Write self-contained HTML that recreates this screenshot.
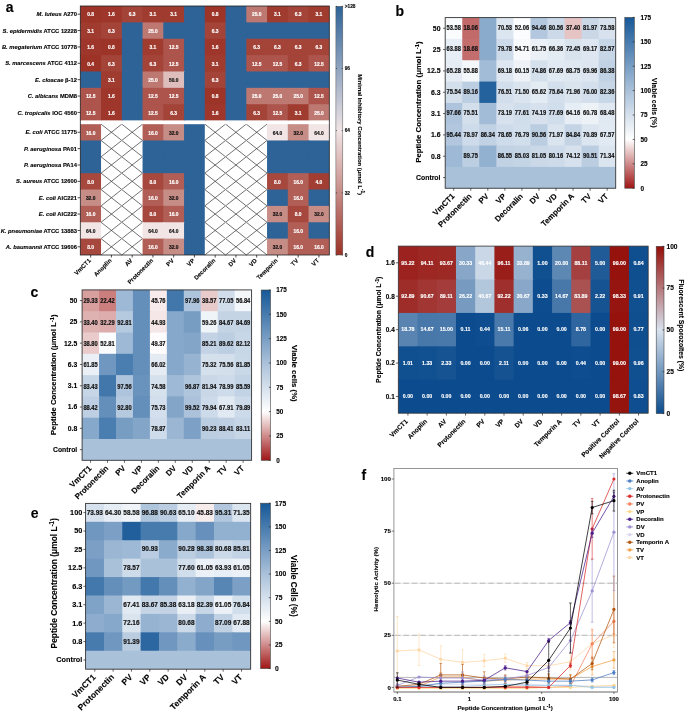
<!DOCTYPE html>
<html><head><meta charset="utf-8"><style>
html,body{margin:0;padding:0;background:#fff;}
body{width:685px;height:714px;overflow:hidden;}
svg{display:block;font-family:"Liberation Sans", sans-serif;will-change:transform;}
</style></head><body>
<svg width="685" height="714" viewBox="0 0 685 714">
<rect x="0" y="0" width="685" height="714" fill="#ffffff"/>
<rect x="80.30" y="6.00" width="21.75" height="17.37" fill="#9d3428"/>
<text x="90.67" y="16.48" font-size="4.90" text-anchor="middle" font-weight="bold" fill="#fff" stroke="#fff" stroke-width="0.15">0.8</text>
<rect x="101.05" y="6.00" width="21.75" height="17.37" fill="#9e362b"/>
<text x="111.42" y="16.48" font-size="4.90" text-anchor="middle" font-weight="bold" fill="#fff" stroke="#fff" stroke-width="0.15">1.6</text>
<rect x="121.80" y="6.00" width="21.75" height="17.37" fill="#a44439"/>
<text x="132.18" y="16.48" font-size="4.90" text-anchor="middle" font-weight="bold" fill="#fff" stroke="#fff" stroke-width="0.15">6.3</text>
<rect x="142.55" y="6.00" width="21.75" height="17.37" fill="#a03b2f"/>
<text x="152.93" y="16.48" font-size="4.90" text-anchor="middle" font-weight="bold" fill="#fff" stroke="#fff" stroke-width="0.15">3.1</text>
<rect x="163.30" y="6.00" width="21.75" height="17.37" fill="#a03b2f"/>
<text x="173.68" y="16.48" font-size="4.90" text-anchor="middle" font-weight="bold" fill="#fff" stroke="#fff" stroke-width="0.15">3.1</text>
<rect x="184.05" y="6.00" width="21.75" height="17.37" fill="#2e6398"/>
<rect x="204.80" y="6.00" width="21.75" height="17.37" fill="#9d3428"/>
<text x="215.18" y="16.48" font-size="4.90" text-anchor="middle" font-weight="bold" fill="#fff" stroke="#fff" stroke-width="0.15">0.8</text>
<rect x="225.55" y="6.00" width="21.75" height="17.37" fill="#2e6398"/>
<rect x="246.30" y="6.00" width="21.75" height="17.37" fill="#bd7871"/>
<text x="256.68" y="16.48" font-size="4.90" text-anchor="middle" font-weight="bold" fill="#fff" stroke="#fff" stroke-width="0.15">25.0</text>
<rect x="267.05" y="6.00" width="21.75" height="17.37" fill="#a03b2f"/>
<text x="277.43" y="16.48" font-size="4.90" text-anchor="middle" font-weight="bold" fill="#fff" stroke="#fff" stroke-width="0.15">3.1</text>
<rect x="287.80" y="6.00" width="21.75" height="17.37" fill="#a44439"/>
<text x="298.18" y="16.48" font-size="4.90" text-anchor="middle" font-weight="bold" fill="#fff" stroke="#fff" stroke-width="0.15">6.3</text>
<rect x="308.55" y="6.00" width="20.75" height="17.37" fill="#a03b2f"/>
<text x="318.93" y="16.48" font-size="4.90" text-anchor="middle" font-weight="bold" fill="#fff" stroke="#fff" stroke-width="0.15">3.1</text>
<text x="77.00" y="16.29" font-size="5.80" text-anchor="end" font-weight="bold" fill="#000" stroke="#000" stroke-width="0.12"><tspan font-style="italic">M. luteus</tspan> A270</text>
<line x1="77.60" y1="14.19" x2="80.30" y2="14.19" stroke="#000" stroke-width="0.70"/>
<rect x="80.30" y="22.37" width="21.75" height="17.37" fill="#a03b2f"/>
<text x="90.67" y="32.85" font-size="4.90" text-anchor="middle" font-weight="bold" fill="#fff" stroke="#fff" stroke-width="0.15">3.1</text>
<rect x="101.05" y="22.37" width="21.75" height="17.37" fill="#a44439"/>
<text x="111.42" y="32.85" font-size="4.90" text-anchor="middle" font-weight="bold" fill="#fff" stroke="#fff" stroke-width="0.15">6.3</text>
<rect x="121.80" y="22.37" width="21.75" height="17.37" fill="#2e6398"/>
<rect x="142.55" y="22.37" width="21.75" height="17.37" fill="#bd7871"/>
<text x="152.93" y="32.85" font-size="4.90" text-anchor="middle" font-weight="bold" fill="#fff" stroke="#fff" stroke-width="0.15">25.0</text>
<rect x="163.30" y="22.37" width="21.75" height="17.37" fill="#2e6398"/>
<rect x="184.05" y="22.37" width="21.75" height="17.37" fill="#2e6398"/>
<rect x="204.80" y="22.37" width="21.75" height="17.37" fill="#a44439"/>
<text x="215.18" y="32.85" font-size="4.90" text-anchor="middle" font-weight="bold" fill="#fff" stroke="#fff" stroke-width="0.15">6.3</text>
<rect x="225.55" y="22.37" width="21.75" height="17.37" fill="#2e6398"/>
<rect x="246.30" y="22.37" width="21.75" height="17.37" fill="#2e6398"/>
<rect x="267.05" y="22.37" width="21.75" height="17.37" fill="#2e6398"/>
<rect x="287.80" y="22.37" width="21.75" height="17.37" fill="#2e6398"/>
<rect x="308.55" y="22.37" width="20.75" height="17.37" fill="#2e6398"/>
<text x="77.00" y="32.66" font-size="5.80" text-anchor="end" font-weight="bold" fill="#000" stroke="#000" stroke-width="0.12"><tspan font-style="italic">S. epidermidis</tspan> ATCC 12228</text>
<line x1="77.60" y1="30.55" x2="80.30" y2="30.55" stroke="#000" stroke-width="0.70"/>
<rect x="80.30" y="38.74" width="21.75" height="17.37" fill="#9e362b"/>
<text x="90.67" y="49.23" font-size="4.90" text-anchor="middle" font-weight="bold" fill="#fff" stroke="#fff" stroke-width="0.15">1.6</text>
<rect x="101.05" y="38.74" width="21.75" height="17.37" fill="#9d3428"/>
<text x="111.42" y="49.23" font-size="4.90" text-anchor="middle" font-weight="bold" fill="#fff" stroke="#fff" stroke-width="0.15">0.8</text>
<rect x="121.80" y="38.74" width="21.75" height="17.37" fill="#2e6398"/>
<rect x="142.55" y="38.74" width="21.75" height="17.37" fill="#a03b2f"/>
<text x="152.93" y="49.23" font-size="4.90" text-anchor="middle" font-weight="bold" fill="#fff" stroke="#fff" stroke-width="0.15">3.1</text>
<rect x="163.30" y="38.74" width="21.75" height="17.37" fill="#ad554c"/>
<text x="173.68" y="49.23" font-size="4.90" text-anchor="middle" font-weight="bold" fill="#fff" stroke="#fff" stroke-width="0.15">12.5</text>
<rect x="184.05" y="38.74" width="21.75" height="17.37" fill="#2e6398"/>
<rect x="204.80" y="38.74" width="21.75" height="17.37" fill="#9e362b"/>
<text x="215.18" y="49.23" font-size="4.90" text-anchor="middle" font-weight="bold" fill="#fff" stroke="#fff" stroke-width="0.15">1.6</text>
<rect x="225.55" y="38.74" width="21.75" height="17.37" fill="#2e6398"/>
<rect x="246.30" y="38.74" width="21.75" height="17.37" fill="#a44439"/>
<text x="256.68" y="49.23" font-size="4.90" text-anchor="middle" font-weight="bold" fill="#fff" stroke="#fff" stroke-width="0.15">6.3</text>
<rect x="267.05" y="38.74" width="21.75" height="17.37" fill="#a44439"/>
<text x="277.43" y="49.23" font-size="4.90" text-anchor="middle" font-weight="bold" fill="#fff" stroke="#fff" stroke-width="0.15">6.3</text>
<rect x="287.80" y="38.74" width="21.75" height="17.37" fill="#a44439"/>
<text x="298.18" y="49.23" font-size="4.90" text-anchor="middle" font-weight="bold" fill="#fff" stroke="#fff" stroke-width="0.15">6.3</text>
<rect x="308.55" y="38.74" width="20.75" height="17.37" fill="#a44439"/>
<text x="318.93" y="49.23" font-size="4.90" text-anchor="middle" font-weight="bold" fill="#fff" stroke="#fff" stroke-width="0.15">6.3</text>
<text x="77.00" y="49.03" font-size="5.80" text-anchor="end" font-weight="bold" fill="#000" stroke="#000" stroke-width="0.12"><tspan font-style="italic">B. megaterium</tspan> ATCC 10778</text>
<line x1="77.60" y1="46.93" x2="80.30" y2="46.93" stroke="#000" stroke-width="0.70"/>
<rect x="80.30" y="55.11" width="21.75" height="17.37" fill="#9d3327"/>
<text x="90.67" y="65.59" font-size="4.90" text-anchor="middle" font-weight="bold" fill="#fff" stroke="#fff" stroke-width="0.15">0.4</text>
<rect x="101.05" y="55.11" width="21.75" height="17.37" fill="#a44439"/>
<text x="111.42" y="65.59" font-size="4.90" text-anchor="middle" font-weight="bold" fill="#fff" stroke="#fff" stroke-width="0.15">6.3</text>
<rect x="121.80" y="55.11" width="21.75" height="17.37" fill="#2e6398"/>
<rect x="142.55" y="55.11" width="21.75" height="17.37" fill="#a44439"/>
<text x="152.93" y="65.59" font-size="4.90" text-anchor="middle" font-weight="bold" fill="#fff" stroke="#fff" stroke-width="0.15">6.3</text>
<rect x="163.30" y="55.11" width="21.75" height="17.37" fill="#ad554c"/>
<text x="173.68" y="65.59" font-size="4.90" text-anchor="middle" font-weight="bold" fill="#fff" stroke="#fff" stroke-width="0.15">12.5</text>
<rect x="184.05" y="55.11" width="21.75" height="17.37" fill="#2e6398"/>
<rect x="204.80" y="55.11" width="21.75" height="17.37" fill="#a03b2f"/>
<text x="215.18" y="65.59" font-size="4.90" text-anchor="middle" font-weight="bold" fill="#fff" stroke="#fff" stroke-width="0.15">3.1</text>
<rect x="225.55" y="55.11" width="21.75" height="17.37" fill="#2e6398"/>
<rect x="246.30" y="55.11" width="21.75" height="17.37" fill="#ad554c"/>
<text x="256.68" y="65.59" font-size="4.90" text-anchor="middle" font-weight="bold" fill="#fff" stroke="#fff" stroke-width="0.15">12.5</text>
<rect x="267.05" y="55.11" width="21.75" height="17.37" fill="#ad554c"/>
<text x="277.43" y="65.59" font-size="4.90" text-anchor="middle" font-weight="bold" fill="#fff" stroke="#fff" stroke-width="0.15">12.5</text>
<rect x="287.80" y="55.11" width="21.75" height="17.37" fill="#a44439"/>
<text x="298.18" y="65.59" font-size="4.90" text-anchor="middle" font-weight="bold" fill="#fff" stroke="#fff" stroke-width="0.15">6.3</text>
<rect x="308.55" y="55.11" width="20.75" height="17.37" fill="#ad554c"/>
<text x="318.93" y="65.59" font-size="4.90" text-anchor="middle" font-weight="bold" fill="#fff" stroke="#fff" stroke-width="0.15">12.5</text>
<text x="77.00" y="65.39" font-size="5.80" text-anchor="end" font-weight="bold" fill="#000" stroke="#000" stroke-width="0.12"><tspan font-style="italic">S. marcescens</tspan> ATCC 4112</text>
<line x1="77.60" y1="63.30" x2="80.30" y2="63.30" stroke="#000" stroke-width="0.70"/>
<rect x="80.30" y="71.48" width="21.75" height="17.37" fill="#2e6398"/>
<rect x="101.05" y="71.48" width="21.75" height="17.37" fill="#a03b2f"/>
<text x="111.42" y="81.97" font-size="4.90" text-anchor="middle" font-weight="bold" fill="#fff" stroke="#fff" stroke-width="0.15">3.1</text>
<rect x="121.80" y="71.48" width="21.75" height="17.37" fill="#2e6398"/>
<rect x="142.55" y="71.48" width="21.75" height="17.37" fill="#bd7871"/>
<text x="152.93" y="81.97" font-size="4.90" text-anchor="middle" font-weight="bold" fill="#fff" stroke="#fff" stroke-width="0.15">25.0</text>
<rect x="163.30" y="71.48" width="21.75" height="17.37" fill="#debebc"/>
<text x="173.68" y="81.97" font-size="4.90" text-anchor="middle" font-weight="bold" fill="#111" stroke="#111" stroke-width="0.15">50.0</text>
<rect x="184.05" y="71.48" width="21.75" height="17.37" fill="#2e6398"/>
<rect x="204.80" y="71.48" width="21.75" height="17.37" fill="#a44439"/>
<text x="215.18" y="81.97" font-size="4.90" text-anchor="middle" font-weight="bold" fill="#fff" stroke="#fff" stroke-width="0.15">6.3</text>
<rect x="225.55" y="71.48" width="21.75" height="17.37" fill="#2e6398"/>
<rect x="246.30" y="71.48" width="21.75" height="17.37" fill="#2e6398"/>
<rect x="267.05" y="71.48" width="21.75" height="17.37" fill="#2e6398"/>
<rect x="287.80" y="71.48" width="21.75" height="17.37" fill="#2e6398"/>
<rect x="308.55" y="71.48" width="20.75" height="17.37" fill="#2e6398"/>
<text x="77.00" y="81.77" font-size="5.80" text-anchor="end" font-weight="bold" fill="#000" stroke="#000" stroke-width="0.12"><tspan font-style="italic">E. cloacae</tspan> &#946;-12</text>
<line x1="77.60" y1="79.67" x2="80.30" y2="79.67" stroke="#000" stroke-width="0.70"/>
<rect x="80.30" y="87.85" width="21.75" height="17.37" fill="#ad554c"/>
<text x="90.67" y="98.34" font-size="4.90" text-anchor="middle" font-weight="bold" fill="#fff" stroke="#fff" stroke-width="0.15">12.5</text>
<rect x="101.05" y="87.85" width="21.75" height="17.37" fill="#9e362b"/>
<text x="111.42" y="98.34" font-size="4.90" text-anchor="middle" font-weight="bold" fill="#fff" stroke="#fff" stroke-width="0.15">1.6</text>
<rect x="121.80" y="87.85" width="21.75" height="17.37" fill="#2e6398"/>
<rect x="142.55" y="87.85" width="21.75" height="17.37" fill="#ad554c"/>
<text x="152.93" y="98.34" font-size="4.90" text-anchor="middle" font-weight="bold" fill="#fff" stroke="#fff" stroke-width="0.15">12.5</text>
<rect x="163.30" y="87.85" width="21.75" height="17.37" fill="#ad554c"/>
<text x="173.68" y="98.34" font-size="4.90" text-anchor="middle" font-weight="bold" fill="#fff" stroke="#fff" stroke-width="0.15">12.5</text>
<rect x="184.05" y="87.85" width="21.75" height="17.37" fill="#2e6398"/>
<rect x="204.80" y="87.85" width="21.75" height="17.37" fill="#9d3428"/>
<text x="215.18" y="98.34" font-size="4.90" text-anchor="middle" font-weight="bold" fill="#fff" stroke="#fff" stroke-width="0.15">0.8</text>
<rect x="225.55" y="87.85" width="21.75" height="17.37" fill="#2e6398"/>
<rect x="246.30" y="87.85" width="21.75" height="17.37" fill="#bd7871"/>
<text x="256.68" y="98.34" font-size="4.90" text-anchor="middle" font-weight="bold" fill="#fff" stroke="#fff" stroke-width="0.15">25.0</text>
<rect x="267.05" y="87.85" width="21.75" height="17.37" fill="#bd7871"/>
<text x="277.43" y="98.34" font-size="4.90" text-anchor="middle" font-weight="bold" fill="#fff" stroke="#fff" stroke-width="0.15">25.0</text>
<rect x="287.80" y="87.85" width="21.75" height="17.37" fill="#bd7871"/>
<text x="298.18" y="98.34" font-size="4.90" text-anchor="middle" font-weight="bold" fill="#fff" stroke="#fff" stroke-width="0.15">25.0</text>
<rect x="308.55" y="87.85" width="20.75" height="17.37" fill="#ad554c"/>
<text x="318.93" y="98.34" font-size="4.90" text-anchor="middle" font-weight="bold" fill="#fff" stroke="#fff" stroke-width="0.15">12.5</text>
<text x="77.00" y="98.14" font-size="5.80" text-anchor="end" font-weight="bold" fill="#000" stroke="#000" stroke-width="0.12"><tspan font-style="italic">C. albicans</tspan> MDM8</text>
<line x1="77.60" y1="96.04" x2="80.30" y2="96.04" stroke="#000" stroke-width="0.70"/>
<rect x="80.30" y="104.22" width="21.75" height="16.37" fill="#ad554c"/>
<text x="90.67" y="114.70" font-size="4.90" text-anchor="middle" font-weight="bold" fill="#fff" stroke="#fff" stroke-width="0.15">12.5</text>
<rect x="101.05" y="104.22" width="21.75" height="16.37" fill="#9e362b"/>
<text x="111.42" y="114.70" font-size="4.90" text-anchor="middle" font-weight="bold" fill="#fff" stroke="#fff" stroke-width="0.15">1.6</text>
<rect x="121.80" y="104.22" width="21.75" height="16.37" fill="#2e6398"/>
<rect x="142.55" y="104.22" width="21.75" height="16.37" fill="#ad554c"/>
<text x="152.93" y="114.70" font-size="4.90" text-anchor="middle" font-weight="bold" fill="#fff" stroke="#fff" stroke-width="0.15">12.5</text>
<rect x="163.30" y="104.22" width="21.75" height="16.37" fill="#a44439"/>
<text x="173.68" y="114.70" font-size="4.90" text-anchor="middle" font-weight="bold" fill="#fff" stroke="#fff" stroke-width="0.15">6.3</text>
<rect x="184.05" y="104.22" width="21.75" height="16.37" fill="#2e6398"/>
<rect x="204.80" y="104.22" width="21.75" height="16.37" fill="#9e362b"/>
<text x="215.18" y="114.70" font-size="4.90" text-anchor="middle" font-weight="bold" fill="#fff" stroke="#fff" stroke-width="0.15">1.6</text>
<rect x="225.55" y="104.22" width="21.75" height="16.37" fill="#2e6398"/>
<rect x="246.30" y="104.22" width="21.75" height="16.37" fill="#a44439"/>
<text x="256.68" y="114.70" font-size="4.90" text-anchor="middle" font-weight="bold" fill="#fff" stroke="#fff" stroke-width="0.15">6.3</text>
<rect x="267.05" y="104.22" width="21.75" height="16.37" fill="#ad554c"/>
<text x="277.43" y="114.70" font-size="4.90" text-anchor="middle" font-weight="bold" fill="#fff" stroke="#fff" stroke-width="0.15">12.5</text>
<rect x="287.80" y="104.22" width="21.75" height="16.37" fill="#a03b2f"/>
<text x="298.18" y="114.70" font-size="4.90" text-anchor="middle" font-weight="bold" fill="#fff" stroke="#fff" stroke-width="0.15">3.1</text>
<rect x="308.55" y="104.22" width="20.75" height="16.37" fill="#bd7871"/>
<text x="318.93" y="114.70" font-size="4.90" text-anchor="middle" font-weight="bold" fill="#fff" stroke="#fff" stroke-width="0.15">25.0</text>
<text x="77.00" y="114.50" font-size="5.80" text-anchor="end" font-weight="bold" fill="#000" stroke="#000" stroke-width="0.12"><tspan font-style="italic">C. tropicalis</tspan> IOC 4560</text>
<line x1="77.60" y1="112.41" x2="80.30" y2="112.41" stroke="#000" stroke-width="0.70"/>
<rect x="80.30" y="124.10" width="21.75" height="17.36" fill="#b15f56"/>
<text x="90.67" y="134.58" font-size="4.90" text-anchor="middle" font-weight="bold" fill="#fff" stroke="#fff" stroke-width="0.15">16.0</text>
<rect x="101.05" y="124.10" width="21.75" height="17.36" fill="#ffffff"/>
<line x1="101.05" y1="124.10" x2="121.80" y2="140.46" stroke="#333" stroke-width="0.70"/>
<line x1="121.80" y1="124.10" x2="101.05" y2="140.46" stroke="#333" stroke-width="0.70"/>
<rect x="121.80" y="124.10" width="21.75" height="17.36" fill="#ffffff"/>
<line x1="121.80" y1="124.10" x2="142.55" y2="140.46" stroke="#333" stroke-width="0.70"/>
<line x1="142.55" y1="124.10" x2="121.80" y2="140.46" stroke="#333" stroke-width="0.70"/>
<rect x="142.55" y="124.10" width="21.75" height="17.36" fill="#b15f56"/>
<text x="152.93" y="134.58" font-size="4.90" text-anchor="middle" font-weight="bold" fill="#fff" stroke="#fff" stroke-width="0.15">16.0</text>
<rect x="163.30" y="124.10" width="21.75" height="17.36" fill="#c68c86"/>
<text x="173.68" y="134.58" font-size="4.90" text-anchor="middle" font-weight="bold" fill="#111" stroke="#111" stroke-width="0.15">32.0</text>
<rect x="184.05" y="124.10" width="21.75" height="17.36" fill="#2e6398"/>
<rect x="204.80" y="124.10" width="21.75" height="17.36" fill="#ffffff"/>
<line x1="204.80" y1="124.10" x2="225.55" y2="140.46" stroke="#333" stroke-width="0.70"/>
<line x1="225.55" y1="124.10" x2="204.80" y2="140.46" stroke="#333" stroke-width="0.70"/>
<rect x="225.55" y="124.10" width="21.75" height="17.36" fill="#ffffff"/>
<line x1="225.55" y1="124.10" x2="246.30" y2="140.46" stroke="#333" stroke-width="0.70"/>
<line x1="246.30" y1="124.10" x2="225.55" y2="140.46" stroke="#333" stroke-width="0.70"/>
<rect x="246.30" y="124.10" width="21.75" height="17.36" fill="#ffffff"/>
<line x1="246.30" y1="124.10" x2="267.05" y2="140.46" stroke="#333" stroke-width="0.70"/>
<line x1="267.05" y1="124.10" x2="246.30" y2="140.46" stroke="#333" stroke-width="0.70"/>
<rect x="267.05" y="124.10" width="21.75" height="17.36" fill="#f1e5e6"/>
<text x="277.43" y="134.58" font-size="4.90" text-anchor="middle" font-weight="bold" fill="#111" stroke="#111" stroke-width="0.15">64.0</text>
<rect x="287.80" y="124.10" width="21.75" height="17.36" fill="#c68c86"/>
<text x="298.18" y="134.58" font-size="4.90" text-anchor="middle" font-weight="bold" fill="#111" stroke="#111" stroke-width="0.15">32.0</text>
<rect x="308.55" y="124.10" width="20.75" height="17.36" fill="#f1e5e6"/>
<text x="318.93" y="134.58" font-size="4.90" text-anchor="middle" font-weight="bold" fill="#111" stroke="#111" stroke-width="0.15">64.0</text>
<text x="77.00" y="134.38" font-size="5.80" text-anchor="end" font-weight="bold" fill="#000" stroke="#000" stroke-width="0.12"><tspan font-style="italic">E. coli</tspan> ATCC 11775</text>
<line x1="77.60" y1="132.28" x2="80.30" y2="132.28" stroke="#000" stroke-width="0.70"/>
<rect x="80.30" y="140.46" width="21.75" height="17.36" fill="#2e6398"/>
<rect x="101.05" y="140.46" width="21.75" height="17.36" fill="#ffffff"/>
<line x1="101.05" y1="140.46" x2="121.80" y2="156.82" stroke="#333" stroke-width="0.70"/>
<line x1="121.80" y1="140.46" x2="101.05" y2="156.82" stroke="#333" stroke-width="0.70"/>
<rect x="121.80" y="140.46" width="21.75" height="17.36" fill="#ffffff"/>
<line x1="121.80" y1="140.46" x2="142.55" y2="156.82" stroke="#333" stroke-width="0.70"/>
<line x1="142.55" y1="140.46" x2="121.80" y2="156.82" stroke="#333" stroke-width="0.70"/>
<rect x="142.55" y="140.46" width="21.75" height="17.36" fill="#2e6398"/>
<rect x="163.30" y="140.46" width="21.75" height="17.36" fill="#2e6398"/>
<rect x="184.05" y="140.46" width="21.75" height="17.36" fill="#2e6398"/>
<rect x="204.80" y="140.46" width="21.75" height="17.36" fill="#ffffff"/>
<line x1="204.80" y1="140.46" x2="225.55" y2="156.82" stroke="#333" stroke-width="0.70"/>
<line x1="225.55" y1="140.46" x2="204.80" y2="156.82" stroke="#333" stroke-width="0.70"/>
<rect x="225.55" y="140.46" width="21.75" height="17.36" fill="#ffffff"/>
<line x1="225.55" y1="140.46" x2="246.30" y2="156.82" stroke="#333" stroke-width="0.70"/>
<line x1="246.30" y1="140.46" x2="225.55" y2="156.82" stroke="#333" stroke-width="0.70"/>
<rect x="246.30" y="140.46" width="21.75" height="17.36" fill="#ffffff"/>
<line x1="246.30" y1="140.46" x2="267.05" y2="156.82" stroke="#333" stroke-width="0.70"/>
<line x1="267.05" y1="140.46" x2="246.30" y2="156.82" stroke="#333" stroke-width="0.70"/>
<rect x="267.05" y="140.46" width="21.75" height="17.36" fill="#2e6398"/>
<rect x="287.80" y="140.46" width="21.75" height="17.36" fill="#2e6398"/>
<rect x="308.55" y="140.46" width="20.75" height="17.36" fill="#2e6398"/>
<text x="77.00" y="150.74" font-size="5.80" text-anchor="end" font-weight="bold" fill="#000" stroke="#000" stroke-width="0.12"><tspan font-style="italic">P. aeruginosa</tspan> PA01</text>
<line x1="77.60" y1="148.64" x2="80.30" y2="148.64" stroke="#000" stroke-width="0.70"/>
<rect x="80.30" y="156.82" width="21.75" height="17.36" fill="#2e6398"/>
<rect x="101.05" y="156.82" width="21.75" height="17.36" fill="#ffffff"/>
<line x1="101.05" y1="156.82" x2="121.80" y2="173.18" stroke="#333" stroke-width="0.70"/>
<line x1="121.80" y1="156.82" x2="101.05" y2="173.18" stroke="#333" stroke-width="0.70"/>
<rect x="121.80" y="156.82" width="21.75" height="17.36" fill="#ffffff"/>
<line x1="121.80" y1="156.82" x2="142.55" y2="173.18" stroke="#333" stroke-width="0.70"/>
<line x1="142.55" y1="156.82" x2="121.80" y2="173.18" stroke="#333" stroke-width="0.70"/>
<rect x="142.55" y="156.82" width="21.75" height="17.36" fill="#2e6398"/>
<rect x="163.30" y="156.82" width="21.75" height="17.36" fill="#2e6398"/>
<rect x="184.05" y="156.82" width="21.75" height="17.36" fill="#2e6398"/>
<rect x="204.80" y="156.82" width="21.75" height="17.36" fill="#ffffff"/>
<line x1="204.80" y1="156.82" x2="225.55" y2="173.18" stroke="#333" stroke-width="0.70"/>
<line x1="225.55" y1="156.82" x2="204.80" y2="173.18" stroke="#333" stroke-width="0.70"/>
<rect x="225.55" y="156.82" width="21.75" height="17.36" fill="#ffffff"/>
<line x1="225.55" y1="156.82" x2="246.30" y2="173.18" stroke="#333" stroke-width="0.70"/>
<line x1="246.30" y1="156.82" x2="225.55" y2="173.18" stroke="#333" stroke-width="0.70"/>
<rect x="246.30" y="156.82" width="21.75" height="17.36" fill="#ffffff"/>
<line x1="246.30" y1="156.82" x2="267.05" y2="173.18" stroke="#333" stroke-width="0.70"/>
<line x1="267.05" y1="156.82" x2="246.30" y2="173.18" stroke="#333" stroke-width="0.70"/>
<rect x="267.05" y="156.82" width="21.75" height="17.36" fill="#2e6398"/>
<rect x="287.80" y="156.82" width="21.75" height="17.36" fill="#2e6398"/>
<rect x="308.55" y="156.82" width="20.75" height="17.36" fill="#2e6398"/>
<text x="77.00" y="167.10" font-size="5.80" text-anchor="end" font-weight="bold" fill="#000" stroke="#000" stroke-width="0.12"><tspan font-style="italic">P. aeruginosa</tspan> PA14</text>
<line x1="77.60" y1="165.00" x2="80.30" y2="165.00" stroke="#000" stroke-width="0.70"/>
<rect x="80.30" y="173.18" width="21.75" height="17.36" fill="#a7483e"/>
<text x="90.67" y="183.66" font-size="4.90" text-anchor="middle" font-weight="bold" fill="#fff" stroke="#fff" stroke-width="0.15">8.0</text>
<rect x="101.05" y="173.18" width="21.75" height="17.36" fill="#ffffff"/>
<line x1="101.05" y1="173.18" x2="121.80" y2="189.54" stroke="#333" stroke-width="0.70"/>
<line x1="121.80" y1="173.18" x2="101.05" y2="189.54" stroke="#333" stroke-width="0.70"/>
<rect x="121.80" y="173.18" width="21.75" height="17.36" fill="#ffffff"/>
<line x1="121.80" y1="173.18" x2="142.55" y2="189.54" stroke="#333" stroke-width="0.70"/>
<line x1="142.55" y1="173.18" x2="121.80" y2="189.54" stroke="#333" stroke-width="0.70"/>
<rect x="142.55" y="173.18" width="21.75" height="17.36" fill="#a7483e"/>
<text x="152.93" y="183.66" font-size="4.90" text-anchor="middle" font-weight="bold" fill="#fff" stroke="#fff" stroke-width="0.15">8.0</text>
<rect x="163.30" y="173.18" width="21.75" height="17.36" fill="#b15f56"/>
<text x="173.68" y="183.66" font-size="4.90" text-anchor="middle" font-weight="bold" fill="#fff" stroke="#fff" stroke-width="0.15">16.0</text>
<rect x="184.05" y="173.18" width="21.75" height="17.36" fill="#2e6398"/>
<rect x="204.80" y="173.18" width="21.75" height="17.36" fill="#ffffff"/>
<line x1="204.80" y1="173.18" x2="225.55" y2="189.54" stroke="#333" stroke-width="0.70"/>
<line x1="225.55" y1="173.18" x2="204.80" y2="189.54" stroke="#333" stroke-width="0.70"/>
<rect x="225.55" y="173.18" width="21.75" height="17.36" fill="#ffffff"/>
<line x1="225.55" y1="173.18" x2="246.30" y2="189.54" stroke="#333" stroke-width="0.70"/>
<line x1="246.30" y1="173.18" x2="225.55" y2="189.54" stroke="#333" stroke-width="0.70"/>
<rect x="246.30" y="173.18" width="21.75" height="17.36" fill="#ffffff"/>
<line x1="246.30" y1="173.18" x2="267.05" y2="189.54" stroke="#333" stroke-width="0.70"/>
<line x1="267.05" y1="173.18" x2="246.30" y2="189.54" stroke="#333" stroke-width="0.70"/>
<rect x="267.05" y="173.18" width="21.75" height="17.36" fill="#a7483e"/>
<text x="277.43" y="183.66" font-size="4.90" text-anchor="middle" font-weight="bold" fill="#fff" stroke="#fff" stroke-width="0.15">8.0</text>
<rect x="287.80" y="173.18" width="21.75" height="17.36" fill="#b15f56"/>
<text x="298.18" y="183.66" font-size="4.90" text-anchor="middle" font-weight="bold" fill="#fff" stroke="#fff" stroke-width="0.15">16.0</text>
<rect x="308.55" y="173.18" width="20.75" height="17.36" fill="#a13d32"/>
<text x="318.93" y="183.66" font-size="4.90" text-anchor="middle" font-weight="bold" fill="#fff" stroke="#fff" stroke-width="0.15">4.0</text>
<text x="77.00" y="183.46" font-size="5.80" text-anchor="end" font-weight="bold" fill="#000" stroke="#000" stroke-width="0.12"><tspan font-style="italic">S. aureus</tspan> ATCC 12600</text>
<line x1="77.60" y1="181.36" x2="80.30" y2="181.36" stroke="#000" stroke-width="0.70"/>
<rect x="80.30" y="189.54" width="21.75" height="17.36" fill="#c68c86"/>
<text x="90.67" y="200.02" font-size="4.90" text-anchor="middle" font-weight="bold" fill="#111" stroke="#111" stroke-width="0.15">32.0</text>
<rect x="101.05" y="189.54" width="21.75" height="17.36" fill="#ffffff"/>
<line x1="101.05" y1="189.54" x2="121.80" y2="205.90" stroke="#333" stroke-width="0.70"/>
<line x1="121.80" y1="189.54" x2="101.05" y2="205.90" stroke="#333" stroke-width="0.70"/>
<rect x="121.80" y="189.54" width="21.75" height="17.36" fill="#ffffff"/>
<line x1="121.80" y1="189.54" x2="142.55" y2="205.90" stroke="#333" stroke-width="0.70"/>
<line x1="142.55" y1="189.54" x2="121.80" y2="205.90" stroke="#333" stroke-width="0.70"/>
<rect x="142.55" y="189.54" width="21.75" height="17.36" fill="#b15f56"/>
<text x="152.93" y="200.02" font-size="4.90" text-anchor="middle" font-weight="bold" fill="#fff" stroke="#fff" stroke-width="0.15">16.0</text>
<rect x="163.30" y="189.54" width="21.75" height="17.36" fill="#c68c86"/>
<text x="173.68" y="200.02" font-size="4.90" text-anchor="middle" font-weight="bold" fill="#111" stroke="#111" stroke-width="0.15">32.0</text>
<rect x="184.05" y="189.54" width="21.75" height="17.36" fill="#2e6398"/>
<rect x="204.80" y="189.54" width="21.75" height="17.36" fill="#ffffff"/>
<line x1="204.80" y1="189.54" x2="225.55" y2="205.90" stroke="#333" stroke-width="0.70"/>
<line x1="225.55" y1="189.54" x2="204.80" y2="205.90" stroke="#333" stroke-width="0.70"/>
<rect x="225.55" y="189.54" width="21.75" height="17.36" fill="#ffffff"/>
<line x1="225.55" y1="189.54" x2="246.30" y2="205.90" stroke="#333" stroke-width="0.70"/>
<line x1="246.30" y1="189.54" x2="225.55" y2="205.90" stroke="#333" stroke-width="0.70"/>
<rect x="246.30" y="189.54" width="21.75" height="17.36" fill="#ffffff"/>
<line x1="246.30" y1="189.54" x2="267.05" y2="205.90" stroke="#333" stroke-width="0.70"/>
<line x1="267.05" y1="189.54" x2="246.30" y2="205.90" stroke="#333" stroke-width="0.70"/>
<rect x="267.05" y="189.54" width="21.75" height="17.36" fill="#2e6398"/>
<rect x="287.80" y="189.54" width="21.75" height="17.36" fill="#b15f56"/>
<text x="298.18" y="200.02" font-size="4.90" text-anchor="middle" font-weight="bold" fill="#fff" stroke="#fff" stroke-width="0.15">16.0</text>
<rect x="308.55" y="189.54" width="20.75" height="17.36" fill="#2e6398"/>
<text x="77.00" y="199.82" font-size="5.80" text-anchor="end" font-weight="bold" fill="#000" stroke="#000" stroke-width="0.12"><tspan font-style="italic">E. coli</tspan> AIC221</text>
<line x1="77.60" y1="197.72" x2="80.30" y2="197.72" stroke="#000" stroke-width="0.70"/>
<rect x="80.30" y="205.90" width="21.75" height="17.36" fill="#b15f56"/>
<text x="90.67" y="216.38" font-size="4.90" text-anchor="middle" font-weight="bold" fill="#fff" stroke="#fff" stroke-width="0.15">16.0</text>
<rect x="101.05" y="205.90" width="21.75" height="17.36" fill="#ffffff"/>
<line x1="101.05" y1="205.90" x2="121.80" y2="222.26" stroke="#333" stroke-width="0.70"/>
<line x1="121.80" y1="205.90" x2="101.05" y2="222.26" stroke="#333" stroke-width="0.70"/>
<rect x="121.80" y="205.90" width="21.75" height="17.36" fill="#ffffff"/>
<line x1="121.80" y1="205.90" x2="142.55" y2="222.26" stroke="#333" stroke-width="0.70"/>
<line x1="142.55" y1="205.90" x2="121.80" y2="222.26" stroke="#333" stroke-width="0.70"/>
<rect x="142.55" y="205.90" width="21.75" height="17.36" fill="#a7483e"/>
<text x="152.93" y="216.38" font-size="4.90" text-anchor="middle" font-weight="bold" fill="#fff" stroke="#fff" stroke-width="0.15">8.0</text>
<rect x="163.30" y="205.90" width="21.75" height="17.36" fill="#b15f56"/>
<text x="173.68" y="216.38" font-size="4.90" text-anchor="middle" font-weight="bold" fill="#fff" stroke="#fff" stroke-width="0.15">16.0</text>
<rect x="184.05" y="205.90" width="21.75" height="17.36" fill="#2e6398"/>
<rect x="204.80" y="205.90" width="21.75" height="17.36" fill="#ffffff"/>
<line x1="204.80" y1="205.90" x2="225.55" y2="222.26" stroke="#333" stroke-width="0.70"/>
<line x1="225.55" y1="205.90" x2="204.80" y2="222.26" stroke="#333" stroke-width="0.70"/>
<rect x="225.55" y="205.90" width="21.75" height="17.36" fill="#ffffff"/>
<line x1="225.55" y1="205.90" x2="246.30" y2="222.26" stroke="#333" stroke-width="0.70"/>
<line x1="246.30" y1="205.90" x2="225.55" y2="222.26" stroke="#333" stroke-width="0.70"/>
<rect x="246.30" y="205.90" width="21.75" height="17.36" fill="#ffffff"/>
<line x1="246.30" y1="205.90" x2="267.05" y2="222.26" stroke="#333" stroke-width="0.70"/>
<line x1="267.05" y1="205.90" x2="246.30" y2="222.26" stroke="#333" stroke-width="0.70"/>
<rect x="267.05" y="205.90" width="21.75" height="17.36" fill="#c68c86"/>
<text x="277.43" y="216.38" font-size="4.90" text-anchor="middle" font-weight="bold" fill="#111" stroke="#111" stroke-width="0.15">32.0</text>
<rect x="287.80" y="205.90" width="21.75" height="17.36" fill="#a7483e"/>
<text x="298.18" y="216.38" font-size="4.90" text-anchor="middle" font-weight="bold" fill="#fff" stroke="#fff" stroke-width="0.15">8.0</text>
<rect x="308.55" y="205.90" width="20.75" height="17.36" fill="#c68c86"/>
<text x="318.93" y="216.38" font-size="4.90" text-anchor="middle" font-weight="bold" fill="#111" stroke="#111" stroke-width="0.15">32.0</text>
<text x="77.00" y="216.18" font-size="5.80" text-anchor="end" font-weight="bold" fill="#000" stroke="#000" stroke-width="0.12"><tspan font-style="italic">E. coli</tspan> AIC222</text>
<line x1="77.60" y1="214.08" x2="80.30" y2="214.08" stroke="#000" stroke-width="0.70"/>
<rect x="80.30" y="222.26" width="21.75" height="17.36" fill="#f1e5e6"/>
<text x="90.67" y="232.74" font-size="4.90" text-anchor="middle" font-weight="bold" fill="#111" stroke="#111" stroke-width="0.15">64.0</text>
<rect x="101.05" y="222.26" width="21.75" height="17.36" fill="#ffffff"/>
<line x1="101.05" y1="222.26" x2="121.80" y2="238.62" stroke="#333" stroke-width="0.70"/>
<line x1="121.80" y1="222.26" x2="101.05" y2="238.62" stroke="#333" stroke-width="0.70"/>
<rect x="121.80" y="222.26" width="21.75" height="17.36" fill="#ffffff"/>
<line x1="121.80" y1="222.26" x2="142.55" y2="238.62" stroke="#333" stroke-width="0.70"/>
<line x1="142.55" y1="222.26" x2="121.80" y2="238.62" stroke="#333" stroke-width="0.70"/>
<rect x="142.55" y="222.26" width="21.75" height="17.36" fill="#f1e5e6"/>
<text x="152.93" y="232.74" font-size="4.90" text-anchor="middle" font-weight="bold" fill="#111" stroke="#111" stroke-width="0.15">64.0</text>
<rect x="163.30" y="222.26" width="21.75" height="17.36" fill="#f1e5e6"/>
<text x="173.68" y="232.74" font-size="4.90" text-anchor="middle" font-weight="bold" fill="#111" stroke="#111" stroke-width="0.15">64.0</text>
<rect x="184.05" y="222.26" width="21.75" height="17.36" fill="#2e6398"/>
<rect x="204.80" y="222.26" width="21.75" height="17.36" fill="#ffffff"/>
<line x1="204.80" y1="222.26" x2="225.55" y2="238.62" stroke="#333" stroke-width="0.70"/>
<line x1="225.55" y1="222.26" x2="204.80" y2="238.62" stroke="#333" stroke-width="0.70"/>
<rect x="225.55" y="222.26" width="21.75" height="17.36" fill="#ffffff"/>
<line x1="225.55" y1="222.26" x2="246.30" y2="238.62" stroke="#333" stroke-width="0.70"/>
<line x1="246.30" y1="222.26" x2="225.55" y2="238.62" stroke="#333" stroke-width="0.70"/>
<rect x="246.30" y="222.26" width="21.75" height="17.36" fill="#ffffff"/>
<line x1="246.30" y1="222.26" x2="267.05" y2="238.62" stroke="#333" stroke-width="0.70"/>
<line x1="267.05" y1="222.26" x2="246.30" y2="238.62" stroke="#333" stroke-width="0.70"/>
<rect x="267.05" y="222.26" width="21.75" height="17.36" fill="#2e6398"/>
<rect x="287.80" y="222.26" width="21.75" height="17.36" fill="#b15f56"/>
<text x="298.18" y="232.74" font-size="4.90" text-anchor="middle" font-weight="bold" fill="#fff" stroke="#fff" stroke-width="0.15">16.0</text>
<rect x="308.55" y="222.26" width="20.75" height="17.36" fill="#2e6398"/>
<text x="77.00" y="232.54" font-size="5.80" text-anchor="end" font-weight="bold" fill="#000" stroke="#000" stroke-width="0.12"><tspan font-style="italic">K. pneumoniae</tspan> ATCC 13883</text>
<line x1="77.60" y1="230.44" x2="80.30" y2="230.44" stroke="#000" stroke-width="0.70"/>
<rect x="80.30" y="238.62" width="21.75" height="16.36" fill="#a7483e"/>
<text x="90.67" y="249.10" font-size="4.90" text-anchor="middle" font-weight="bold" fill="#fff" stroke="#fff" stroke-width="0.15">8.0</text>
<rect x="101.05" y="238.62" width="21.75" height="16.36" fill="#ffffff"/>
<line x1="101.05" y1="238.62" x2="121.80" y2="254.98" stroke="#333" stroke-width="0.70"/>
<line x1="121.80" y1="238.62" x2="101.05" y2="254.98" stroke="#333" stroke-width="0.70"/>
<rect x="121.80" y="238.62" width="21.75" height="16.36" fill="#ffffff"/>
<line x1="121.80" y1="238.62" x2="142.55" y2="254.98" stroke="#333" stroke-width="0.70"/>
<line x1="142.55" y1="238.62" x2="121.80" y2="254.98" stroke="#333" stroke-width="0.70"/>
<rect x="142.55" y="238.62" width="21.75" height="16.36" fill="#b15f56"/>
<text x="152.93" y="249.10" font-size="4.90" text-anchor="middle" font-weight="bold" fill="#fff" stroke="#fff" stroke-width="0.15">16.0</text>
<rect x="163.30" y="238.62" width="21.75" height="16.36" fill="#c68c86"/>
<text x="173.68" y="249.10" font-size="4.90" text-anchor="middle" font-weight="bold" fill="#111" stroke="#111" stroke-width="0.15">32.0</text>
<rect x="184.05" y="238.62" width="21.75" height="16.36" fill="#2e6398"/>
<rect x="204.80" y="238.62" width="21.75" height="16.36" fill="#ffffff"/>
<line x1="204.80" y1="238.62" x2="225.55" y2="254.98" stroke="#333" stroke-width="0.70"/>
<line x1="225.55" y1="238.62" x2="204.80" y2="254.98" stroke="#333" stroke-width="0.70"/>
<rect x="225.55" y="238.62" width="21.75" height="16.36" fill="#ffffff"/>
<line x1="225.55" y1="238.62" x2="246.30" y2="254.98" stroke="#333" stroke-width="0.70"/>
<line x1="246.30" y1="238.62" x2="225.55" y2="254.98" stroke="#333" stroke-width="0.70"/>
<rect x="246.30" y="238.62" width="21.75" height="16.36" fill="#ffffff"/>
<line x1="246.30" y1="238.62" x2="267.05" y2="254.98" stroke="#333" stroke-width="0.70"/>
<line x1="267.05" y1="238.62" x2="246.30" y2="254.98" stroke="#333" stroke-width="0.70"/>
<rect x="267.05" y="238.62" width="21.75" height="16.36" fill="#c68c86"/>
<text x="277.43" y="249.10" font-size="4.90" text-anchor="middle" font-weight="bold" fill="#111" stroke="#111" stroke-width="0.15">32.0</text>
<rect x="287.80" y="238.62" width="21.75" height="16.36" fill="#b15f56"/>
<text x="298.18" y="249.10" font-size="4.90" text-anchor="middle" font-weight="bold" fill="#fff" stroke="#fff" stroke-width="0.15">16.0</text>
<rect x="308.55" y="238.62" width="20.75" height="16.36" fill="#b15f56"/>
<text x="318.93" y="249.10" font-size="4.90" text-anchor="middle" font-weight="bold" fill="#fff" stroke="#fff" stroke-width="0.15">16.0</text>
<text x="77.00" y="248.90" font-size="5.80" text-anchor="end" font-weight="bold" fill="#000" stroke="#000" stroke-width="0.12"><tspan font-style="italic">A. baumannii</tspan> ATCC 19606</text>
<line x1="77.60" y1="246.80" x2="80.30" y2="246.80" stroke="#000" stroke-width="0.70"/>
<rect x="80.80" y="120.60" width="248.50" height="3.50" fill="#ffffff"/>
<rect x="80.30" y="6.00" width="249.00" height="249.00" fill="none" stroke="#222" stroke-width="0.8"/>
<line x1="90.67" y1="255.00" x2="90.67" y2="257.50" stroke="#000" stroke-width="0.70"/>
<text transform="translate(91.27,261.00) rotate(-45)" font-size="6.00" text-anchor="end" font-weight="bold" fill="#000" stroke="#000" stroke-width="0.12">VmCT1</text>
<line x1="111.42" y1="255.00" x2="111.42" y2="257.50" stroke="#000" stroke-width="0.70"/>
<text transform="translate(112.02,261.00) rotate(-45)" font-size="6.00" text-anchor="end" font-weight="bold" fill="#000" stroke="#000" stroke-width="0.12">Anoplin</text>
<line x1="132.18" y1="255.00" x2="132.18" y2="257.50" stroke="#000" stroke-width="0.70"/>
<text transform="translate(132.78,261.00) rotate(-45)" font-size="6.00" text-anchor="end" font-weight="bold" fill="#000" stroke="#000" stroke-width="0.12">AV</text>
<line x1="152.93" y1="255.00" x2="152.93" y2="257.50" stroke="#000" stroke-width="0.70"/>
<text transform="translate(153.53,261.00) rotate(-45)" font-size="6.00" text-anchor="end" font-weight="bold" fill="#000" stroke="#000" stroke-width="0.12">Protonectin</text>
<line x1="173.68" y1="255.00" x2="173.68" y2="257.50" stroke="#000" stroke-width="0.70"/>
<text transform="translate(174.28,261.00) rotate(-45)" font-size="6.00" text-anchor="end" font-weight="bold" fill="#000" stroke="#000" stroke-width="0.12">PV</text>
<line x1="194.43" y1="255.00" x2="194.43" y2="257.50" stroke="#000" stroke-width="0.70"/>
<text transform="translate(195.03,261.00) rotate(-45)" font-size="6.00" text-anchor="end" font-weight="bold" fill="#000" stroke="#000" stroke-width="0.12">VP</text>
<line x1="215.18" y1="255.00" x2="215.18" y2="257.50" stroke="#000" stroke-width="0.70"/>
<text transform="translate(215.78,261.00) rotate(-45)" font-size="6.00" text-anchor="end" font-weight="bold" fill="#000" stroke="#000" stroke-width="0.12">Decoralin</text>
<line x1="235.93" y1="255.00" x2="235.93" y2="257.50" stroke="#000" stroke-width="0.70"/>
<text transform="translate(236.53,261.00) rotate(-45)" font-size="6.00" text-anchor="end" font-weight="bold" fill="#000" stroke="#000" stroke-width="0.12">DV</text>
<line x1="256.68" y1="255.00" x2="256.68" y2="257.50" stroke="#000" stroke-width="0.70"/>
<text transform="translate(257.28,261.00) rotate(-45)" font-size="6.00" text-anchor="end" font-weight="bold" fill="#000" stroke="#000" stroke-width="0.12">VD</text>
<line x1="277.43" y1="255.00" x2="277.43" y2="257.50" stroke="#000" stroke-width="0.70"/>
<text transform="translate(278.03,261.00) rotate(-45)" font-size="6.00" text-anchor="end" font-weight="bold" fill="#000" stroke="#000" stroke-width="0.12">Temporin</text>
<line x1="298.18" y1="255.00" x2="298.18" y2="257.50" stroke="#000" stroke-width="0.70"/>
<text transform="translate(298.78,261.00) rotate(-45)" font-size="6.00" text-anchor="end" font-weight="bold" fill="#000" stroke="#000" stroke-width="0.12">TV</text>
<line x1="318.93" y1="255.00" x2="318.93" y2="257.50" stroke="#000" stroke-width="0.70"/>
<text transform="translate(319.53,261.00) rotate(-45)" font-size="6.00" text-anchor="end" font-weight="bold" fill="#000" stroke="#000" stroke-width="0.12">VT</text>
<defs><linearGradient id="ga" x1="0" y1="1" x2="0" y2="0"><stop offset="0" stop-color="#9c3226"/><stop offset="0.5" stop-color="#f1e5e6"/><stop offset="1" stop-color="#2e6398"/></linearGradient></defs>
<rect x="335.90" y="6.30" width="6.90" height="248.70" fill="url(#ga)" stroke="#555" stroke-width="0.5"/>
<line x1="335.90" y1="255.00" x2="337.10" y2="255.00" stroke="#222" stroke-width="0.60"/>
<line x1="341.60" y1="255.00" x2="342.80" y2="255.00" stroke="#222" stroke-width="0.60"/>
<text x="344.70" y="256.70" font-size="4.80" text-anchor="start" font-weight="bold" fill="#000" stroke="#000" stroke-width="0.12">0</text>
<line x1="335.90" y1="192.82" x2="337.10" y2="192.82" stroke="#222" stroke-width="0.60"/>
<line x1="341.60" y1="192.82" x2="342.80" y2="192.82" stroke="#222" stroke-width="0.60"/>
<text x="344.70" y="194.52" font-size="4.80" text-anchor="start" font-weight="bold" fill="#000" stroke="#000" stroke-width="0.12">32</text>
<line x1="335.90" y1="130.65" x2="337.10" y2="130.65" stroke="#222" stroke-width="0.60"/>
<line x1="341.60" y1="130.65" x2="342.80" y2="130.65" stroke="#222" stroke-width="0.60"/>
<text x="344.70" y="132.35" font-size="4.80" text-anchor="start" font-weight="bold" fill="#000" stroke="#000" stroke-width="0.12">64</text>
<line x1="335.90" y1="68.48" x2="337.10" y2="68.48" stroke="#222" stroke-width="0.60"/>
<line x1="341.60" y1="68.48" x2="342.80" y2="68.48" stroke="#222" stroke-width="0.60"/>
<text x="344.70" y="70.18" font-size="4.80" text-anchor="start" font-weight="bold" fill="#000" stroke="#000" stroke-width="0.12">96</text>
<line x1="335.90" y1="6.30" x2="337.10" y2="6.30" stroke="#222" stroke-width="0.60"/>
<line x1="341.60" y1="6.30" x2="342.80" y2="6.30" stroke="#222" stroke-width="0.60"/>
<text x="344.70" y="8.00" font-size="4.80" text-anchor="start" font-weight="bold" fill="#000" stroke="#000" stroke-width="0.12">&gt;128</text>
<text transform="translate(358.20,134.50) rotate(90)" font-size="5.90" text-anchor="middle" font-weight="bold" fill="#000" stroke="#000" stroke-width="0.12">Minimal Inhibitory Concentration (&#956;mol L<tspan dy="-2.4" font-size="75%">-1</tspan><tspan dy="2.4">)</tspan></text>
<text x="5.70" y="11.60" font-size="14.00" text-anchor="start" font-weight="bold" fill="#000" stroke="#000" stroke-width="0.12">a</text>
<rect x="445.20" y="17.60" width="18.05" height="22.33" fill="#f9fbfc"/>
<rect x="462.25" y="17.60" width="18.05" height="22.33" fill="#c26a6a"/>
<rect x="479.30" y="17.60" width="18.05" height="22.33" fill="#8aabcc"/>
<rect x="496.35" y="17.60" width="18.05" height="22.33" fill="#dce6f0"/>
<rect x="513.40" y="17.60" width="18.05" height="22.33" fill="#fbfcfd"/>
<rect x="530.45" y="17.60" width="18.05" height="22.33" fill="#b3c8de"/>
<rect x="547.50" y="17.60" width="18.05" height="22.33" fill="#cbd9e8"/>
<rect x="564.55" y="17.60" width="18.05" height="22.33" fill="#e7c4c4"/>
<rect x="581.60" y="17.60" width="18.05" height="22.33" fill="#c9d7e7"/>
<rect x="598.65" y="17.60" width="17.05" height="22.33" fill="#d7e2ee"/>
<rect x="445.20" y="38.93" width="18.05" height="22.33" fill="#e7eef5"/>
<rect x="462.25" y="38.93" width="18.05" height="22.33" fill="#c36d6d"/>
<rect x="479.30" y="38.93" width="18.05" height="22.33" fill="#8aabcc"/>
<rect x="496.35" y="38.93" width="18.05" height="22.33" fill="#ccdae9"/>
<rect x="513.40" y="38.93" width="18.05" height="22.33" fill="#f7f9fc"/>
<rect x="530.45" y="38.93" width="18.05" height="22.33" fill="#ebf0f6"/>
<rect x="547.50" y="38.93" width="18.05" height="22.33" fill="#e3ebf3"/>
<rect x="564.55" y="38.93" width="18.05" height="22.33" fill="#d9e3ee"/>
<rect x="581.60" y="38.93" width="18.05" height="22.33" fill="#dee7f1"/>
<rect x="598.65" y="38.93" width="17.05" height="22.33" fill="#c8d7e7"/>
<rect x="445.20" y="60.26" width="18.05" height="22.33" fill="#e5ecf4"/>
<rect x="462.25" y="60.26" width="18.05" height="22.33" fill="#f5f8fb"/>
<rect x="479.30" y="60.26" width="18.05" height="22.33" fill="#a2bbd6"/>
<rect x="496.35" y="60.26" width="18.05" height="22.33" fill="#dee7f1"/>
<rect x="513.40" y="60.26" width="18.05" height="22.33" fill="#eef2f7"/>
<rect x="530.45" y="60.26" width="18.05" height="22.33" fill="#d5e0ed"/>
<rect x="547.50" y="60.26" width="18.05" height="22.33" fill="#e1e9f2"/>
<rect x="564.55" y="60.26" width="18.05" height="22.33" fill="#dfe8f1"/>
<rect x="581.60" y="60.26" width="18.05" height="22.33" fill="#dde6f0"/>
<rect x="598.65" y="60.26" width="17.05" height="22.33" fill="#c1d2e4"/>
<rect x="445.20" y="81.59" width="18.05" height="22.33" fill="#d4dfec"/>
<rect x="462.25" y="81.59" width="18.05" height="22.33" fill="#bccee2"/>
<rect x="479.30" y="81.59" width="18.05" height="22.33" fill="#24629e"/>
<rect x="496.35" y="81.59" width="18.05" height="22.33" fill="#d2deeb"/>
<rect x="513.40" y="81.59" width="18.05" height="22.33" fill="#dae4ef"/>
<rect x="530.45" y="81.59" width="18.05" height="22.33" fill="#e4ecf3"/>
<rect x="547.50" y="81.59" width="18.05" height="22.33" fill="#d3dfec"/>
<rect x="564.55" y="81.59" width="18.05" height="22.33" fill="#dae4ef"/>
<rect x="581.60" y="81.59" width="18.05" height="22.33" fill="#d3dfec"/>
<rect x="598.65" y="81.59" width="17.05" height="22.33" fill="#c8d7e7"/>
<rect x="445.20" y="102.92" width="18.05" height="22.33" fill="#aec4dc"/>
<rect x="462.25" y="102.92" width="18.05" height="22.33" fill="#d4dfec"/>
<rect x="479.30" y="102.92" width="18.05" height="22.33" fill="#a2bbd6"/>
<rect x="496.35" y="102.92" width="18.05" height="22.33" fill="#d8e2ee"/>
<rect x="513.40" y="102.92" width="18.05" height="22.33" fill="#d0ddeb"/>
<rect x="530.45" y="102.92" width="18.05" height="22.33" fill="#d6e1ed"/>
<rect x="547.50" y="102.92" width="18.05" height="22.33" fill="#d0ddeb"/>
<rect x="564.55" y="102.92" width="18.05" height="22.33" fill="#e7edf5"/>
<rect x="581.60" y="102.92" width="18.05" height="22.33" fill="#edf2f7"/>
<rect x="598.65" y="102.92" width="17.05" height="22.33" fill="#e0e8f1"/>
<rect x="445.20" y="124.25" width="18.05" height="22.33" fill="#b2c7dd"/>
<rect x="462.25" y="124.25" width="18.05" height="22.33" fill="#cedbea"/>
<rect x="479.30" y="124.25" width="18.05" height="22.33" fill="#c1d2e4"/>
<rect x="496.35" y="124.25" width="18.05" height="22.33" fill="#cedbea"/>
<rect x="513.40" y="124.25" width="18.05" height="22.33" fill="#d1deeb"/>
<rect x="530.45" y="124.25" width="18.05" height="22.33" fill="#bacde1"/>
<rect x="547.50" y="124.25" width="18.05" height="22.33" fill="#dae4ef"/>
<rect x="564.55" y="124.25" width="18.05" height="22.33" fill="#c4d4e5"/>
<rect x="581.60" y="124.25" width="18.05" height="22.33" fill="#dbe5f0"/>
<rect x="598.65" y="124.25" width="17.05" height="22.33" fill="#e1e9f2"/>
<rect x="445.20" y="145.58" width="18.05" height="22.33" fill="#9eb9d5"/>
<rect x="462.25" y="145.58" width="18.05" height="22.33" fill="#bbcee2"/>
<rect x="479.30" y="145.58" width="18.05" height="22.33" fill="#92b0cf"/>
<rect x="496.35" y="145.58" width="18.05" height="22.33" fill="#c1d2e4"/>
<rect x="513.40" y="145.58" width="18.05" height="22.33" fill="#c3d4e5"/>
<rect x="530.45" y="145.58" width="18.05" height="22.33" fill="#cad8e8"/>
<rect x="547.50" y="145.58" width="18.05" height="22.33" fill="#ccdae9"/>
<rect x="564.55" y="145.58" width="18.05" height="22.33" fill="#d6e1ed"/>
<rect x="581.60" y="145.58" width="18.05" height="22.33" fill="#bacde1"/>
<rect x="598.65" y="145.58" width="17.05" height="22.33" fill="#dbe5ef"/>
<rect x="445.20" y="166.91" width="18.05" height="21.33" fill="#aac1da"/>
<rect x="462.25" y="166.91" width="18.05" height="21.33" fill="#aac1da"/>
<rect x="479.30" y="166.91" width="18.05" height="21.33" fill="#aac1da"/>
<rect x="496.35" y="166.91" width="18.05" height="21.33" fill="#aac1da"/>
<rect x="513.40" y="166.91" width="18.05" height="21.33" fill="#aac1da"/>
<rect x="530.45" y="166.91" width="18.05" height="21.33" fill="#aac1da"/>
<rect x="547.50" y="166.91" width="18.05" height="21.33" fill="#aac1da"/>
<rect x="564.55" y="166.91" width="18.05" height="21.33" fill="#aac1da"/>
<rect x="581.60" y="166.91" width="18.05" height="21.33" fill="#aac1da"/>
<rect x="598.65" y="166.91" width="17.05" height="21.33" fill="#aac1da"/>
<text transform="translate(453.72,30.07) scale(1,1.180)" font-size="5.75" text-anchor="middle" font-weight="bold" fill="#111" stroke="#111" stroke-width="0.16">53.58</text>
<text transform="translate(470.77,30.07) scale(1,1.180)" font-size="5.75" text-anchor="middle" font-weight="bold" fill="#111" stroke="#111" stroke-width="0.16">18.06</text>
<text transform="translate(504.88,30.07) scale(1,1.180)" font-size="5.75" text-anchor="middle" font-weight="bold" fill="#111" stroke="#111" stroke-width="0.16">70.53</text>
<text transform="translate(521.92,30.07) scale(1,1.180)" font-size="5.75" text-anchor="middle" font-weight="bold" fill="#111" stroke="#111" stroke-width="0.16">52.06</text>
<text transform="translate(538.98,30.07) scale(1,1.180)" font-size="5.75" text-anchor="middle" font-weight="bold" fill="#111" stroke="#111" stroke-width="0.16">94.46</text>
<text transform="translate(556.02,30.07) scale(1,1.180)" font-size="5.75" text-anchor="middle" font-weight="bold" fill="#111" stroke="#111" stroke-width="0.16">80.56</text>
<text transform="translate(573.07,30.07) scale(1,1.180)" font-size="5.75" text-anchor="middle" font-weight="bold" fill="#111" stroke="#111" stroke-width="0.16">37.40</text>
<text transform="translate(590.12,30.07) scale(1,1.180)" font-size="5.75" text-anchor="middle" font-weight="bold" fill="#111" stroke="#111" stroke-width="0.16">81.97</text>
<text transform="translate(607.17,30.07) scale(1,1.180)" font-size="5.75" text-anchor="middle" font-weight="bold" fill="#111" stroke="#111" stroke-width="0.16">73.58</text>
<text transform="translate(453.72,51.39) scale(1,1.180)" font-size="5.75" text-anchor="middle" font-weight="bold" fill="#111" stroke="#111" stroke-width="0.16">63.88</text>
<text transform="translate(470.77,51.39) scale(1,1.180)" font-size="5.75" text-anchor="middle" font-weight="bold" fill="#111" stroke="#111" stroke-width="0.16">18.68</text>
<text transform="translate(504.88,51.39) scale(1,1.180)" font-size="5.75" text-anchor="middle" font-weight="bold" fill="#111" stroke="#111" stroke-width="0.16">79.78</text>
<text transform="translate(521.92,51.39) scale(1,1.180)" font-size="5.75" text-anchor="middle" font-weight="bold" fill="#111" stroke="#111" stroke-width="0.16">54.71</text>
<text transform="translate(538.98,51.39) scale(1,1.180)" font-size="5.75" text-anchor="middle" font-weight="bold" fill="#111" stroke="#111" stroke-width="0.16">61.75</text>
<text transform="translate(556.02,51.39) scale(1,1.180)" font-size="5.75" text-anchor="middle" font-weight="bold" fill="#111" stroke="#111" stroke-width="0.16">66.36</text>
<text transform="translate(573.07,51.39) scale(1,1.180)" font-size="5.75" text-anchor="middle" font-weight="bold" fill="#111" stroke="#111" stroke-width="0.16">72.45</text>
<text transform="translate(590.12,51.39) scale(1,1.180)" font-size="5.75" text-anchor="middle" font-weight="bold" fill="#111" stroke="#111" stroke-width="0.16">69.17</text>
<text transform="translate(607.17,51.39) scale(1,1.180)" font-size="5.75" text-anchor="middle" font-weight="bold" fill="#111" stroke="#111" stroke-width="0.16">82.57</text>
<text transform="translate(453.72,72.72) scale(1,1.180)" font-size="5.75" text-anchor="middle" font-weight="bold" fill="#111" stroke="#111" stroke-width="0.16">65.28</text>
<text transform="translate(470.77,72.72) scale(1,1.180)" font-size="5.75" text-anchor="middle" font-weight="bold" fill="#111" stroke="#111" stroke-width="0.16">55.88</text>
<text transform="translate(504.88,72.72) scale(1,1.180)" font-size="5.75" text-anchor="middle" font-weight="bold" fill="#111" stroke="#111" stroke-width="0.16">69.18</text>
<text transform="translate(521.92,72.72) scale(1,1.180)" font-size="5.75" text-anchor="middle" font-weight="bold" fill="#111" stroke="#111" stroke-width="0.16">60.15</text>
<text transform="translate(538.98,72.72) scale(1,1.180)" font-size="5.75" text-anchor="middle" font-weight="bold" fill="#111" stroke="#111" stroke-width="0.16">74.86</text>
<text transform="translate(556.02,72.72) scale(1,1.180)" font-size="5.75" text-anchor="middle" font-weight="bold" fill="#111" stroke="#111" stroke-width="0.16">67.69</text>
<text transform="translate(573.07,72.72) scale(1,1.180)" font-size="5.75" text-anchor="middle" font-weight="bold" fill="#111" stroke="#111" stroke-width="0.16">68.75</text>
<text transform="translate(590.12,72.72) scale(1,1.180)" font-size="5.75" text-anchor="middle" font-weight="bold" fill="#111" stroke="#111" stroke-width="0.16">69.96</text>
<text transform="translate(607.17,72.72) scale(1,1.180)" font-size="5.75" text-anchor="middle" font-weight="bold" fill="#111" stroke="#111" stroke-width="0.16">86.38</text>
<text transform="translate(453.72,94.05) scale(1,1.180)" font-size="5.75" text-anchor="middle" font-weight="bold" fill="#111" stroke="#111" stroke-width="0.16">75.54</text>
<text transform="translate(470.77,94.05) scale(1,1.180)" font-size="5.75" text-anchor="middle" font-weight="bold" fill="#111" stroke="#111" stroke-width="0.16">89.16</text>
<text transform="translate(504.88,94.05) scale(1,1.180)" font-size="5.75" text-anchor="middle" font-weight="bold" fill="#111" stroke="#111" stroke-width="0.16">76.51</text>
<text transform="translate(521.92,94.05) scale(1,1.180)" font-size="5.75" text-anchor="middle" font-weight="bold" fill="#111" stroke="#111" stroke-width="0.16">71.50</text>
<text transform="translate(538.98,94.05) scale(1,1.180)" font-size="5.75" text-anchor="middle" font-weight="bold" fill="#111" stroke="#111" stroke-width="0.16">65.62</text>
<text transform="translate(556.02,94.05) scale(1,1.180)" font-size="5.75" text-anchor="middle" font-weight="bold" fill="#111" stroke="#111" stroke-width="0.16">75.64</text>
<text transform="translate(573.07,94.05) scale(1,1.180)" font-size="5.75" text-anchor="middle" font-weight="bold" fill="#111" stroke="#111" stroke-width="0.16">71.96</text>
<text transform="translate(590.12,94.05) scale(1,1.180)" font-size="5.75" text-anchor="middle" font-weight="bold" fill="#111" stroke="#111" stroke-width="0.16">76.00</text>
<text transform="translate(607.17,94.05) scale(1,1.180)" font-size="5.75" text-anchor="middle" font-weight="bold" fill="#111" stroke="#111" stroke-width="0.16">82.36</text>
<text transform="translate(453.72,115.38) scale(1,1.180)" font-size="5.75" text-anchor="middle" font-weight="bold" fill="#111" stroke="#111" stroke-width="0.16">97.66</text>
<text transform="translate(470.77,115.38) scale(1,1.180)" font-size="5.75" text-anchor="middle" font-weight="bold" fill="#111" stroke="#111" stroke-width="0.16">75.51</text>
<text transform="translate(504.88,115.38) scale(1,1.180)" font-size="5.75" text-anchor="middle" font-weight="bold" fill="#111" stroke="#111" stroke-width="0.16">73.19</text>
<text transform="translate(521.92,115.38) scale(1,1.180)" font-size="5.75" text-anchor="middle" font-weight="bold" fill="#111" stroke="#111" stroke-width="0.16">77.61</text>
<text transform="translate(538.98,115.38) scale(1,1.180)" font-size="5.75" text-anchor="middle" font-weight="bold" fill="#111" stroke="#111" stroke-width="0.16">74.19</text>
<text transform="translate(556.02,115.38) scale(1,1.180)" font-size="5.75" text-anchor="middle" font-weight="bold" fill="#111" stroke="#111" stroke-width="0.16">77.69</text>
<text transform="translate(573.07,115.38) scale(1,1.180)" font-size="5.75" text-anchor="middle" font-weight="bold" fill="#111" stroke="#111" stroke-width="0.16">64.16</text>
<text transform="translate(590.12,115.38) scale(1,1.180)" font-size="5.75" text-anchor="middle" font-weight="bold" fill="#111" stroke="#111" stroke-width="0.16">60.78</text>
<text transform="translate(607.17,115.38) scale(1,1.180)" font-size="5.75" text-anchor="middle" font-weight="bold" fill="#111" stroke="#111" stroke-width="0.16">68.48</text>
<text transform="translate(453.72,136.72) scale(1,1.180)" font-size="5.75" text-anchor="middle" font-weight="bold" fill="#111" stroke="#111" stroke-width="0.16">95.44</text>
<text transform="translate(470.77,136.72) scale(1,1.180)" font-size="5.75" text-anchor="middle" font-weight="bold" fill="#111" stroke="#111" stroke-width="0.16">78.97</text>
<text transform="translate(487.82,136.72) scale(1,1.180)" font-size="5.75" text-anchor="middle" font-weight="bold" fill="#111" stroke="#111" stroke-width="0.16">86.34</text>
<text transform="translate(504.88,136.72) scale(1,1.180)" font-size="5.75" text-anchor="middle" font-weight="bold" fill="#111" stroke="#111" stroke-width="0.16">78.65</text>
<text transform="translate(521.92,136.72) scale(1,1.180)" font-size="5.75" text-anchor="middle" font-weight="bold" fill="#111" stroke="#111" stroke-width="0.16">76.79</text>
<text transform="translate(538.98,136.72) scale(1,1.180)" font-size="5.75" text-anchor="middle" font-weight="bold" fill="#111" stroke="#111" stroke-width="0.16">90.56</text>
<text transform="translate(556.02,136.72) scale(1,1.180)" font-size="5.75" text-anchor="middle" font-weight="bold" fill="#111" stroke="#111" stroke-width="0.16">71.97</text>
<text transform="translate(573.07,136.72) scale(1,1.180)" font-size="5.75" text-anchor="middle" font-weight="bold" fill="#111" stroke="#111" stroke-width="0.16">84.84</text>
<text transform="translate(590.12,136.72) scale(1,1.180)" font-size="5.75" text-anchor="middle" font-weight="bold" fill="#111" stroke="#111" stroke-width="0.16">70.89</text>
<text transform="translate(607.17,136.72) scale(1,1.180)" font-size="5.75" text-anchor="middle" font-weight="bold" fill="#111" stroke="#111" stroke-width="0.16">67.57</text>
<text transform="translate(470.77,158.04) scale(1,1.180)" font-size="5.75" text-anchor="middle" font-weight="bold" fill="#111" stroke="#111" stroke-width="0.16">89.75</text>
<text transform="translate(504.88,158.04) scale(1,1.180)" font-size="5.75" text-anchor="middle" font-weight="bold" fill="#111" stroke="#111" stroke-width="0.16">86.55</text>
<text transform="translate(521.92,158.04) scale(1,1.180)" font-size="5.75" text-anchor="middle" font-weight="bold" fill="#111" stroke="#111" stroke-width="0.16">85.03</text>
<text transform="translate(538.98,158.04) scale(1,1.180)" font-size="5.75" text-anchor="middle" font-weight="bold" fill="#111" stroke="#111" stroke-width="0.16">81.05</text>
<text transform="translate(556.02,158.04) scale(1,1.180)" font-size="5.75" text-anchor="middle" font-weight="bold" fill="#111" stroke="#111" stroke-width="0.16">80.16</text>
<text transform="translate(573.07,158.04) scale(1,1.180)" font-size="5.75" text-anchor="middle" font-weight="bold" fill="#111" stroke="#111" stroke-width="0.16">74.12</text>
<text transform="translate(590.12,158.04) scale(1,1.180)" font-size="5.75" text-anchor="middle" font-weight="bold" fill="#111" stroke="#111" stroke-width="0.16">90.51</text>
<text transform="translate(607.17,158.04) scale(1,1.180)" font-size="5.75" text-anchor="middle" font-weight="bold" fill="#111" stroke="#111" stroke-width="0.16">71.34</text>
<rect x="445.20" y="17.60" width="170.50" height="170.64" fill="none" stroke="#333" stroke-width="0.9"/>
<line x1="443.00" y1="28.27" x2="445.20" y2="28.27" stroke="#222" stroke-width="0.70"/>
<text x="440.50" y="30.66" font-size="6.90" text-anchor="end" font-weight="bold" fill="#000" stroke="#000" stroke-width="0.12">50</text>
<line x1="443.00" y1="49.59" x2="445.20" y2="49.59" stroke="#222" stroke-width="0.70"/>
<text x="440.50" y="51.99" font-size="6.90" text-anchor="end" font-weight="bold" fill="#000" stroke="#000" stroke-width="0.12">25</text>
<line x1="443.00" y1="70.92" x2="445.20" y2="70.92" stroke="#222" stroke-width="0.70"/>
<text x="440.50" y="73.33" font-size="6.90" text-anchor="end" font-weight="bold" fill="#000" stroke="#000" stroke-width="0.12">12.5</text>
<line x1="443.00" y1="92.25" x2="445.20" y2="92.25" stroke="#222" stroke-width="0.70"/>
<text x="440.50" y="94.66" font-size="6.90" text-anchor="end" font-weight="bold" fill="#000" stroke="#000" stroke-width="0.12">6.3</text>
<line x1="443.00" y1="113.58" x2="445.20" y2="113.58" stroke="#222" stroke-width="0.70"/>
<text x="440.50" y="115.98" font-size="6.90" text-anchor="end" font-weight="bold" fill="#000" stroke="#000" stroke-width="0.12">3.1</text>
<line x1="443.00" y1="134.91" x2="445.20" y2="134.91" stroke="#222" stroke-width="0.70"/>
<text x="440.50" y="137.31" font-size="6.90" text-anchor="end" font-weight="bold" fill="#000" stroke="#000" stroke-width="0.12">1.6</text>
<line x1="443.00" y1="156.24" x2="445.20" y2="156.24" stroke="#222" stroke-width="0.70"/>
<text x="440.50" y="158.64" font-size="6.90" text-anchor="end" font-weight="bold" fill="#000" stroke="#000" stroke-width="0.12">0.8</text>
<line x1="443.00" y1="177.57" x2="445.20" y2="177.57" stroke="#222" stroke-width="0.70"/>
<text x="440.50" y="179.97" font-size="6.90" text-anchor="end" font-weight="bold" fill="#000" stroke="#000" stroke-width="0.12">Control</text>
<line x1="453.72" y1="188.24" x2="453.72" y2="190.74" stroke="#222" stroke-width="0.70"/>
<text transform="translate(455.22,196.74) rotate(-45)" font-size="7.90" text-anchor="end" font-weight="bold" fill="#000" stroke="#000" stroke-width="0.12">VmCT1</text>
<line x1="470.77" y1="188.24" x2="470.77" y2="190.74" stroke="#222" stroke-width="0.70"/>
<text transform="translate(472.27,196.74) rotate(-45)" font-size="7.90" text-anchor="end" font-weight="bold" fill="#000" stroke="#000" stroke-width="0.12">Protonectin</text>
<line x1="487.82" y1="188.24" x2="487.82" y2="190.74" stroke="#222" stroke-width="0.70"/>
<text transform="translate(489.32,196.74) rotate(-45)" font-size="7.90" text-anchor="end" font-weight="bold" fill="#000" stroke="#000" stroke-width="0.12">PV</text>
<line x1="504.88" y1="188.24" x2="504.88" y2="190.74" stroke="#222" stroke-width="0.70"/>
<text transform="translate(506.38,196.74) rotate(-45)" font-size="7.90" text-anchor="end" font-weight="bold" fill="#000" stroke="#000" stroke-width="0.12">VP</text>
<line x1="521.92" y1="188.24" x2="521.92" y2="190.74" stroke="#222" stroke-width="0.70"/>
<text transform="translate(523.42,196.74) rotate(-45)" font-size="7.90" text-anchor="end" font-weight="bold" fill="#000" stroke="#000" stroke-width="0.12">Decoralin</text>
<line x1="538.98" y1="188.24" x2="538.98" y2="190.74" stroke="#222" stroke-width="0.70"/>
<text transform="translate(540.48,196.74) rotate(-45)" font-size="7.90" text-anchor="end" font-weight="bold" fill="#000" stroke="#000" stroke-width="0.12">DV</text>
<line x1="556.02" y1="188.24" x2="556.02" y2="190.74" stroke="#222" stroke-width="0.70"/>
<text transform="translate(557.52,196.74) rotate(-45)" font-size="7.90" text-anchor="end" font-weight="bold" fill="#000" stroke="#000" stroke-width="0.12">VD</text>
<line x1="573.07" y1="188.24" x2="573.07" y2="190.74" stroke="#222" stroke-width="0.70"/>
<text transform="translate(574.57,196.74) rotate(-45)" font-size="7.90" text-anchor="end" font-weight="bold" fill="#000" stroke="#000" stroke-width="0.12">Temporin A</text>
<line x1="590.12" y1="188.24" x2="590.12" y2="190.74" stroke="#222" stroke-width="0.70"/>
<text transform="translate(591.62,196.74) rotate(-45)" font-size="7.90" text-anchor="end" font-weight="bold" fill="#000" stroke="#000" stroke-width="0.12">TV</text>
<line x1="607.17" y1="188.24" x2="607.17" y2="190.74" stroke="#222" stroke-width="0.70"/>
<text transform="translate(608.67,196.74) rotate(-45)" font-size="7.90" text-anchor="end" font-weight="bold" fill="#000" stroke="#000" stroke-width="0.12">VT</text>
<defs><linearGradient id="gb" x1="0" y1="1" x2="0" y2="0"><stop offset="0" stop-color="#a01616"/><stop offset="0.2857" stop-color="#ffffff"/><stop offset="0.5714" stop-color="#aac1da"/><stop offset="1" stop-color="#165898"/></linearGradient></defs>
<rect x="624.80" y="17.40" width="9.50" height="170.80" fill="url(#gb)" stroke="#444" stroke-width="0.6"/>
<line x1="632.70" y1="188.20" x2="634.50" y2="188.20" stroke="#222" stroke-width="0.70"/>
<text x="640.50" y="190.50" font-size="6.40" text-anchor="start" font-weight="bold" fill="#000" stroke="#000" stroke-width="0.12">0</text>
<line x1="632.70" y1="163.80" x2="634.50" y2="163.80" stroke="#222" stroke-width="0.70"/>
<text x="640.50" y="166.10" font-size="6.40" text-anchor="start" font-weight="bold" fill="#000" stroke="#000" stroke-width="0.12">25</text>
<line x1="632.70" y1="139.40" x2="634.50" y2="139.40" stroke="#222" stroke-width="0.70"/>
<text x="640.50" y="141.70" font-size="6.40" text-anchor="start" font-weight="bold" fill="#000" stroke="#000" stroke-width="0.12">50</text>
<line x1="632.70" y1="115.00" x2="634.50" y2="115.00" stroke="#222" stroke-width="0.70"/>
<text x="640.50" y="117.30" font-size="6.40" text-anchor="start" font-weight="bold" fill="#000" stroke="#000" stroke-width="0.12">75</text>
<line x1="632.70" y1="90.60" x2="634.50" y2="90.60" stroke="#222" stroke-width="0.70"/>
<text x="640.50" y="92.90" font-size="6.40" text-anchor="start" font-weight="bold" fill="#000" stroke="#000" stroke-width="0.12">100</text>
<line x1="632.70" y1="66.20" x2="634.50" y2="66.20" stroke="#222" stroke-width="0.70"/>
<text x="640.50" y="68.50" font-size="6.40" text-anchor="start" font-weight="bold" fill="#000" stroke="#000" stroke-width="0.12">125</text>
<line x1="632.70" y1="41.80" x2="634.50" y2="41.80" stroke="#222" stroke-width="0.70"/>
<text x="640.50" y="44.10" font-size="6.40" text-anchor="start" font-weight="bold" fill="#000" stroke="#000" stroke-width="0.12">150</text>
<line x1="632.70" y1="17.40" x2="634.50" y2="17.40" stroke="#222" stroke-width="0.70"/>
<text x="640.50" y="19.70" font-size="6.40" text-anchor="start" font-weight="bold" fill="#000" stroke="#000" stroke-width="0.12">175</text>
<text transform="translate(652.00,102.75) rotate(90)" font-size="6.80" text-anchor="middle" font-weight="bold" fill="#000" stroke="#000" stroke-width="0.12">Viable cells (%)</text>
<text transform="translate(421.00,102.15) rotate(-90)" font-size="7.80" text-anchor="middle" font-weight="bold" fill="#000" stroke="#000" stroke-width="0.12">Peptide Concentration (&#956;mol L<tspan dy="-2.4" font-size="75%">-1</tspan><tspan dy="2.4">)</tspan></text>
<text x="395.40" y="15.60" font-size="14.00" text-anchor="start" font-weight="bold" fill="#000" stroke="#000" stroke-width="0.12">b</text>
<rect x="82.10" y="289.90" width="17.95" height="22.30" fill="#d89f9f"/>
<rect x="99.05" y="289.90" width="17.95" height="22.30" fill="#cb7e7e"/>
<rect x="116.00" y="289.90" width="17.95" height="22.30" fill="#9eb9d5"/>
<rect x="132.95" y="289.90" width="17.95" height="22.30" fill="#638fba"/>
<rect x="149.90" y="289.90" width="17.95" height="22.30" fill="#f7ebeb"/>
<rect x="166.85" y="289.90" width="17.95" height="22.30" fill="#4177ab"/>
<rect x="183.80" y="289.90" width="17.95" height="22.30" fill="#adc4dc"/>
<rect x="200.75" y="289.90" width="17.95" height="22.30" fill="#e9caca"/>
<rect x="217.70" y="289.90" width="17.95" height="22.30" fill="#d1ddeb"/>
<rect x="234.65" y="289.90" width="16.95" height="22.30" fill="#f3f7fa"/>
<rect x="82.10" y="311.20" width="17.95" height="22.30" fill="#dfb2b2"/>
<rect x="99.05" y="311.20" width="17.95" height="22.30" fill="#ddacac"/>
<rect x="116.00" y="311.20" width="17.95" height="22.30" fill="#b6cadf"/>
<rect x="132.95" y="311.20" width="17.95" height="22.30" fill="#638fba"/>
<rect x="149.90" y="311.20" width="17.95" height="22.30" fill="#f5e7e7"/>
<rect x="166.85" y="311.20" width="17.95" height="22.30" fill="#86a8ca"/>
<rect x="183.80" y="311.20" width="17.95" height="22.30" fill="#779dc3"/>
<rect x="200.75" y="311.20" width="17.95" height="22.30" fill="#eff4f8"/>
<rect x="217.70" y="311.20" width="17.95" height="22.30" fill="#c4d4e5"/>
<rect x="234.65" y="311.20" width="16.95" height="22.30" fill="#c4d4e5"/>
<rect x="82.10" y="332.50" width="17.95" height="22.30" fill="#eacbcb"/>
<rect x="99.05" y="332.50" width="17.95" height="22.30" fill="#fafcfd"/>
<rect x="116.00" y="332.50" width="17.95" height="22.30" fill="#9eb9d5"/>
<rect x="132.95" y="332.50" width="17.95" height="22.30" fill="#638fba"/>
<rect x="149.90" y="332.50" width="17.95" height="22.30" fill="#fefcfc"/>
<rect x="166.85" y="332.50" width="17.95" height="22.30" fill="#86a8ca"/>
<rect x="183.80" y="332.50" width="17.95" height="22.30" fill="#83a5c8"/>
<rect x="200.75" y="332.50" width="17.95" height="22.30" fill="#c3d3e5"/>
<rect x="217.70" y="332.50" width="17.95" height="22.30" fill="#bccee2"/>
<rect x="234.65" y="332.50" width="16.95" height="22.30" fill="#c8d7e7"/>
<rect x="82.10" y="353.80" width="17.95" height="22.30" fill="#ebf0f6"/>
<rect x="99.05" y="353.80" width="17.95" height="22.30" fill="#6f97c0"/>
<rect x="116.00" y="353.80" width="17.95" height="22.30" fill="#4b7eb0"/>
<rect x="132.95" y="353.80" width="17.95" height="22.30" fill="#638fba"/>
<rect x="149.90" y="353.80" width="17.95" height="22.30" fill="#e4ebf3"/>
<rect x="166.85" y="353.80" width="17.95" height="22.30" fill="#86a8ca"/>
<rect x="183.80" y="353.80" width="17.95" height="22.30" fill="#96b3d1"/>
<rect x="200.75" y="353.80" width="17.95" height="22.30" fill="#d4e0ec"/>
<rect x="217.70" y="353.80" width="17.95" height="22.30" fill="#d4dfec"/>
<rect x="234.65" y="353.80" width="16.95" height="22.30" fill="#c9d8e7"/>
<rect x="82.10" y="375.10" width="17.95" height="22.30" fill="#c6d6e6"/>
<rect x="99.05" y="375.10" width="17.95" height="22.30" fill="#4177ab"/>
<rect x="116.00" y="375.10" width="17.95" height="22.30" fill="#aec4dc"/>
<rect x="132.95" y="375.10" width="17.95" height="22.30" fill="#6993bd"/>
<rect x="149.90" y="375.10" width="17.95" height="22.30" fill="#d5e1ed"/>
<rect x="166.85" y="375.10" width="17.95" height="22.30" fill="#9eb9d5"/>
<rect x="183.80" y="375.10" width="17.95" height="22.30" fill="#afc5dc"/>
<rect x="200.75" y="375.10" width="17.95" height="22.30" fill="#c9d7e7"/>
<rect x="217.70" y="375.10" width="17.95" height="22.30" fill="#cedbea"/>
<rect x="234.65" y="375.10" width="16.95" height="22.30" fill="#c2d3e5"/>
<rect x="82.10" y="396.40" width="17.95" height="22.30" fill="#becfe3"/>
<rect x="99.05" y="396.40" width="17.95" height="22.30" fill="#638fba"/>
<rect x="116.00" y="396.40" width="17.95" height="22.30" fill="#b6cadf"/>
<rect x="132.95" y="396.40" width="17.95" height="22.30" fill="#638fba"/>
<rect x="149.90" y="396.40" width="17.95" height="22.30" fill="#d3dfec"/>
<rect x="166.85" y="396.40" width="17.95" height="22.30" fill="#83a5c8"/>
<rect x="183.80" y="396.40" width="17.95" height="22.30" fill="#abc2da"/>
<rect x="200.75" y="396.40" width="17.95" height="22.30" fill="#ccdae9"/>
<rect x="217.70" y="396.40" width="17.95" height="22.30" fill="#e1e9f2"/>
<rect x="234.65" y="396.40" width="16.95" height="22.30" fill="#ccdae9"/>
<rect x="82.10" y="417.70" width="17.95" height="22.30" fill="#86a8ca"/>
<rect x="99.05" y="417.70" width="17.95" height="22.30" fill="#4b7eb0"/>
<rect x="116.00" y="417.70" width="17.95" height="22.30" fill="#779dc3"/>
<rect x="132.95" y="417.70" width="17.95" height="22.30" fill="#83a5c8"/>
<rect x="149.90" y="417.70" width="17.95" height="22.30" fill="#cedbea"/>
<rect x="166.85" y="417.70" width="17.95" height="22.30" fill="#9ab6d3"/>
<rect x="183.80" y="417.70" width="17.95" height="22.30" fill="#7da1c6"/>
<rect x="200.75" y="417.70" width="17.95" height="22.30" fill="#bbcde1"/>
<rect x="217.70" y="417.70" width="17.95" height="22.30" fill="#becfe3"/>
<rect x="234.65" y="417.70" width="16.95" height="22.30" fill="#c7d6e6"/>
<rect x="82.10" y="439.00" width="17.95" height="21.30" fill="#aac1da"/>
<rect x="99.05" y="439.00" width="17.95" height="21.30" fill="#aac1da"/>
<rect x="116.00" y="439.00" width="17.95" height="21.30" fill="#aac1da"/>
<rect x="132.95" y="439.00" width="17.95" height="21.30" fill="#aac1da"/>
<rect x="149.90" y="439.00" width="17.95" height="21.30" fill="#aac1da"/>
<rect x="166.85" y="439.00" width="17.95" height="21.30" fill="#aac1da"/>
<rect x="183.80" y="439.00" width="17.95" height="21.30" fill="#aac1da"/>
<rect x="200.75" y="439.00" width="17.95" height="21.30" fill="#aac1da"/>
<rect x="217.70" y="439.00" width="17.95" height="21.30" fill="#aac1da"/>
<rect x="234.65" y="439.00" width="16.95" height="21.30" fill="#aac1da"/>
<text transform="translate(90.57,303.40) scale(1,1.160)" font-size="5.75" text-anchor="middle" font-weight="bold" fill="#111" stroke="#111" stroke-width="0.16">29.33</text>
<text transform="translate(107.52,303.40) scale(1,1.160)" font-size="5.75" text-anchor="middle" font-weight="bold" fill="#111" stroke="#111" stroke-width="0.16">22.42</text>
<text transform="translate(158.37,303.40) scale(1,1.160)" font-size="5.75" text-anchor="middle" font-weight="bold" fill="#111" stroke="#111" stroke-width="0.16">45.76</text>
<text transform="translate(192.27,303.40) scale(1,1.160)" font-size="5.75" text-anchor="middle" font-weight="bold" fill="#111" stroke="#111" stroke-width="0.16">97.96</text>
<text transform="translate(209.22,303.40) scale(1,1.160)" font-size="5.75" text-anchor="middle" font-weight="bold" fill="#111" stroke="#111" stroke-width="0.16">38.57</text>
<text transform="translate(226.17,303.40) scale(1,1.160)" font-size="5.75" text-anchor="middle" font-weight="bold" fill="#111" stroke="#111" stroke-width="0.16">77.05</text>
<text transform="translate(243.12,303.40) scale(1,1.160)" font-size="5.75" text-anchor="middle" font-weight="bold" fill="#111" stroke="#111" stroke-width="0.16">56.84</text>
<text transform="translate(90.57,324.70) scale(1,1.160)" font-size="5.75" text-anchor="middle" font-weight="bold" fill="#111" stroke="#111" stroke-width="0.16">33.40</text>
<text transform="translate(107.52,324.70) scale(1,1.160)" font-size="5.75" text-anchor="middle" font-weight="bold" fill="#111" stroke="#111" stroke-width="0.16">32.29</text>
<text transform="translate(124.47,324.70) scale(1,1.160)" font-size="5.75" text-anchor="middle" font-weight="bold" fill="#111" stroke="#111" stroke-width="0.16">92.81</text>
<text transform="translate(158.37,324.70) scale(1,1.160)" font-size="5.75" text-anchor="middle" font-weight="bold" fill="#111" stroke="#111" stroke-width="0.16">44.93</text>
<text transform="translate(209.22,324.70) scale(1,1.160)" font-size="5.75" text-anchor="middle" font-weight="bold" fill="#111" stroke="#111" stroke-width="0.16">59.26</text>
<text transform="translate(226.17,324.70) scale(1,1.160)" font-size="5.75" text-anchor="middle" font-weight="bold" fill="#111" stroke="#111" stroke-width="0.16">84.67</text>
<text transform="translate(243.12,324.70) scale(1,1.160)" font-size="5.75" text-anchor="middle" font-weight="bold" fill="#111" stroke="#111" stroke-width="0.16">84.69</text>
<text transform="translate(90.57,346.00) scale(1,1.160)" font-size="5.75" text-anchor="middle" font-weight="bold" fill="#111" stroke="#111" stroke-width="0.16">38.80</text>
<text transform="translate(107.52,346.00) scale(1,1.160)" font-size="5.75" text-anchor="middle" font-weight="bold" fill="#111" stroke="#111" stroke-width="0.16">52.81</text>
<text transform="translate(158.37,346.00) scale(1,1.160)" font-size="5.75" text-anchor="middle" font-weight="bold" fill="#111" stroke="#111" stroke-width="0.16">49.37</text>
<text transform="translate(209.22,346.00) scale(1,1.160)" font-size="5.75" text-anchor="middle" font-weight="bold" fill="#111" stroke="#111" stroke-width="0.16">85.21</text>
<text transform="translate(226.17,346.00) scale(1,1.160)" font-size="5.75" text-anchor="middle" font-weight="bold" fill="#111" stroke="#111" stroke-width="0.16">89.62</text>
<text transform="translate(243.12,346.00) scale(1,1.160)" font-size="5.75" text-anchor="middle" font-weight="bold" fill="#111" stroke="#111" stroke-width="0.16">82.12</text>
<text transform="translate(90.57,367.30) scale(1,1.160)" font-size="5.75" text-anchor="middle" font-weight="bold" fill="#111" stroke="#111" stroke-width="0.16">61.85</text>
<text transform="translate(158.37,367.30) scale(1,1.160)" font-size="5.75" text-anchor="middle" font-weight="bold" fill="#111" stroke="#111" stroke-width="0.16">66.02</text>
<text transform="translate(209.22,367.30) scale(1,1.160)" font-size="5.75" text-anchor="middle" font-weight="bold" fill="#111" stroke="#111" stroke-width="0.16">75.32</text>
<text transform="translate(226.17,367.30) scale(1,1.160)" font-size="5.75" text-anchor="middle" font-weight="bold" fill="#111" stroke="#111" stroke-width="0.16">75.56</text>
<text transform="translate(243.12,367.30) scale(1,1.160)" font-size="5.75" text-anchor="middle" font-weight="bold" fill="#111" stroke="#111" stroke-width="0.16">81.85</text>
<text transform="translate(90.57,388.60) scale(1,1.160)" font-size="5.75" text-anchor="middle" font-weight="bold" fill="#111" stroke="#111" stroke-width="0.16">83.43</text>
<text transform="translate(124.47,388.60) scale(1,1.160)" font-size="5.75" text-anchor="middle" font-weight="bold" fill="#111" stroke="#111" stroke-width="0.16">97.56</text>
<text transform="translate(158.37,388.60) scale(1,1.160)" font-size="5.75" text-anchor="middle" font-weight="bold" fill="#111" stroke="#111" stroke-width="0.16">74.58</text>
<text transform="translate(192.27,388.60) scale(1,1.160)" font-size="5.75" text-anchor="middle" font-weight="bold" fill="#111" stroke="#111" stroke-width="0.16">96.87</text>
<text transform="translate(209.22,388.60) scale(1,1.160)" font-size="5.75" text-anchor="middle" font-weight="bold" fill="#111" stroke="#111" stroke-width="0.16">81.94</text>
<text transform="translate(226.17,388.60) scale(1,1.160)" font-size="5.75" text-anchor="middle" font-weight="bold" fill="#111" stroke="#111" stroke-width="0.16">78.99</text>
<text transform="translate(243.12,388.60) scale(1,1.160)" font-size="5.75" text-anchor="middle" font-weight="bold" fill="#111" stroke="#111" stroke-width="0.16">85.59</text>
<text transform="translate(90.57,409.90) scale(1,1.160)" font-size="5.75" text-anchor="middle" font-weight="bold" fill="#111" stroke="#111" stroke-width="0.16">88.42</text>
<text transform="translate(124.47,409.90) scale(1,1.160)" font-size="5.75" text-anchor="middle" font-weight="bold" fill="#111" stroke="#111" stroke-width="0.16">92.80</text>
<text transform="translate(158.37,409.90) scale(1,1.160)" font-size="5.75" text-anchor="middle" font-weight="bold" fill="#111" stroke="#111" stroke-width="0.16">75.73</text>
<text transform="translate(192.27,409.90) scale(1,1.160)" font-size="5.75" text-anchor="middle" font-weight="bold" fill="#111" stroke="#111" stroke-width="0.16">99.52</text>
<text transform="translate(209.22,409.90) scale(1,1.160)" font-size="5.75" text-anchor="middle" font-weight="bold" fill="#111" stroke="#111" stroke-width="0.16">79.94</text>
<text transform="translate(226.17,409.90) scale(1,1.160)" font-size="5.75" text-anchor="middle" font-weight="bold" fill="#111" stroke="#111" stroke-width="0.16">67.91</text>
<text transform="translate(243.12,409.90) scale(1,1.160)" font-size="5.75" text-anchor="middle" font-weight="bold" fill="#111" stroke="#111" stroke-width="0.16">79.89</text>
<text transform="translate(158.37,431.20) scale(1,1.160)" font-size="5.75" text-anchor="middle" font-weight="bold" fill="#111" stroke="#111" stroke-width="0.16">78.87</text>
<text transform="translate(209.22,431.20) scale(1,1.160)" font-size="5.75" text-anchor="middle" font-weight="bold" fill="#111" stroke="#111" stroke-width="0.16">90.23</text>
<text transform="translate(226.17,431.20) scale(1,1.160)" font-size="5.75" text-anchor="middle" font-weight="bold" fill="#111" stroke="#111" stroke-width="0.16">88.41</text>
<text transform="translate(243.12,431.20) scale(1,1.160)" font-size="5.75" text-anchor="middle" font-weight="bold" fill="#111" stroke="#111" stroke-width="0.16">83.11</text>
<rect x="82.10" y="289.90" width="169.50" height="170.40" fill="none" stroke="#333" stroke-width="0.9"/>
<line x1="79.90" y1="300.55" x2="82.10" y2="300.55" stroke="#222" stroke-width="0.70"/>
<text x="77.20" y="302.95" font-size="6.80" text-anchor="end" font-weight="bold" fill="#000" stroke="#000" stroke-width="0.12">50</text>
<line x1="79.90" y1="321.85" x2="82.10" y2="321.85" stroke="#222" stroke-width="0.70"/>
<text x="77.20" y="324.25" font-size="6.80" text-anchor="end" font-weight="bold" fill="#000" stroke="#000" stroke-width="0.12">25</text>
<line x1="79.90" y1="343.15" x2="82.10" y2="343.15" stroke="#222" stroke-width="0.70"/>
<text x="77.20" y="345.55" font-size="6.80" text-anchor="end" font-weight="bold" fill="#000" stroke="#000" stroke-width="0.12">12.5</text>
<line x1="79.90" y1="364.45" x2="82.10" y2="364.45" stroke="#222" stroke-width="0.70"/>
<text x="77.20" y="366.85" font-size="6.80" text-anchor="end" font-weight="bold" fill="#000" stroke="#000" stroke-width="0.12">6.3</text>
<line x1="79.90" y1="385.75" x2="82.10" y2="385.75" stroke="#222" stroke-width="0.70"/>
<text x="77.20" y="388.15" font-size="6.80" text-anchor="end" font-weight="bold" fill="#000" stroke="#000" stroke-width="0.12">3.1</text>
<line x1="79.90" y1="407.05" x2="82.10" y2="407.05" stroke="#222" stroke-width="0.70"/>
<text x="77.20" y="409.45" font-size="6.80" text-anchor="end" font-weight="bold" fill="#000" stroke="#000" stroke-width="0.12">1.6</text>
<line x1="79.90" y1="428.35" x2="82.10" y2="428.35" stroke="#222" stroke-width="0.70"/>
<text x="77.20" y="430.75" font-size="6.80" text-anchor="end" font-weight="bold" fill="#000" stroke="#000" stroke-width="0.12">0.8</text>
<line x1="79.90" y1="449.65" x2="82.10" y2="449.65" stroke="#222" stroke-width="0.70"/>
<text x="77.20" y="452.05" font-size="6.80" text-anchor="end" font-weight="bold" fill="#000" stroke="#000" stroke-width="0.12">Control</text>
<line x1="90.57" y1="460.30" x2="90.57" y2="462.80" stroke="#222" stroke-width="0.70"/>
<text transform="translate(92.07,468.80) rotate(-45)" font-size="7.90" text-anchor="end" font-weight="bold" fill="#000" stroke="#000" stroke-width="0.12">VmCT1</text>
<line x1="107.52" y1="460.30" x2="107.52" y2="462.80" stroke="#222" stroke-width="0.70"/>
<text transform="translate(109.02,468.80) rotate(-45)" font-size="7.90" text-anchor="end" font-weight="bold" fill="#000" stroke="#000" stroke-width="0.12">Protonectin</text>
<line x1="124.47" y1="460.30" x2="124.47" y2="462.80" stroke="#222" stroke-width="0.70"/>
<text transform="translate(125.97,468.80) rotate(-45)" font-size="7.90" text-anchor="end" font-weight="bold" fill="#000" stroke="#000" stroke-width="0.12">PV</text>
<line x1="141.42" y1="460.30" x2="141.42" y2="462.80" stroke="#222" stroke-width="0.70"/>
<text transform="translate(142.92,468.80) rotate(-45)" font-size="7.90" text-anchor="end" font-weight="bold" fill="#000" stroke="#000" stroke-width="0.12">VP</text>
<line x1="158.37" y1="460.30" x2="158.37" y2="462.80" stroke="#222" stroke-width="0.70"/>
<text transform="translate(159.87,468.80) rotate(-45)" font-size="7.90" text-anchor="end" font-weight="bold" fill="#000" stroke="#000" stroke-width="0.12">Decoralin</text>
<line x1="175.32" y1="460.30" x2="175.32" y2="462.80" stroke="#222" stroke-width="0.70"/>
<text transform="translate(176.82,468.80) rotate(-45)" font-size="7.90" text-anchor="end" font-weight="bold" fill="#000" stroke="#000" stroke-width="0.12">DV</text>
<line x1="192.27" y1="460.30" x2="192.27" y2="462.80" stroke="#222" stroke-width="0.70"/>
<text transform="translate(193.77,468.80) rotate(-45)" font-size="7.90" text-anchor="end" font-weight="bold" fill="#000" stroke="#000" stroke-width="0.12">VD</text>
<line x1="209.22" y1="460.30" x2="209.22" y2="462.80" stroke="#222" stroke-width="0.70"/>
<text transform="translate(210.72,468.80) rotate(-45)" font-size="7.90" text-anchor="end" font-weight="bold" fill="#000" stroke="#000" stroke-width="0.12">Temporin A</text>
<line x1="226.17" y1="460.30" x2="226.17" y2="462.80" stroke="#222" stroke-width="0.70"/>
<text transform="translate(227.67,468.80) rotate(-45)" font-size="7.90" text-anchor="end" font-weight="bold" fill="#000" stroke="#000" stroke-width="0.12">TV</text>
<line x1="243.12" y1="460.30" x2="243.12" y2="462.80" stroke="#222" stroke-width="0.70"/>
<text transform="translate(244.62,468.80) rotate(-45)" font-size="7.90" text-anchor="end" font-weight="bold" fill="#000" stroke="#000" stroke-width="0.12">VT</text>
<defs><linearGradient id="gc" x1="0" y1="1" x2="0" y2="0"><stop offset="0" stop-color="#a01616"/><stop offset="0.2857" stop-color="#ffffff"/><stop offset="0.5714" stop-color="#aac1da"/><stop offset="1" stop-color="#165898"/></linearGradient></defs>
<rect x="261.20" y="290.00" width="9.30" height="170.30" fill="url(#gc)" stroke="#444" stroke-width="0.6"/>
<line x1="268.90" y1="460.30" x2="270.70" y2="460.30" stroke="#222" stroke-width="0.70"/>
<text x="276.30" y="462.60" font-size="6.30" text-anchor="start" font-weight="bold" fill="#000" stroke="#000" stroke-width="0.12">0</text>
<line x1="268.90" y1="435.97" x2="270.70" y2="435.97" stroke="#222" stroke-width="0.70"/>
<text x="276.30" y="438.27" font-size="6.30" text-anchor="start" font-weight="bold" fill="#000" stroke="#000" stroke-width="0.12">25</text>
<line x1="268.90" y1="411.64" x2="270.70" y2="411.64" stroke="#222" stroke-width="0.70"/>
<text x="276.30" y="413.94" font-size="6.30" text-anchor="start" font-weight="bold" fill="#000" stroke="#000" stroke-width="0.12">50</text>
<line x1="268.90" y1="387.31" x2="270.70" y2="387.31" stroke="#222" stroke-width="0.70"/>
<text x="276.30" y="389.61" font-size="6.30" text-anchor="start" font-weight="bold" fill="#000" stroke="#000" stroke-width="0.12">75</text>
<line x1="268.90" y1="362.99" x2="270.70" y2="362.99" stroke="#222" stroke-width="0.70"/>
<text x="276.30" y="365.29" font-size="6.30" text-anchor="start" font-weight="bold" fill="#000" stroke="#000" stroke-width="0.12">100</text>
<line x1="268.90" y1="338.66" x2="270.70" y2="338.66" stroke="#222" stroke-width="0.70"/>
<text x="276.30" y="340.96" font-size="6.30" text-anchor="start" font-weight="bold" fill="#000" stroke="#000" stroke-width="0.12">125</text>
<line x1="268.90" y1="314.33" x2="270.70" y2="314.33" stroke="#222" stroke-width="0.70"/>
<text x="276.30" y="316.63" font-size="6.30" text-anchor="start" font-weight="bold" fill="#000" stroke="#000" stroke-width="0.12">150</text>
<line x1="268.90" y1="290.00" x2="270.70" y2="290.00" stroke="#222" stroke-width="0.70"/>
<text x="276.30" y="292.30" font-size="6.30" text-anchor="start" font-weight="bold" fill="#000" stroke="#000" stroke-width="0.12">175</text>
<text transform="translate(291.50,373.40) rotate(90)" font-size="7.80" text-anchor="middle" font-weight="bold" fill="#000" stroke="#000" stroke-width="0.12">Viable cells (%)</text>
<text transform="translate(56.00,374.85) rotate(-90)" font-size="7.77" text-anchor="middle" font-weight="bold" fill="#000" stroke="#000" stroke-width="0.12">Peptide Concentration (&#956;mol L<tspan dy="-2.4" font-size="75%">-1</tspan><tspan dy="2.4">)</tspan></text>
<text x="30.50" y="296.60" font-size="14.00" text-anchor="start" font-weight="bold" fill="#000" stroke="#000" stroke-width="0.12">c</text>
<rect x="85.60" y="503.40" width="19.34" height="19.42" fill="#d6e1ed"/>
<rect x="103.94" y="503.40" width="19.34" height="19.42" fill="#e7edf4"/>
<rect x="122.28" y="503.40" width="19.34" height="19.42" fill="#f0f4f9"/>
<rect x="140.62" y="503.40" width="19.34" height="19.42" fill="#afc5dc"/>
<rect x="158.96" y="503.40" width="19.34" height="19.42" fill="#bacde1"/>
<rect x="177.30" y="503.40" width="19.34" height="19.42" fill="#e5ecf4"/>
<rect x="195.64" y="503.40" width="19.34" height="19.42" fill="#f7ecec"/>
<rect x="213.98" y="503.40" width="19.34" height="19.42" fill="#b2c7dd"/>
<rect x="232.32" y="503.40" width="18.34" height="19.42" fill="#dbe5ef"/>
<rect x="85.60" y="521.82" width="19.34" height="19.42" fill="#6f97c0"/>
<rect x="103.94" y="521.82" width="19.34" height="19.42" fill="#7b9fc5"/>
<rect x="122.28" y="521.82" width="19.34" height="19.42" fill="#205f9c"/>
<rect x="140.62" y="521.82" width="19.34" height="19.42" fill="#477bae"/>
<rect x="158.96" y="521.82" width="19.34" height="19.42" fill="#477bae"/>
<rect x="177.30" y="521.82" width="19.34" height="19.42" fill="#86a8ca"/>
<rect x="195.64" y="521.82" width="19.34" height="19.42" fill="#6791bc"/>
<rect x="213.98" y="521.82" width="19.34" height="19.42" fill="#92b0cf"/>
<rect x="232.32" y="521.82" width="18.34" height="19.42" fill="#92b0cf"/>
<rect x="85.60" y="540.24" width="19.34" height="19.42" fill="#7b9fc5"/>
<rect x="103.94" y="540.24" width="19.34" height="19.42" fill="#9ab6d3"/>
<rect x="122.28" y="540.24" width="19.34" height="19.42" fill="#9eb9d5"/>
<rect x="140.62" y="540.24" width="19.34" height="19.42" fill="#b9cce1"/>
<rect x="158.96" y="540.24" width="19.34" height="19.42" fill="#8aabcc"/>
<rect x="177.30" y="540.24" width="19.34" height="19.42" fill="#bbcde1"/>
<rect x="195.64" y="540.24" width="19.34" height="19.42" fill="#adc3db"/>
<rect x="213.98" y="540.24" width="19.34" height="19.42" fill="#cbd9e8"/>
<rect x="232.32" y="540.24" width="18.34" height="19.42" fill="#c2d3e5"/>
<rect x="85.60" y="558.66" width="19.34" height="19.42" fill="#6f97c0"/>
<rect x="103.94" y="558.66" width="19.34" height="19.42" fill="#aac1da"/>
<rect x="122.28" y="558.66" width="19.34" height="19.42" fill="#cedcea"/>
<rect x="140.62" y="558.66" width="19.34" height="19.42" fill="#aac1da"/>
<rect x="158.96" y="558.66" width="19.34" height="19.42" fill="#aac1da"/>
<rect x="177.30" y="558.66" width="19.34" height="19.42" fill="#d0ddeb"/>
<rect x="195.64" y="558.66" width="19.34" height="19.42" fill="#ecf1f7"/>
<rect x="213.98" y="558.66" width="19.34" height="19.42" fill="#e7eef5"/>
<rect x="232.32" y="558.66" width="18.34" height="19.42" fill="#ecf1f7"/>
<rect x="85.60" y="577.08" width="19.34" height="19.42" fill="#4378ac"/>
<rect x="103.94" y="577.08" width="19.34" height="19.42" fill="#638fba"/>
<rect x="122.28" y="577.08" width="19.34" height="19.42" fill="#739ac1"/>
<rect x="140.62" y="577.08" width="19.34" height="19.42" fill="#4378ac"/>
<rect x="158.96" y="577.08" width="19.34" height="19.42" fill="#638fba"/>
<rect x="177.30" y="577.08" width="19.34" height="19.42" fill="#92b0cf"/>
<rect x="195.64" y="577.08" width="19.34" height="19.42" fill="#83a5c8"/>
<rect x="213.98" y="577.08" width="19.34" height="19.42" fill="#5786b5"/>
<rect x="232.32" y="577.08" width="18.34" height="19.42" fill="#7b9fc5"/>
<rect x="85.60" y="595.50" width="19.34" height="19.42" fill="#7fa2c7"/>
<rect x="103.94" y="595.50" width="19.34" height="19.42" fill="#9ab6d3"/>
<rect x="122.28" y="595.50" width="19.34" height="19.42" fill="#e1e9f2"/>
<rect x="140.62" y="595.50" width="19.34" height="19.42" fill="#c6d5e6"/>
<rect x="158.96" y="595.50" width="19.34" height="19.42" fill="#c3d3e5"/>
<rect x="177.30" y="595.50" width="19.34" height="19.42" fill="#e9eff5"/>
<rect x="195.64" y="595.50" width="19.34" height="19.42" fill="#c8d7e7"/>
<rect x="213.98" y="595.50" width="19.34" height="19.42" fill="#ecf1f7"/>
<rect x="232.32" y="595.50" width="18.34" height="19.42" fill="#d1deeb"/>
<rect x="85.60" y="613.92" width="19.34" height="19.42" fill="#8eadce"/>
<rect x="103.94" y="613.92" width="19.34" height="19.42" fill="#86a8ca"/>
<rect x="122.28" y="613.92" width="19.34" height="19.42" fill="#d9e4ef"/>
<rect x="140.62" y="613.92" width="19.34" height="19.42" fill="#96b3d1"/>
<rect x="158.96" y="613.92" width="19.34" height="19.42" fill="#9ab6d3"/>
<rect x="177.30" y="613.92" width="19.34" height="19.42" fill="#cbd9e8"/>
<rect x="195.64" y="613.92" width="19.34" height="19.42" fill="#8eadce"/>
<rect x="213.98" y="613.92" width="19.34" height="19.42" fill="#c0d1e4"/>
<rect x="232.32" y="613.92" width="18.34" height="19.42" fill="#e1e9f2"/>
<rect x="85.60" y="632.34" width="19.34" height="19.42" fill="#477bae"/>
<rect x="103.94" y="632.34" width="19.34" height="19.42" fill="#6f97c0"/>
<rect x="122.28" y="632.34" width="19.34" height="19.42" fill="#b9cce0"/>
<rect x="140.62" y="632.34" width="19.34" height="19.42" fill="#2c67a2"/>
<rect x="158.96" y="632.34" width="19.34" height="19.42" fill="#6f97c0"/>
<rect x="177.30" y="632.34" width="19.34" height="19.42" fill="#8aabcc"/>
<rect x="195.64" y="632.34" width="19.34" height="19.42" fill="#6791bc"/>
<rect x="213.98" y="632.34" width="19.34" height="19.42" fill="#779dc3"/>
<rect x="232.32" y="632.34" width="18.34" height="19.42" fill="#6f97c0"/>
<rect x="85.60" y="650.76" width="19.34" height="18.42" fill="#aac1da"/>
<rect x="103.94" y="650.76" width="19.34" height="18.42" fill="#aac1da"/>
<rect x="122.28" y="650.76" width="19.34" height="18.42" fill="#aac1da"/>
<rect x="140.62" y="650.76" width="19.34" height="18.42" fill="#aac1da"/>
<rect x="158.96" y="650.76" width="19.34" height="18.42" fill="#aac1da"/>
<rect x="177.30" y="650.76" width="19.34" height="18.42" fill="#aac1da"/>
<rect x="195.64" y="650.76" width="19.34" height="18.42" fill="#aac1da"/>
<rect x="213.98" y="650.76" width="19.34" height="18.42" fill="#aac1da"/>
<rect x="232.32" y="650.76" width="18.34" height="18.42" fill="#aac1da"/>
<text transform="translate(94.77,514.61) scale(1,1.120)" font-size="6.50" text-anchor="middle" font-weight="bold" fill="#111" stroke="#111" stroke-width="0.16">73.93</text>
<text transform="translate(113.11,514.61) scale(1,1.120)" font-size="6.50" text-anchor="middle" font-weight="bold" fill="#111" stroke="#111" stroke-width="0.16">64.30</text>
<text transform="translate(131.45,514.61) scale(1,1.120)" font-size="6.50" text-anchor="middle" font-weight="bold" fill="#111" stroke="#111" stroke-width="0.16">58.58</text>
<text transform="translate(149.79,514.61) scale(1,1.120)" font-size="6.50" text-anchor="middle" font-weight="bold" fill="#111" stroke="#111" stroke-width="0.16">96.88</text>
<text transform="translate(168.13,514.61) scale(1,1.120)" font-size="6.50" text-anchor="middle" font-weight="bold" fill="#111" stroke="#111" stroke-width="0.16">90.63</text>
<text transform="translate(186.47,514.61) scale(1,1.120)" font-size="6.50" text-anchor="middle" font-weight="bold" fill="#111" stroke="#111" stroke-width="0.16">65.10</text>
<text transform="translate(204.81,514.61) scale(1,1.120)" font-size="6.50" text-anchor="middle" font-weight="bold" fill="#111" stroke="#111" stroke-width="0.16">45.83</text>
<text transform="translate(223.15,514.61) scale(1,1.120)" font-size="6.50" text-anchor="middle" font-weight="bold" fill="#111" stroke="#111" stroke-width="0.16">95.31</text>
<text transform="translate(241.49,514.61) scale(1,1.120)" font-size="6.50" text-anchor="middle" font-weight="bold" fill="#111" stroke="#111" stroke-width="0.16">71.35</text>
<text transform="translate(149.79,551.45) scale(1,1.120)" font-size="6.50" text-anchor="middle" font-weight="bold" fill="#111" stroke="#111" stroke-width="0.16">90.93</text>
<text transform="translate(186.47,551.45) scale(1,1.120)" font-size="6.50" text-anchor="middle" font-weight="bold" fill="#111" stroke="#111" stroke-width="0.16">90.28</text>
<text transform="translate(204.81,551.45) scale(1,1.120)" font-size="6.50" text-anchor="middle" font-weight="bold" fill="#111" stroke="#111" stroke-width="0.16">98.38</text>
<text transform="translate(223.15,551.45) scale(1,1.120)" font-size="6.50" text-anchor="middle" font-weight="bold" fill="#111" stroke="#111" stroke-width="0.16">80.68</text>
<text transform="translate(241.49,551.45) scale(1,1.120)" font-size="6.50" text-anchor="middle" font-weight="bold" fill="#111" stroke="#111" stroke-width="0.16">85.81</text>
<text transform="translate(131.45,569.87) scale(1,1.120)" font-size="6.50" text-anchor="middle" font-weight="bold" fill="#111" stroke="#111" stroke-width="0.16">78.57</text>
<text transform="translate(186.47,569.87) scale(1,1.120)" font-size="6.50" text-anchor="middle" font-weight="bold" fill="#111" stroke="#111" stroke-width="0.16">77.60</text>
<text transform="translate(204.81,569.87) scale(1,1.120)" font-size="6.50" text-anchor="middle" font-weight="bold" fill="#111" stroke="#111" stroke-width="0.16">61.05</text>
<text transform="translate(223.15,569.87) scale(1,1.120)" font-size="6.50" text-anchor="middle" font-weight="bold" fill="#111" stroke="#111" stroke-width="0.16">63.93</text>
<text transform="translate(241.49,569.87) scale(1,1.120)" font-size="6.50" text-anchor="middle" font-weight="bold" fill="#111" stroke="#111" stroke-width="0.16">61.05</text>
<text transform="translate(131.45,606.71) scale(1,1.120)" font-size="6.50" text-anchor="middle" font-weight="bold" fill="#111" stroke="#111" stroke-width="0.16">67.41</text>
<text transform="translate(149.79,606.71) scale(1,1.120)" font-size="6.50" text-anchor="middle" font-weight="bold" fill="#111" stroke="#111" stroke-width="0.16">83.67</text>
<text transform="translate(168.13,606.71) scale(1,1.120)" font-size="6.50" text-anchor="middle" font-weight="bold" fill="#111" stroke="#111" stroke-width="0.16">85.38</text>
<text transform="translate(186.47,606.71) scale(1,1.120)" font-size="6.50" text-anchor="middle" font-weight="bold" fill="#111" stroke="#111" stroke-width="0.16">63.18</text>
<text transform="translate(204.81,606.71) scale(1,1.120)" font-size="6.50" text-anchor="middle" font-weight="bold" fill="#111" stroke="#111" stroke-width="0.16">82.39</text>
<text transform="translate(223.15,606.71) scale(1,1.120)" font-size="6.50" text-anchor="middle" font-weight="bold" fill="#111" stroke="#111" stroke-width="0.16">61.05</text>
<text transform="translate(241.49,606.71) scale(1,1.120)" font-size="6.50" text-anchor="middle" font-weight="bold" fill="#111" stroke="#111" stroke-width="0.16">76.84</text>
<text transform="translate(131.45,625.13) scale(1,1.120)" font-size="6.50" text-anchor="middle" font-weight="bold" fill="#111" stroke="#111" stroke-width="0.16">72.16</text>
<text transform="translate(186.47,625.13) scale(1,1.120)" font-size="6.50" text-anchor="middle" font-weight="bold" fill="#111" stroke="#111" stroke-width="0.16">80.68</text>
<text transform="translate(223.15,625.13) scale(1,1.120)" font-size="6.50" text-anchor="middle" font-weight="bold" fill="#111" stroke="#111" stroke-width="0.16">87.09</text>
<text transform="translate(241.49,625.13) scale(1,1.120)" font-size="6.50" text-anchor="middle" font-weight="bold" fill="#111" stroke="#111" stroke-width="0.16">67.88</text>
<text transform="translate(131.45,643.55) scale(1,1.120)" font-size="6.50" text-anchor="middle" font-weight="bold" fill="#111" stroke="#111" stroke-width="0.16">91.39</text>
<rect x="85.60" y="503.40" width="165.06" height="165.78" fill="none" stroke="#333" stroke-width="0.9"/>
<line x1="83.40" y1="512.61" x2="85.60" y2="512.61" stroke="#222" stroke-width="0.70"/>
<text x="82.30" y="515.01" font-size="7.30" text-anchor="end" font-weight="bold" fill="#000" stroke="#000" stroke-width="0.12">100</text>
<line x1="83.40" y1="531.03" x2="85.60" y2="531.03" stroke="#222" stroke-width="0.70"/>
<text x="82.30" y="533.43" font-size="7.30" text-anchor="end" font-weight="bold" fill="#000" stroke="#000" stroke-width="0.12">50</text>
<line x1="83.40" y1="549.45" x2="85.60" y2="549.45" stroke="#222" stroke-width="0.70"/>
<text x="82.30" y="551.85" font-size="7.30" text-anchor="end" font-weight="bold" fill="#000" stroke="#000" stroke-width="0.12">25</text>
<line x1="83.40" y1="567.87" x2="85.60" y2="567.87" stroke="#222" stroke-width="0.70"/>
<text x="82.30" y="570.27" font-size="7.30" text-anchor="end" font-weight="bold" fill="#000" stroke="#000" stroke-width="0.12">12.5</text>
<line x1="83.40" y1="586.29" x2="85.60" y2="586.29" stroke="#222" stroke-width="0.70"/>
<text x="82.30" y="588.69" font-size="7.30" text-anchor="end" font-weight="bold" fill="#000" stroke="#000" stroke-width="0.12">6.3</text>
<line x1="83.40" y1="604.71" x2="85.60" y2="604.71" stroke="#222" stroke-width="0.70"/>
<text x="82.30" y="607.11" font-size="7.30" text-anchor="end" font-weight="bold" fill="#000" stroke="#000" stroke-width="0.12">3.1</text>
<line x1="83.40" y1="623.13" x2="85.60" y2="623.13" stroke="#222" stroke-width="0.70"/>
<text x="82.30" y="625.53" font-size="7.30" text-anchor="end" font-weight="bold" fill="#000" stroke="#000" stroke-width="0.12">1.6</text>
<line x1="83.40" y1="641.55" x2="85.60" y2="641.55" stroke="#222" stroke-width="0.70"/>
<text x="82.30" y="643.95" font-size="7.30" text-anchor="end" font-weight="bold" fill="#000" stroke="#000" stroke-width="0.12">0.8</text>
<line x1="83.40" y1="659.97" x2="85.60" y2="659.97" stroke="#222" stroke-width="0.70"/>
<text x="82.30" y="662.37" font-size="7.30" text-anchor="end" font-weight="bold" fill="#000" stroke="#000" stroke-width="0.12">Control</text>
<line x1="94.77" y1="669.18" x2="94.77" y2="671.68" stroke="#222" stroke-width="0.70"/>
<text transform="translate(96.27,677.68) rotate(-45)" font-size="8.50" text-anchor="end" font-weight="bold" fill="#000" stroke="#000" stroke-width="0.12">VmCT1</text>
<line x1="113.11" y1="669.18" x2="113.11" y2="671.68" stroke="#222" stroke-width="0.70"/>
<text transform="translate(114.61,677.68) rotate(-45)" font-size="8.50" text-anchor="end" font-weight="bold" fill="#000" stroke="#000" stroke-width="0.12">Protonectin</text>
<line x1="131.45" y1="669.18" x2="131.45" y2="671.68" stroke="#222" stroke-width="0.70"/>
<text transform="translate(132.95,677.68) rotate(-45)" font-size="8.50" text-anchor="end" font-weight="bold" fill="#000" stroke="#000" stroke-width="0.12">PV</text>
<line x1="149.79" y1="669.18" x2="149.79" y2="671.68" stroke="#222" stroke-width="0.70"/>
<text transform="translate(151.29,677.68) rotate(-45)" font-size="8.50" text-anchor="end" font-weight="bold" fill="#000" stroke="#000" stroke-width="0.12">VP</text>
<line x1="168.13" y1="669.18" x2="168.13" y2="671.68" stroke="#222" stroke-width="0.70"/>
<text transform="translate(169.63,677.68) rotate(-45)" font-size="8.50" text-anchor="end" font-weight="bold" fill="#000" stroke="#000" stroke-width="0.12">VD</text>
<line x1="186.47" y1="669.18" x2="186.47" y2="671.68" stroke="#222" stroke-width="0.70"/>
<text transform="translate(187.97,677.68) rotate(-45)" font-size="8.50" text-anchor="end" font-weight="bold" fill="#000" stroke="#000" stroke-width="0.12">DV</text>
<line x1="204.81" y1="669.18" x2="204.81" y2="671.68" stroke="#222" stroke-width="0.70"/>
<text transform="translate(206.31,677.68) rotate(-45)" font-size="8.50" text-anchor="end" font-weight="bold" fill="#000" stroke="#000" stroke-width="0.12">Temporin A</text>
<line x1="223.15" y1="669.18" x2="223.15" y2="671.68" stroke="#222" stroke-width="0.70"/>
<text transform="translate(224.65,677.68) rotate(-45)" font-size="8.50" text-anchor="end" font-weight="bold" fill="#000" stroke="#000" stroke-width="0.12">TV</text>
<line x1="241.49" y1="669.18" x2="241.49" y2="671.68" stroke="#222" stroke-width="0.70"/>
<text transform="translate(242.99,677.68) rotate(-45)" font-size="8.50" text-anchor="end" font-weight="bold" fill="#000" stroke="#000" stroke-width="0.12">VT</text>
<defs><linearGradient id="ge" x1="0" y1="1" x2="0" y2="0"><stop offset="0" stop-color="#a01616"/><stop offset="0.2857" stop-color="#ffffff"/><stop offset="0.5714" stop-color="#aac1da"/><stop offset="1" stop-color="#165898"/></linearGradient></defs>
<rect x="260.60" y="503.20" width="9.80" height="165.40" fill="url(#ge)" stroke="#444" stroke-width="0.6"/>
<line x1="268.80" y1="668.60" x2="270.60" y2="668.60" stroke="#222" stroke-width="0.70"/>
<text x="275.00" y="670.90" font-size="6.70" text-anchor="start" font-weight="bold" fill="#000" stroke="#000" stroke-width="0.12">0</text>
<line x1="268.80" y1="644.97" x2="270.60" y2="644.97" stroke="#222" stroke-width="0.70"/>
<text x="275.00" y="647.27" font-size="6.70" text-anchor="start" font-weight="bold" fill="#000" stroke="#000" stroke-width="0.12">25</text>
<line x1="268.80" y1="621.34" x2="270.60" y2="621.34" stroke="#222" stroke-width="0.70"/>
<text x="275.00" y="623.64" font-size="6.70" text-anchor="start" font-weight="bold" fill="#000" stroke="#000" stroke-width="0.12">50</text>
<line x1="268.80" y1="597.71" x2="270.60" y2="597.71" stroke="#222" stroke-width="0.70"/>
<text x="275.00" y="600.01" font-size="6.70" text-anchor="start" font-weight="bold" fill="#000" stroke="#000" stroke-width="0.12">75</text>
<line x1="268.80" y1="574.09" x2="270.60" y2="574.09" stroke="#222" stroke-width="0.70"/>
<text x="275.00" y="576.39" font-size="6.70" text-anchor="start" font-weight="bold" fill="#000" stroke="#000" stroke-width="0.12">100</text>
<line x1="268.80" y1="550.46" x2="270.60" y2="550.46" stroke="#222" stroke-width="0.70"/>
<text x="275.00" y="552.76" font-size="6.70" text-anchor="start" font-weight="bold" fill="#000" stroke="#000" stroke-width="0.12">125</text>
<line x1="268.80" y1="526.83" x2="270.60" y2="526.83" stroke="#222" stroke-width="0.70"/>
<text x="275.00" y="529.13" font-size="6.70" text-anchor="start" font-weight="bold" fill="#000" stroke="#000" stroke-width="0.12">150</text>
<line x1="268.80" y1="503.20" x2="270.60" y2="503.20" stroke="#222" stroke-width="0.70"/>
<text x="275.00" y="505.50" font-size="6.70" text-anchor="start" font-weight="bold" fill="#000" stroke="#000" stroke-width="0.12">175</text>
<text transform="translate(290.80,585.90) rotate(90)" font-size="8.30" text-anchor="middle" font-weight="bold" fill="#000" stroke="#000" stroke-width="0.12">Viable Cells (%)</text>
<text transform="translate(56.80,583.25) rotate(-90)" font-size="8.38" text-anchor="middle" font-weight="bold" fill="#000" stroke="#000" stroke-width="0.12">Peptide Concentration (&#956;mol L<tspan dy="-2.4" font-size="75%">-1</tspan><tspan dy="2.4">)</tspan></text>
<text x="30.70" y="517.60" font-size="14.00" text-anchor="start" font-weight="bold" fill="#000" stroke="#000" stroke-width="0.12">e</text>
<rect x="398.30" y="246.10" width="20.22" height="34.42" fill="#9b221e"/>
<rect x="417.52" y="246.10" width="20.22" height="34.42" fill="#9c2723"/>
<rect x="436.74" y="246.10" width="20.22" height="34.42" fill="#9d2925"/>
<rect x="455.96" y="246.10" width="20.22" height="34.42" fill="#88a7c8"/>
<rect x="475.18" y="246.10" width="20.22" height="34.42" fill="#c9d7e7"/>
<rect x="494.40" y="246.10" width="20.22" height="34.42" fill="#991e1a"/>
<rect x="513.62" y="246.10" width="20.22" height="34.42" fill="#96b2cf"/>
<rect x="532.84" y="246.10" width="20.22" height="34.42" fill="#104f90"/>
<rect x="552.06" y="246.10" width="20.22" height="34.42" fill="#5e88b4"/>
<rect x="571.28" y="246.10" width="20.22" height="34.42" fill="#a4403f"/>
<rect x="590.50" y="246.10" width="20.22" height="34.42" fill="#205b98"/>
<rect x="609.72" y="246.10" width="20.22" height="34.42" fill="#95120d"/>
<rect x="628.94" y="246.10" width="19.22" height="34.42" fill="#0f4f90"/>
<rect x="398.30" y="279.52" width="20.22" height="34.42" fill="#9e2c29"/>
<rect x="417.52" y="279.52" width="20.22" height="34.42" fill="#a13633"/>
<rect x="436.74" y="279.52" width="20.22" height="34.42" fill="#a33c3a"/>
<rect x="455.96" y="279.52" width="20.22" height="34.42" fill="#779bc0"/>
<rect x="475.18" y="279.52" width="20.22" height="34.42" fill="#b2c6dc"/>
<rect x="494.40" y="279.52" width="20.22" height="34.42" fill="#9f2f2c"/>
<rect x="513.62" y="279.52" width="20.22" height="34.42" fill="#89a8c9"/>
<rect x="532.84" y="279.52" width="20.22" height="34.42" fill="#0d4d8f"/>
<rect x="552.06" y="279.52" width="20.22" height="34.42" fill="#4878aa"/>
<rect x="571.28" y="279.52" width="20.22" height="34.42" fill="#aa5252"/>
<rect x="590.50" y="279.52" width="20.22" height="34.42" fill="#155392"/>
<rect x="609.72" y="279.52" width="20.22" height="34.42" fill="#961510"/>
<rect x="628.94" y="279.52" width="19.22" height="34.42" fill="#104f90"/>
<rect x="398.30" y="312.94" width="20.22" height="34.42" fill="#5984b2"/>
<rect x="417.52" y="312.94" width="20.22" height="34.42" fill="#4878aa"/>
<rect x="436.74" y="312.94" width="20.22" height="34.42" fill="#4979ab"/>
<rect x="455.96" y="312.94" width="20.22" height="34.42" fill="#0c4c8e"/>
<rect x="475.18" y="312.94" width="20.22" height="34.42" fill="#0e4d8f"/>
<rect x="494.40" y="312.94" width="20.22" height="34.42" fill="#4a79ab"/>
<rect x="513.62" y="312.94" width="20.22" height="34.42" fill="#0c4c8e"/>
<rect x="532.84" y="312.94" width="20.22" height="34.42" fill="#0c4c8e"/>
<rect x="552.06" y="312.94" width="20.22" height="34.42" fill="#0c4c8e"/>
<rect x="571.28" y="312.94" width="20.22" height="34.42" fill="#30669f"/>
<rect x="590.50" y="312.94" width="20.22" height="34.42" fill="#0c4c8e"/>
<rect x="609.72" y="312.94" width="20.22" height="34.42" fill="#95120d"/>
<rect x="628.94" y="312.94" width="19.22" height="34.42" fill="#0f4e8f"/>
<rect x="398.30" y="346.36" width="20.22" height="34.42" fill="#104f90"/>
<rect x="417.52" y="346.36" width="20.22" height="34.42" fill="#115091"/>
<rect x="436.74" y="346.36" width="20.22" height="34.42" fill="#165392"/>
<rect x="455.96" y="346.36" width="20.22" height="34.42" fill="#0c4c8e"/>
<rect x="475.18" y="346.36" width="20.22" height="34.42" fill="#0c4c8e"/>
<rect x="494.40" y="346.36" width="20.22" height="34.42" fill="#155292"/>
<rect x="513.62" y="346.36" width="20.22" height="34.42" fill="#0c4c8e"/>
<rect x="532.84" y="346.36" width="20.22" height="34.42" fill="#0c4c8e"/>
<rect x="552.06" y="346.36" width="20.22" height="34.42" fill="#0c4c8e"/>
<rect x="571.28" y="346.36" width="20.22" height="34.42" fill="#0e4d8f"/>
<rect x="590.50" y="346.36" width="20.22" height="34.42" fill="#0c4c8e"/>
<rect x="609.72" y="346.36" width="20.22" height="34.42" fill="#95120d"/>
<rect x="628.94" y="346.36" width="19.22" height="34.42" fill="#104f90"/>
<rect x="398.30" y="379.78" width="20.22" height="33.42" fill="#0c4c8e"/>
<rect x="417.52" y="379.78" width="20.22" height="33.42" fill="#0c4c8e"/>
<rect x="436.74" y="379.78" width="20.22" height="33.42" fill="#0c4c8e"/>
<rect x="455.96" y="379.78" width="20.22" height="33.42" fill="#0c4c8e"/>
<rect x="475.18" y="379.78" width="20.22" height="33.42" fill="#0c4c8e"/>
<rect x="494.40" y="379.78" width="20.22" height="33.42" fill="#0c4c8e"/>
<rect x="513.62" y="379.78" width="20.22" height="33.42" fill="#0c4c8e"/>
<rect x="532.84" y="379.78" width="20.22" height="33.42" fill="#0c4c8e"/>
<rect x="552.06" y="379.78" width="20.22" height="33.42" fill="#0c4c8e"/>
<rect x="571.28" y="379.78" width="20.22" height="33.42" fill="#0c4c8e"/>
<rect x="590.50" y="379.78" width="20.22" height="33.42" fill="#0c4c8e"/>
<rect x="609.72" y="379.78" width="20.22" height="33.42" fill="#96140e"/>
<rect x="628.94" y="379.78" width="19.22" height="33.42" fill="#0f4e90"/>
<text x="407.91" y="264.61" font-size="5.25" text-anchor="middle" font-weight="bold" fill="#ffffff" stroke="#ffffff" stroke-width="0.12">95.22</text>
<text x="427.13" y="264.61" font-size="5.25" text-anchor="middle" font-weight="bold" fill="#ffffff" stroke="#ffffff" stroke-width="0.12">94.11</text>
<text x="446.35" y="264.61" font-size="5.25" text-anchor="middle" font-weight="bold" fill="#ffffff" stroke="#ffffff" stroke-width="0.12">93.67</text>
<text x="465.57" y="264.61" font-size="5.25" text-anchor="middle" font-weight="bold" fill="#ffffff" stroke="#ffffff" stroke-width="0.12">30.33</text>
<text x="484.79" y="264.61" font-size="5.25" text-anchor="middle" font-weight="bold" fill="#ffffff" stroke="#ffffff" stroke-width="0.12">46.44</text>
<text x="504.01" y="264.61" font-size="5.25" text-anchor="middle" font-weight="bold" fill="#ffffff" stroke="#ffffff" stroke-width="0.12">96.11</text>
<text x="523.23" y="264.61" font-size="5.25" text-anchor="middle" font-weight="bold" fill="#ffffff" stroke="#ffffff" stroke-width="0.12">33.89</text>
<text x="542.45" y="264.61" font-size="5.25" text-anchor="middle" font-weight="bold" fill="#ffffff" stroke="#ffffff" stroke-width="0.12">1.00</text>
<text x="561.67" y="264.61" font-size="5.25" text-anchor="middle" font-weight="bold" fill="#ffffff" stroke="#ffffff" stroke-width="0.12">20.00</text>
<text x="580.89" y="264.61" font-size="5.25" text-anchor="middle" font-weight="bold" fill="#ffffff" stroke="#ffffff" stroke-width="0.12">88.11</text>
<text x="600.11" y="264.61" font-size="5.25" text-anchor="middle" font-weight="bold" fill="#ffffff" stroke="#ffffff" stroke-width="0.12">5.00</text>
<text x="619.33" y="264.61" font-size="5.25" text-anchor="middle" font-weight="bold" fill="#ffffff" stroke="#ffffff" stroke-width="0.12">99.00</text>
<text x="638.55" y="264.61" font-size="5.25" text-anchor="middle" font-weight="bold" fill="#ffffff" stroke="#ffffff" stroke-width="0.12">0.84</text>
<text x="407.91" y="298.03" font-size="5.25" text-anchor="middle" font-weight="bold" fill="#ffffff" stroke="#ffffff" stroke-width="0.12">92.89</text>
<text x="427.13" y="298.03" font-size="5.25" text-anchor="middle" font-weight="bold" fill="#ffffff" stroke="#ffffff" stroke-width="0.12">90.67</text>
<text x="446.35" y="298.03" font-size="5.25" text-anchor="middle" font-weight="bold" fill="#ffffff" stroke="#ffffff" stroke-width="0.12">89.11</text>
<text x="465.57" y="298.03" font-size="5.25" text-anchor="middle" font-weight="bold" fill="#ffffff" stroke="#ffffff" stroke-width="0.12">26.22</text>
<text x="484.79" y="298.03" font-size="5.25" text-anchor="middle" font-weight="bold" fill="#ffffff" stroke="#ffffff" stroke-width="0.12">40.67</text>
<text x="504.01" y="298.03" font-size="5.25" text-anchor="middle" font-weight="bold" fill="#ffffff" stroke="#ffffff" stroke-width="0.12">92.22</text>
<text x="523.23" y="298.03" font-size="5.25" text-anchor="middle" font-weight="bold" fill="#ffffff" stroke="#ffffff" stroke-width="0.12">30.67</text>
<text x="542.45" y="298.03" font-size="5.25" text-anchor="middle" font-weight="bold" fill="#ffffff" stroke="#ffffff" stroke-width="0.12">0.33</text>
<text x="561.67" y="298.03" font-size="5.25" text-anchor="middle" font-weight="bold" fill="#ffffff" stroke="#ffffff" stroke-width="0.12">14.67</text>
<text x="580.89" y="298.03" font-size="5.25" text-anchor="middle" font-weight="bold" fill="#ffffff" stroke="#ffffff" stroke-width="0.12">83.89</text>
<text x="600.11" y="298.03" font-size="5.25" text-anchor="middle" font-weight="bold" fill="#ffffff" stroke="#ffffff" stroke-width="0.12">2.22</text>
<text x="619.33" y="298.03" font-size="5.25" text-anchor="middle" font-weight="bold" fill="#ffffff" stroke="#ffffff" stroke-width="0.12">98.33</text>
<text x="638.55" y="298.03" font-size="5.25" text-anchor="middle" font-weight="bold" fill="#ffffff" stroke="#ffffff" stroke-width="0.12">0.91</text>
<text x="407.91" y="331.45" font-size="5.25" text-anchor="middle" font-weight="bold" fill="#ffffff" stroke="#ffffff" stroke-width="0.12">18.78</text>
<text x="427.13" y="331.45" font-size="5.25" text-anchor="middle" font-weight="bold" fill="#ffffff" stroke="#ffffff" stroke-width="0.12">14.67</text>
<text x="446.35" y="331.45" font-size="5.25" text-anchor="middle" font-weight="bold" fill="#ffffff" stroke="#ffffff" stroke-width="0.12">15.00</text>
<text x="465.57" y="331.45" font-size="5.25" text-anchor="middle" font-weight="bold" fill="#ffffff" stroke="#ffffff" stroke-width="0.12">0.11</text>
<text x="484.79" y="331.45" font-size="5.25" text-anchor="middle" font-weight="bold" fill="#ffffff" stroke="#ffffff" stroke-width="0.12">0.44</text>
<text x="504.01" y="331.45" font-size="5.25" text-anchor="middle" font-weight="bold" fill="#ffffff" stroke="#ffffff" stroke-width="0.12">15.11</text>
<text x="523.23" y="331.45" font-size="5.25" text-anchor="middle" font-weight="bold" fill="#ffffff" stroke="#ffffff" stroke-width="0.12">0.06</text>
<text x="542.45" y="331.45" font-size="5.25" text-anchor="middle" font-weight="bold" fill="#ffffff" stroke="#ffffff" stroke-width="0.12">0.00</text>
<text x="561.67" y="331.45" font-size="5.25" text-anchor="middle" font-weight="bold" fill="#ffffff" stroke="#ffffff" stroke-width="0.12">0.00</text>
<text x="580.89" y="331.45" font-size="5.25" text-anchor="middle" font-weight="bold" fill="#ffffff" stroke="#ffffff" stroke-width="0.12">8.78</text>
<text x="600.11" y="331.45" font-size="5.25" text-anchor="middle" font-weight="bold" fill="#ffffff" stroke="#ffffff" stroke-width="0.12">0.00</text>
<text x="619.33" y="331.45" font-size="5.25" text-anchor="middle" font-weight="bold" fill="#ffffff" stroke="#ffffff" stroke-width="0.12">99.00</text>
<text x="638.55" y="331.45" font-size="5.25" text-anchor="middle" font-weight="bold" fill="#ffffff" stroke="#ffffff" stroke-width="0.12">0.77</text>
<text x="407.91" y="364.87" font-size="5.25" text-anchor="middle" font-weight="bold" fill="#ffffff" stroke="#ffffff" stroke-width="0.12">1.01</text>
<text x="427.13" y="364.87" font-size="5.25" text-anchor="middle" font-weight="bold" fill="#ffffff" stroke="#ffffff" stroke-width="0.12">1.33</text>
<text x="446.35" y="364.87" font-size="5.25" text-anchor="middle" font-weight="bold" fill="#ffffff" stroke="#ffffff" stroke-width="0.12">2.33</text>
<text x="465.57" y="364.87" font-size="5.25" text-anchor="middle" font-weight="bold" fill="#ffffff" stroke="#ffffff" stroke-width="0.12">0.00</text>
<text x="484.79" y="364.87" font-size="5.25" text-anchor="middle" font-weight="bold" fill="#ffffff" stroke="#ffffff" stroke-width="0.12">0.00</text>
<text x="504.01" y="364.87" font-size="5.25" text-anchor="middle" font-weight="bold" fill="#ffffff" stroke="#ffffff" stroke-width="0.12">2.11</text>
<text x="523.23" y="364.87" font-size="5.25" text-anchor="middle" font-weight="bold" fill="#ffffff" stroke="#ffffff" stroke-width="0.12">0.00</text>
<text x="542.45" y="364.87" font-size="5.25" text-anchor="middle" font-weight="bold" fill="#ffffff" stroke="#ffffff" stroke-width="0.12">0.00</text>
<text x="561.67" y="364.87" font-size="5.25" text-anchor="middle" font-weight="bold" fill="#ffffff" stroke="#ffffff" stroke-width="0.12">0.00</text>
<text x="580.89" y="364.87" font-size="5.25" text-anchor="middle" font-weight="bold" fill="#ffffff" stroke="#ffffff" stroke-width="0.12">0.44</text>
<text x="600.11" y="364.87" font-size="5.25" text-anchor="middle" font-weight="bold" fill="#ffffff" stroke="#ffffff" stroke-width="0.12">0.00</text>
<text x="619.33" y="364.87" font-size="5.25" text-anchor="middle" font-weight="bold" fill="#ffffff" stroke="#ffffff" stroke-width="0.12">99.00</text>
<text x="638.55" y="364.87" font-size="5.25" text-anchor="middle" font-weight="bold" fill="#ffffff" stroke="#ffffff" stroke-width="0.12">0.96</text>
<text x="407.91" y="398.29" font-size="5.25" text-anchor="middle" font-weight="bold" fill="#ffffff" stroke="#ffffff" stroke-width="0.12">0.00</text>
<text x="427.13" y="398.29" font-size="5.25" text-anchor="middle" font-weight="bold" fill="#ffffff" stroke="#ffffff" stroke-width="0.12">0.00</text>
<text x="446.35" y="398.29" font-size="5.25" text-anchor="middle" font-weight="bold" fill="#ffffff" stroke="#ffffff" stroke-width="0.12">0.00</text>
<text x="465.57" y="398.29" font-size="5.25" text-anchor="middle" font-weight="bold" fill="#ffffff" stroke="#ffffff" stroke-width="0.12">0.00</text>
<text x="484.79" y="398.29" font-size="5.25" text-anchor="middle" font-weight="bold" fill="#ffffff" stroke="#ffffff" stroke-width="0.12">0.00</text>
<text x="504.01" y="398.29" font-size="5.25" text-anchor="middle" font-weight="bold" fill="#ffffff" stroke="#ffffff" stroke-width="0.12">0.00</text>
<text x="523.23" y="398.29" font-size="5.25" text-anchor="middle" font-weight="bold" fill="#ffffff" stroke="#ffffff" stroke-width="0.12">0.00</text>
<text x="542.45" y="398.29" font-size="5.25" text-anchor="middle" font-weight="bold" fill="#ffffff" stroke="#ffffff" stroke-width="0.12">0.00</text>
<text x="561.67" y="398.29" font-size="5.25" text-anchor="middle" font-weight="bold" fill="#ffffff" stroke="#ffffff" stroke-width="0.12">0.00</text>
<text x="580.89" y="398.29" font-size="5.25" text-anchor="middle" font-weight="bold" fill="#ffffff" stroke="#ffffff" stroke-width="0.12">0.00</text>
<text x="600.11" y="398.29" font-size="5.25" text-anchor="middle" font-weight="bold" fill="#ffffff" stroke="#ffffff" stroke-width="0.12">0.00</text>
<text x="619.33" y="398.29" font-size="5.25" text-anchor="middle" font-weight="bold" fill="#ffffff" stroke="#ffffff" stroke-width="0.12">98.67</text>
<text x="638.55" y="398.29" font-size="5.25" text-anchor="middle" font-weight="bold" fill="#ffffff" stroke="#ffffff" stroke-width="0.12">0.83</text>
<rect x="398.30" y="246.10" width="249.86" height="167.10" fill="none" stroke="#333" stroke-width="0.8"/>
<line x1="395.90" y1="262.81" x2="398.30" y2="262.81" stroke="#222" stroke-width="0.70"/>
<text x="394.70" y="265.11" font-size="6.40" text-anchor="end" font-weight="bold" fill="#000" stroke="#000" stroke-width="0.12">1.6</text>
<line x1="395.90" y1="296.23" x2="398.30" y2="296.23" stroke="#222" stroke-width="0.70"/>
<text x="394.70" y="298.53" font-size="6.40" text-anchor="end" font-weight="bold" fill="#000" stroke="#000" stroke-width="0.12">0.8</text>
<line x1="395.90" y1="329.65" x2="398.30" y2="329.65" stroke="#222" stroke-width="0.70"/>
<text x="394.70" y="331.95" font-size="6.40" text-anchor="end" font-weight="bold" fill="#000" stroke="#000" stroke-width="0.12">0.4</text>
<line x1="395.90" y1="363.07" x2="398.30" y2="363.07" stroke="#222" stroke-width="0.70"/>
<text x="394.70" y="365.37" font-size="6.40" text-anchor="end" font-weight="bold" fill="#000" stroke="#000" stroke-width="0.12">0.2</text>
<line x1="395.90" y1="396.49" x2="398.30" y2="396.49" stroke="#222" stroke-width="0.70"/>
<text x="394.70" y="398.79" font-size="6.40" text-anchor="end" font-weight="bold" fill="#000" stroke="#000" stroke-width="0.12">0.1</text>
<line x1="407.91" y1="413.20" x2="407.91" y2="415.60" stroke="#222" stroke-width="0.70"/>
<text transform="translate(408.31,421.80) rotate(-45)" font-size="6.60" text-anchor="end" font-weight="bold" fill="#000" stroke="#000" stroke-width="0.12">VmCT1</text>
<line x1="427.13" y1="413.20" x2="427.13" y2="415.60" stroke="#222" stroke-width="0.70"/>
<text transform="translate(427.53,421.80) rotate(-45)" font-size="6.60" text-anchor="end" font-weight="bold" fill="#000" stroke="#000" stroke-width="0.12">Anoplin</text>
<line x1="446.35" y1="413.20" x2="446.35" y2="415.60" stroke="#222" stroke-width="0.70"/>
<text transform="translate(446.75,421.80) rotate(-45)" font-size="6.60" text-anchor="end" font-weight="bold" fill="#000" stroke="#000" stroke-width="0.12">AV</text>
<line x1="465.57" y1="413.20" x2="465.57" y2="415.60" stroke="#222" stroke-width="0.70"/>
<text transform="translate(465.97,421.80) rotate(-45)" font-size="6.60" text-anchor="end" font-weight="bold" fill="#000" stroke="#000" stroke-width="0.12">Protonectin</text>
<line x1="484.79" y1="413.20" x2="484.79" y2="415.60" stroke="#222" stroke-width="0.70"/>
<text transform="translate(485.19,421.80) rotate(-45)" font-size="6.60" text-anchor="end" font-weight="bold" fill="#000" stroke="#000" stroke-width="0.12">PV</text>
<line x1="504.01" y1="413.20" x2="504.01" y2="415.60" stroke="#222" stroke-width="0.70"/>
<text transform="translate(504.41,421.80) rotate(-45)" font-size="6.60" text-anchor="end" font-weight="bold" fill="#000" stroke="#000" stroke-width="0.12">VP</text>
<line x1="523.23" y1="413.20" x2="523.23" y2="415.60" stroke="#222" stroke-width="0.70"/>
<text transform="translate(523.63,421.80) rotate(-45)" font-size="6.60" text-anchor="end" font-weight="bold" fill="#000" stroke="#000" stroke-width="0.12">DV</text>
<line x1="542.45" y1="413.20" x2="542.45" y2="415.60" stroke="#222" stroke-width="0.70"/>
<text transform="translate(542.85,421.80) rotate(-45)" font-size="6.60" text-anchor="end" font-weight="bold" fill="#000" stroke="#000" stroke-width="0.12">VD</text>
<line x1="561.67" y1="413.20" x2="561.67" y2="415.60" stroke="#222" stroke-width="0.70"/>
<text transform="translate(562.07,421.80) rotate(-45)" font-size="6.60" text-anchor="end" font-weight="bold" fill="#000" stroke="#000" stroke-width="0.12">Temporin A</text>
<line x1="580.89" y1="413.20" x2="580.89" y2="415.60" stroke="#222" stroke-width="0.70"/>
<text transform="translate(581.29,421.80) rotate(-45)" font-size="6.60" text-anchor="end" font-weight="bold" fill="#000" stroke="#000" stroke-width="0.12">TV</text>
<line x1="600.11" y1="413.20" x2="600.11" y2="415.60" stroke="#222" stroke-width="0.70"/>
<text transform="translate(600.51,421.80) rotate(-45)" font-size="6.60" text-anchor="end" font-weight="bold" fill="#000" stroke="#000" stroke-width="0.12">VT</text>
<line x1="619.33" y1="413.20" x2="619.33" y2="415.60" stroke="#222" stroke-width="0.70"/>
<text transform="translate(619.73,421.80) rotate(-45)" font-size="6.60" text-anchor="end" font-weight="bold" fill="#000" stroke="#000" stroke-width="0.12">Positive Control</text>
<line x1="638.55" y1="413.20" x2="638.55" y2="415.60" stroke="#222" stroke-width="0.70"/>
<text transform="translate(638.95,421.80) rotate(-45)" font-size="6.60" text-anchor="end" font-weight="bold" fill="#000" stroke="#000" stroke-width="0.12">Negative Control</text>
<defs><linearGradient id="gd" x1="0" y1="1" x2="0" y2="0"><stop offset="0" stop-color="#0c4c8e"/><stop offset="0.5" stop-color="#d8e2ee"/><stop offset="1" stop-color="#940e08"/></linearGradient></defs>
<rect x="656.20" y="246.30" width="7.80" height="167.30" fill="url(#gd)" stroke="#444" stroke-width="0.6"/>
<line x1="662.50" y1="413.60" x2="664.20" y2="413.60" stroke="#222" stroke-width="0.70"/>
<text x="666.50" y="415.90" font-size="6.60" text-anchor="start" font-weight="bold" fill="#000" stroke="#000" stroke-width="0.12">0</text>
<line x1="662.50" y1="371.78" x2="664.20" y2="371.78" stroke="#222" stroke-width="0.70"/>
<text x="666.50" y="374.08" font-size="6.60" text-anchor="start" font-weight="bold" fill="#000" stroke="#000" stroke-width="0.12">25</text>
<line x1="662.50" y1="329.95" x2="664.20" y2="329.95" stroke="#222" stroke-width="0.70"/>
<text x="666.50" y="332.25" font-size="6.60" text-anchor="start" font-weight="bold" fill="#000" stroke="#000" stroke-width="0.12">50</text>
<line x1="662.50" y1="288.12" x2="664.20" y2="288.12" stroke="#222" stroke-width="0.70"/>
<text x="666.50" y="290.43" font-size="6.60" text-anchor="start" font-weight="bold" fill="#000" stroke="#000" stroke-width="0.12">75</text>
<line x1="662.50" y1="246.30" x2="664.20" y2="246.30" stroke="#222" stroke-width="0.70"/>
<text x="666.50" y="248.60" font-size="6.60" text-anchor="start" font-weight="bold" fill="#000" stroke="#000" stroke-width="0.12">100</text>
<text transform="translate(679.20,325.30) rotate(90)" font-size="6.83" text-anchor="middle" font-weight="bold" fill="#000" stroke="#000" stroke-width="0.12">Fluorescent Sporozoites (%)</text>
<text transform="translate(381.00,329.75) rotate(-90)" font-size="6.84" text-anchor="middle" font-weight="bold" fill="#000" stroke="#000" stroke-width="0.12">Peptide Concentration (&#956;mol L<tspan dy="-2.4" font-size="75%">-1</tspan><tspan dy="2.4">)</tspan></text>
<text x="365.70" y="256.60" font-size="14.00" text-anchor="start" font-weight="bold" fill="#000" stroke="#000" stroke-width="0.12">d</text>
<rect x="393.90" y="468.50" width="223.60" height="223.50" fill="#fff" stroke="#8a8a8a" stroke-width="0.9"/>
<line x1="393.90" y1="692.00" x2="617.50" y2="692.00" stroke="#aaa" stroke-width="1.60"/>
<line x1="393.90" y1="583.20" x2="617.50" y2="583.20" stroke="#d0d0d0" stroke-width="0.60"/>
<line x1="394.90" y1="583.20" x2="617.50" y2="583.20" stroke="#999999" stroke-width="0.60" stroke-dasharray="5.5,3"/>
<line x1="393.90" y1="635.30" x2="617.50" y2="635.30" stroke="#d0d0d0" stroke-width="0.60"/>
<line x1="394.90" y1="635.30" x2="617.50" y2="635.30" stroke="#999999" stroke-width="0.60" stroke-dasharray="5.5,3"/>
<line x1="393.90" y1="677.40" x2="617.50" y2="677.40" stroke="#999" stroke-width="0.70"/>
<line x1="391.70" y1="687.40" x2="393.90" y2="687.40" stroke="#222" stroke-width="0.60"/>
<text x="390.90" y="689.50" font-size="6.10" text-anchor="end" font-weight="bold" fill="#000" stroke="#000" stroke-width="0.12">0</text>
<line x1="391.70" y1="635.30" x2="393.90" y2="635.30" stroke="#222" stroke-width="0.60"/>
<text x="390.90" y="637.40" font-size="6.10" text-anchor="end" font-weight="bold" fill="#000" stroke="#000" stroke-width="0.12">25</text>
<line x1="391.70" y1="583.20" x2="393.90" y2="583.20" stroke="#222" stroke-width="0.60"/>
<text x="390.90" y="585.30" font-size="6.10" text-anchor="end" font-weight="bold" fill="#000" stroke="#000" stroke-width="0.12">50</text>
<line x1="391.70" y1="531.10" x2="393.90" y2="531.10" stroke="#222" stroke-width="0.60"/>
<text x="390.90" y="533.20" font-size="6.10" text-anchor="end" font-weight="bold" fill="#000" stroke="#000" stroke-width="0.12">75</text>
<line x1="391.70" y1="479.00" x2="393.90" y2="479.00" stroke="#222" stroke-width="0.60"/>
<text x="390.90" y="481.10" font-size="6.10" text-anchor="end" font-weight="bold" fill="#000" stroke="#000" stroke-width="0.12">100</text>
<line x1="397.30" y1="692.00" x2="397.30" y2="694.00" stroke="#222" stroke-width="0.60"/>
<text x="397.30" y="700.80" font-size="6.00" text-anchor="middle" font-weight="bold" fill="#000" stroke="#000" stroke-width="0.12">0.1</text>
<line x1="469.50" y1="692.00" x2="469.50" y2="694.00" stroke="#222" stroke-width="0.60"/>
<text x="469.50" y="700.80" font-size="6.00" text-anchor="middle" font-weight="bold" fill="#000" stroke="#000" stroke-width="0.12">1</text>
<line x1="541.70" y1="692.00" x2="541.70" y2="694.00" stroke="#222" stroke-width="0.60"/>
<text x="541.70" y="700.80" font-size="6.00" text-anchor="middle" font-weight="bold" fill="#000" stroke="#000" stroke-width="0.12">10</text>
<line x1="613.90" y1="692.00" x2="613.90" y2="694.00" stroke="#222" stroke-width="0.60"/>
<text x="613.90" y="700.80" font-size="6.00" text-anchor="middle" font-weight="bold" fill="#000" stroke="#000" stroke-width="0.12">100</text>
<text x="505.15" y="710.00" font-size="6.14" text-anchor="middle" font-weight="bold" fill="#000" stroke="#000" stroke-width="0.12">Peptide Concentration (&#956;mol L<tspan dy="-1.8" font-size="75%">-1</tspan><tspan dy="1.8">)</tspan></text>
<text transform="translate(378.00,579.20) rotate(-90)" font-size="6.17" text-anchor="middle" font-weight="bold" fill="#000" stroke="#000" stroke-width="0.12">Hemolytic Activity (%)</text>
<text x="361.40" y="480.20" font-size="14.00" text-anchor="start" font-weight="bold" fill="#000" stroke="#000" stroke-width="0.12">f</text>
<g clip-path="url(#fclip)">
<line x1="397.30" y1="616.54" x2="397.30" y2="685.32" stroke="#fdd6a6" stroke-width="0.60"/>
<line x1="396.00" y1="616.54" x2="398.60" y2="616.54" stroke="#fdd6a6" stroke-width="0.60"/>
<line x1="396.00" y1="685.32" x2="398.60" y2="685.32" stroke="#fdd6a6" stroke-width="0.60"/>
<line x1="419.03" y1="634.26" x2="419.03" y2="665.52" stroke="#fdd6a6" stroke-width="0.60"/>
<line x1="417.73" y1="634.26" x2="420.33" y2="634.26" stroke="#fdd6a6" stroke-width="0.60"/>
<line x1="417.73" y1="665.52" x2="420.33" y2="665.52" stroke="#fdd6a6" stroke-width="0.60"/>
<line x1="440.77" y1="645.72" x2="440.77" y2="672.81" stroke="#fdd6a6" stroke-width="0.60"/>
<line x1="439.47" y1="645.72" x2="442.07" y2="645.72" stroke="#fdd6a6" stroke-width="0.60"/>
<line x1="439.47" y1="672.81" x2="442.07" y2="672.81" stroke="#fdd6a6" stroke-width="0.60"/>
<line x1="462.50" y1="649.89" x2="462.50" y2="674.90" stroke="#fdd6a6" stroke-width="0.60"/>
<line x1="461.20" y1="649.89" x2="463.80" y2="649.89" stroke="#fdd6a6" stroke-width="0.60"/>
<line x1="461.20" y1="674.90" x2="463.80" y2="674.90" stroke="#fdd6a6" stroke-width="0.60"/>
<line x1="484.24" y1="654.47" x2="484.24" y2="666.98" stroke="#fdd6a6" stroke-width="0.60"/>
<line x1="482.94" y1="654.47" x2="485.54" y2="654.47" stroke="#fdd6a6" stroke-width="0.60"/>
<line x1="482.94" y1="666.98" x2="485.54" y2="666.98" stroke="#fdd6a6" stroke-width="0.60"/>
<line x1="505.23" y1="654.06" x2="505.23" y2="662.39" stroke="#fdd6a6" stroke-width="0.60"/>
<line x1="503.93" y1="654.06" x2="506.53" y2="654.06" stroke="#fdd6a6" stroke-width="0.60"/>
<line x1="503.93" y1="662.39" x2="506.53" y2="662.39" stroke="#fdd6a6" stroke-width="0.60"/>
<line x1="526.96" y1="662.60" x2="526.96" y2="668.85" stroke="#fdd6a6" stroke-width="0.60"/>
<line x1="525.66" y1="662.60" x2="528.26" y2="662.60" stroke="#fdd6a6" stroke-width="0.60"/>
<line x1="525.66" y1="668.85" x2="528.26" y2="668.85" stroke="#fdd6a6" stroke-width="0.60"/>
<line x1="548.70" y1="661.56" x2="548.70" y2="669.89" stroke="#fdd6a6" stroke-width="0.60"/>
<line x1="547.40" y1="661.56" x2="550.00" y2="661.56" stroke="#fdd6a6" stroke-width="0.60"/>
<line x1="547.40" y1="669.89" x2="550.00" y2="669.89" stroke="#fdd6a6" stroke-width="0.60"/>
<line x1="570.43" y1="653.43" x2="570.43" y2="670.10" stroke="#fdd6a6" stroke-width="0.60"/>
<line x1="569.13" y1="653.43" x2="571.73" y2="653.43" stroke="#fdd6a6" stroke-width="0.60"/>
<line x1="569.13" y1="670.10" x2="571.73" y2="670.10" stroke="#fdd6a6" stroke-width="0.60"/>
<line x1="592.17" y1="631.13" x2="592.17" y2="656.14" stroke="#fdd6a6" stroke-width="0.60"/>
<line x1="590.87" y1="631.13" x2="593.47" y2="631.13" stroke="#fdd6a6" stroke-width="0.60"/>
<line x1="590.87" y1="656.14" x2="593.47" y2="656.14" stroke="#fdd6a6" stroke-width="0.60"/>
<line x1="613.90" y1="622.59" x2="613.90" y2="647.60" stroke="#fdd6a6" stroke-width="0.60"/>
<line x1="612.60" y1="622.59" x2="615.20" y2="622.59" stroke="#fdd6a6" stroke-width="0.60"/>
<line x1="612.60" y1="647.60" x2="615.20" y2="647.60" stroke="#fdd6a6" stroke-width="0.60"/>
<polyline points="397.30,650.93 419.03,649.89 440.77,659.27 462.50,662.39 484.24,660.72 505.23,658.22 526.96,665.73 548.70,665.73 570.43,661.77 592.17,643.64 613.90,635.09" fill="none" stroke="#fdd6a6" stroke-width="0.75"/>
<circle cx="397.30" cy="650.93" r="1.6" fill="#fdd6a6"/>
<circle cx="419.03" cy="649.89" r="1.6" fill="#fdd6a6"/>
<circle cx="440.77" cy="659.27" r="1.6" fill="#fdd6a6"/>
<circle cx="462.50" cy="662.39" r="1.6" fill="#fdd6a6"/>
<circle cx="484.24" cy="660.72" r="1.6" fill="#fdd6a6"/>
<circle cx="505.23" cy="658.22" r="1.6" fill="#fdd6a6"/>
<circle cx="526.96" cy="665.73" r="1.6" fill="#fdd6a6"/>
<circle cx="548.70" cy="665.73" r="1.6" fill="#fdd6a6"/>
<circle cx="570.43" cy="661.77" r="1.6" fill="#fdd6a6"/>
<circle cx="592.17" cy="643.64" r="1.6" fill="#fdd6a6"/>
<circle cx="613.90" cy="635.09" r="1.6" fill="#fdd6a6"/>
<polyline points="397.30,685.32 419.03,685.32 440.77,684.27 462.50,684.27 484.24,684.27 505.23,684.27 526.96,684.27 548.70,685.32 570.43,685.32 592.17,686.36 613.90,686.36" fill="none" stroke="#d6d6ee" stroke-width="0.75"/>
<circle cx="397.30" cy="685.32" r="1.6" fill="#d6d6ee"/>
<circle cx="419.03" cy="685.32" r="1.6" fill="#d6d6ee"/>
<circle cx="440.77" cy="684.27" r="1.6" fill="#d6d6ee"/>
<circle cx="462.50" cy="684.27" r="1.6" fill="#d6d6ee"/>
<circle cx="484.24" cy="684.27" r="1.6" fill="#d6d6ee"/>
<circle cx="505.23" cy="684.27" r="1.6" fill="#d6d6ee"/>
<circle cx="526.96" cy="684.27" r="1.6" fill="#d6d6ee"/>
<circle cx="548.70" cy="685.32" r="1.6" fill="#d6d6ee"/>
<circle cx="570.43" cy="685.32" r="1.6" fill="#d6d6ee"/>
<circle cx="592.17" cy="686.36" r="1.6" fill="#d6d6ee"/>
<circle cx="613.90" cy="686.36" r="1.6" fill="#d6d6ee"/>
<line x1="397.30" y1="685.32" x2="397.30" y2="689.48" stroke="#f2a145" stroke-width="0.60"/>
<line x1="396.00" y1="685.32" x2="398.60" y2="685.32" stroke="#f2a145" stroke-width="0.60"/>
<line x1="396.00" y1="689.48" x2="398.60" y2="689.48" stroke="#f2a145" stroke-width="0.60"/>
<line x1="419.03" y1="684.27" x2="419.03" y2="688.44" stroke="#f2a145" stroke-width="0.60"/>
<line x1="417.73" y1="684.27" x2="420.33" y2="684.27" stroke="#f2a145" stroke-width="0.60"/>
<line x1="417.73" y1="688.44" x2="420.33" y2="688.44" stroke="#f2a145" stroke-width="0.60"/>
<line x1="440.77" y1="672.81" x2="440.77" y2="681.15" stroke="#f2a145" stroke-width="0.60"/>
<line x1="439.47" y1="672.81" x2="442.07" y2="672.81" stroke="#f2a145" stroke-width="0.60"/>
<line x1="439.47" y1="681.15" x2="442.07" y2="681.15" stroke="#f2a145" stroke-width="0.60"/>
<line x1="462.50" y1="672.81" x2="462.50" y2="681.15" stroke="#f2a145" stroke-width="0.60"/>
<line x1="461.20" y1="672.81" x2="463.80" y2="672.81" stroke="#f2a145" stroke-width="0.60"/>
<line x1="461.20" y1="681.15" x2="463.80" y2="681.15" stroke="#f2a145" stroke-width="0.60"/>
<line x1="484.24" y1="676.98" x2="484.24" y2="685.32" stroke="#f2a145" stroke-width="0.60"/>
<line x1="482.94" y1="676.98" x2="485.54" y2="676.98" stroke="#f2a145" stroke-width="0.60"/>
<line x1="482.94" y1="685.32" x2="485.54" y2="685.32" stroke="#f2a145" stroke-width="0.60"/>
<line x1="505.23" y1="675.94" x2="505.23" y2="684.27" stroke="#f2a145" stroke-width="0.60"/>
<line x1="503.93" y1="675.94" x2="506.53" y2="675.94" stroke="#f2a145" stroke-width="0.60"/>
<line x1="503.93" y1="684.27" x2="506.53" y2="684.27" stroke="#f2a145" stroke-width="0.60"/>
<line x1="526.96" y1="674.90" x2="526.96" y2="683.23" stroke="#f2a145" stroke-width="0.60"/>
<line x1="525.66" y1="674.90" x2="528.26" y2="674.90" stroke="#f2a145" stroke-width="0.60"/>
<line x1="525.66" y1="683.23" x2="528.26" y2="683.23" stroke="#f2a145" stroke-width="0.60"/>
<line x1="548.70" y1="674.90" x2="548.70" y2="683.23" stroke="#f2a145" stroke-width="0.60"/>
<line x1="547.40" y1="674.90" x2="550.00" y2="674.90" stroke="#f2a145" stroke-width="0.60"/>
<line x1="547.40" y1="683.23" x2="550.00" y2="683.23" stroke="#f2a145" stroke-width="0.60"/>
<line x1="570.43" y1="674.90" x2="570.43" y2="683.23" stroke="#f2a145" stroke-width="0.60"/>
<line x1="569.13" y1="674.90" x2="571.73" y2="674.90" stroke="#f2a145" stroke-width="0.60"/>
<line x1="569.13" y1="683.23" x2="571.73" y2="683.23" stroke="#f2a145" stroke-width="0.60"/>
<line x1="592.17" y1="658.22" x2="592.17" y2="674.90" stroke="#f2a145" stroke-width="0.60"/>
<line x1="590.87" y1="658.22" x2="593.47" y2="658.22" stroke="#f2a145" stroke-width="0.60"/>
<line x1="590.87" y1="674.90" x2="593.47" y2="674.90" stroke="#f2a145" stroke-width="0.60"/>
<line x1="613.90" y1="651.56" x2="613.90" y2="668.23" stroke="#f2a145" stroke-width="0.60"/>
<line x1="612.60" y1="651.56" x2="615.20" y2="651.56" stroke="#f2a145" stroke-width="0.60"/>
<line x1="612.60" y1="668.23" x2="615.20" y2="668.23" stroke="#f2a145" stroke-width="0.60"/>
<polyline points="397.30,687.40 419.03,686.36 440.77,676.98 462.50,676.98 484.24,681.15 505.23,680.11 526.96,679.06 548.70,679.06 570.43,679.06 592.17,666.56 613.90,659.89" fill="none" stroke="#f2a145" stroke-width="0.75"/>
<circle cx="397.30" cy="687.40" r="1.6" fill="#f2a145"/>
<circle cx="419.03" cy="686.36" r="1.6" fill="#f2a145"/>
<circle cx="440.77" cy="676.98" r="1.6" fill="#f2a145"/>
<circle cx="462.50" cy="676.98" r="1.6" fill="#f2a145"/>
<circle cx="484.24" cy="681.15" r="1.6" fill="#f2a145"/>
<circle cx="505.23" cy="680.11" r="1.6" fill="#f2a145"/>
<circle cx="526.96" cy="679.06" r="1.6" fill="#f2a145"/>
<circle cx="548.70" cy="679.06" r="1.6" fill="#f2a145"/>
<circle cx="570.43" cy="679.06" r="1.6" fill="#f2a145"/>
<circle cx="592.17" cy="666.56" r="1.6" fill="#f2a145"/>
<circle cx="613.90" cy="659.89" r="1.6" fill="#f2a145"/>
<line x1="592.17" y1="629.26" x2="592.17" y2="658.43" stroke="#f4835a" stroke-width="0.60"/>
<line x1="590.87" y1="629.26" x2="593.47" y2="629.26" stroke="#f4835a" stroke-width="0.60"/>
<line x1="590.87" y1="658.43" x2="593.47" y2="658.43" stroke="#f4835a" stroke-width="0.60"/>
<line x1="613.90" y1="608.83" x2="613.90" y2="633.84" stroke="#f4835a" stroke-width="0.60"/>
<line x1="612.60" y1="608.83" x2="615.20" y2="608.83" stroke="#f4835a" stroke-width="0.60"/>
<line x1="612.60" y1="633.84" x2="615.20" y2="633.84" stroke="#f4835a" stroke-width="0.60"/>
<polyline points="397.30,687.40 419.03,687.40 440.77,687.40 462.50,687.40 484.24,687.40 505.23,686.36 526.96,686.36 548.70,687.40 570.43,686.36 592.17,643.84 613.90,621.34" fill="none" stroke="#f4835a" stroke-width="0.75"/>
<circle cx="397.30" cy="687.40" r="1.6" fill="#f4835a"/>
<circle cx="419.03" cy="687.40" r="1.6" fill="#f4835a"/>
<circle cx="440.77" cy="687.40" r="1.6" fill="#f4835a"/>
<circle cx="462.50" cy="687.40" r="1.6" fill="#f4835a"/>
<circle cx="484.24" cy="687.40" r="1.6" fill="#f4835a"/>
<circle cx="505.23" cy="686.36" r="1.6" fill="#f4835a"/>
<circle cx="526.96" cy="686.36" r="1.6" fill="#f4835a"/>
<circle cx="548.70" cy="687.40" r="1.6" fill="#f4835a"/>
<circle cx="570.43" cy="686.36" r="1.6" fill="#f4835a"/>
<circle cx="592.17" cy="643.84" r="1.6" fill="#f4835a"/>
<circle cx="613.90" cy="621.34" r="1.6" fill="#f4835a"/>
<polyline points="397.30,688.44 419.03,688.44 440.77,688.44 462.50,688.44 484.24,688.44 505.23,688.44 526.96,688.44 548.70,687.40 570.43,687.40 592.17,686.36 613.90,685.32" fill="none" stroke="#fdd58a" stroke-width="0.75"/>
<circle cx="397.30" cy="688.44" r="1.6" fill="#fdd58a"/>
<circle cx="419.03" cy="688.44" r="1.6" fill="#fdd58a"/>
<circle cx="440.77" cy="688.44" r="1.6" fill="#fdd58a"/>
<circle cx="462.50" cy="688.44" r="1.6" fill="#fdd58a"/>
<circle cx="484.24" cy="688.44" r="1.6" fill="#fdd58a"/>
<circle cx="505.23" cy="688.44" r="1.6" fill="#fdd58a"/>
<circle cx="526.96" cy="688.44" r="1.6" fill="#fdd58a"/>
<circle cx="548.70" cy="687.40" r="1.6" fill="#fdd58a"/>
<circle cx="570.43" cy="687.40" r="1.6" fill="#fdd58a"/>
<circle cx="592.17" cy="686.36" r="1.6" fill="#fdd58a"/>
<circle cx="613.90" cy="685.32" r="1.6" fill="#fdd58a"/>
<polyline points="397.30,686.36 419.03,686.36 440.77,686.36 462.50,686.36 484.24,685.32 505.23,684.27 526.96,685.32 548.70,685.32 570.43,685.32 592.17,687.40 613.90,687.40" fill="none" stroke="#8ec4e8" stroke-width="0.75"/>
<circle cx="397.30" cy="686.36" r="1.6" fill="#8ec4e8"/>
<circle cx="419.03" cy="686.36" r="1.6" fill="#8ec4e8"/>
<circle cx="440.77" cy="686.36" r="1.6" fill="#8ec4e8"/>
<circle cx="462.50" cy="686.36" r="1.6" fill="#8ec4e8"/>
<circle cx="484.24" cy="685.32" r="1.6" fill="#8ec4e8"/>
<circle cx="505.23" cy="684.27" r="1.6" fill="#8ec4e8"/>
<circle cx="526.96" cy="685.32" r="1.6" fill="#8ec4e8"/>
<circle cx="548.70" cy="685.32" r="1.6" fill="#8ec4e8"/>
<circle cx="570.43" cy="685.32" r="1.6" fill="#8ec4e8"/>
<circle cx="592.17" cy="687.40" r="1.6" fill="#8ec4e8"/>
<circle cx="613.90" cy="687.40" r="1.6" fill="#8ec4e8"/>
<line x1="397.30" y1="684.27" x2="397.30" y2="688.44" stroke="#b35812" stroke-width="0.60"/>
<line x1="396.00" y1="684.27" x2="398.60" y2="684.27" stroke="#b35812" stroke-width="0.60"/>
<line x1="396.00" y1="688.44" x2="398.60" y2="688.44" stroke="#b35812" stroke-width="0.60"/>
<line x1="419.03" y1="682.19" x2="419.03" y2="686.36" stroke="#b35812" stroke-width="0.60"/>
<line x1="417.73" y1="682.19" x2="420.33" y2="682.19" stroke="#b35812" stroke-width="0.60"/>
<line x1="417.73" y1="686.36" x2="420.33" y2="686.36" stroke="#b35812" stroke-width="0.60"/>
<line x1="440.77" y1="663.43" x2="440.77" y2="686.36" stroke="#b35812" stroke-width="0.60"/>
<line x1="439.47" y1="663.43" x2="442.07" y2="663.43" stroke="#b35812" stroke-width="0.60"/>
<line x1="439.47" y1="686.36" x2="442.07" y2="686.36" stroke="#b35812" stroke-width="0.60"/>
<line x1="462.50" y1="664.48" x2="462.50" y2="685.32" stroke="#b35812" stroke-width="0.60"/>
<line x1="461.20" y1="664.48" x2="463.80" y2="664.48" stroke="#b35812" stroke-width="0.60"/>
<line x1="461.20" y1="685.32" x2="463.80" y2="685.32" stroke="#b35812" stroke-width="0.60"/>
<line x1="484.24" y1="671.77" x2="484.24" y2="684.27" stroke="#b35812" stroke-width="0.60"/>
<line x1="482.94" y1="671.77" x2="485.54" y2="671.77" stroke="#b35812" stroke-width="0.60"/>
<line x1="482.94" y1="684.27" x2="485.54" y2="684.27" stroke="#b35812" stroke-width="0.60"/>
<line x1="505.23" y1="674.90" x2="505.23" y2="683.23" stroke="#b35812" stroke-width="0.60"/>
<line x1="503.93" y1="674.90" x2="506.53" y2="674.90" stroke="#b35812" stroke-width="0.60"/>
<line x1="503.93" y1="683.23" x2="506.53" y2="683.23" stroke="#b35812" stroke-width="0.60"/>
<line x1="526.96" y1="672.81" x2="526.96" y2="681.15" stroke="#b35812" stroke-width="0.60"/>
<line x1="525.66" y1="672.81" x2="528.26" y2="672.81" stroke="#b35812" stroke-width="0.60"/>
<line x1="525.66" y1="681.15" x2="528.26" y2="681.15" stroke="#b35812" stroke-width="0.60"/>
<line x1="548.70" y1="673.85" x2="548.70" y2="682.19" stroke="#b35812" stroke-width="0.60"/>
<line x1="547.40" y1="673.85" x2="550.00" y2="673.85" stroke="#b35812" stroke-width="0.60"/>
<line x1="547.40" y1="682.19" x2="550.00" y2="682.19" stroke="#b35812" stroke-width="0.60"/>
<line x1="570.43" y1="674.90" x2="570.43" y2="683.23" stroke="#b35812" stroke-width="0.60"/>
<line x1="569.13" y1="674.90" x2="571.73" y2="674.90" stroke="#b35812" stroke-width="0.60"/>
<line x1="569.13" y1="683.23" x2="571.73" y2="683.23" stroke="#b35812" stroke-width="0.60"/>
<line x1="592.17" y1="657.18" x2="592.17" y2="669.69" stroke="#b35812" stroke-width="0.60"/>
<line x1="590.87" y1="657.18" x2="593.47" y2="657.18" stroke="#b35812" stroke-width="0.60"/>
<line x1="590.87" y1="669.69" x2="593.47" y2="669.69" stroke="#b35812" stroke-width="0.60"/>
<line x1="613.90" y1="576.11" x2="613.90" y2="642.80" stroke="#b35812" stroke-width="0.60"/>
<line x1="612.60" y1="576.11" x2="615.20" y2="576.11" stroke="#b35812" stroke-width="0.60"/>
<line x1="612.60" y1="642.80" x2="615.20" y2="642.80" stroke="#b35812" stroke-width="0.60"/>
<polyline points="397.30,686.36 419.03,684.27 440.77,674.90 462.50,674.90 484.24,678.02 505.23,679.06 526.96,676.98 548.70,678.02 570.43,679.06 592.17,663.43 613.90,609.46" fill="none" stroke="#b35812" stroke-width="0.75"/>
<circle cx="397.30" cy="686.36" r="1.6" fill="#b35812"/>
<circle cx="419.03" cy="684.27" r="1.6" fill="#b35812"/>
<circle cx="440.77" cy="674.90" r="1.6" fill="#b35812"/>
<circle cx="462.50" cy="674.90" r="1.6" fill="#b35812"/>
<circle cx="484.24" cy="678.02" r="1.6" fill="#b35812"/>
<circle cx="505.23" cy="679.06" r="1.6" fill="#b35812"/>
<circle cx="526.96" cy="676.98" r="1.6" fill="#b35812"/>
<circle cx="548.70" cy="678.02" r="1.6" fill="#b35812"/>
<circle cx="570.43" cy="679.06" r="1.6" fill="#b35812"/>
<circle cx="592.17" cy="663.43" r="1.6" fill="#b35812"/>
<circle cx="613.90" cy="609.46" r="1.6" fill="#b35812"/>
<line x1="397.30" y1="683.23" x2="397.30" y2="687.40" stroke="#9c8fd2" stroke-width="0.60"/>
<line x1="396.00" y1="683.23" x2="398.60" y2="683.23" stroke="#9c8fd2" stroke-width="0.60"/>
<line x1="396.00" y1="687.40" x2="398.60" y2="687.40" stroke="#9c8fd2" stroke-width="0.60"/>
<line x1="440.77" y1="673.85" x2="440.77" y2="682.19" stroke="#9c8fd2" stroke-width="0.60"/>
<line x1="439.47" y1="673.85" x2="442.07" y2="673.85" stroke="#9c8fd2" stroke-width="0.60"/>
<line x1="439.47" y1="682.19" x2="442.07" y2="682.19" stroke="#9c8fd2" stroke-width="0.60"/>
<line x1="462.50" y1="671.77" x2="462.50" y2="684.27" stroke="#9c8fd2" stroke-width="0.60"/>
<line x1="461.20" y1="671.77" x2="463.80" y2="671.77" stroke="#9c8fd2" stroke-width="0.60"/>
<line x1="461.20" y1="684.27" x2="463.80" y2="684.27" stroke="#9c8fd2" stroke-width="0.60"/>
<line x1="484.24" y1="675.94" x2="484.24" y2="684.27" stroke="#9c8fd2" stroke-width="0.60"/>
<line x1="482.94" y1="675.94" x2="485.54" y2="675.94" stroke="#9c8fd2" stroke-width="0.60"/>
<line x1="482.94" y1="684.27" x2="485.54" y2="684.27" stroke="#9c8fd2" stroke-width="0.60"/>
<line x1="505.23" y1="675.94" x2="505.23" y2="682.19" stroke="#9c8fd2" stroke-width="0.60"/>
<line x1="503.93" y1="675.94" x2="506.53" y2="675.94" stroke="#9c8fd2" stroke-width="0.60"/>
<line x1="503.93" y1="682.19" x2="506.53" y2="682.19" stroke="#9c8fd2" stroke-width="0.60"/>
<line x1="526.96" y1="672.40" x2="526.96" y2="678.65" stroke="#9c8fd2" stroke-width="0.60"/>
<line x1="525.66" y1="672.40" x2="528.26" y2="672.40" stroke="#9c8fd2" stroke-width="0.60"/>
<line x1="525.66" y1="678.65" x2="528.26" y2="678.65" stroke="#9c8fd2" stroke-width="0.60"/>
<line x1="548.70" y1="663.23" x2="548.70" y2="671.56" stroke="#9c8fd2" stroke-width="0.60"/>
<line x1="547.40" y1="663.23" x2="550.00" y2="663.23" stroke="#9c8fd2" stroke-width="0.60"/>
<line x1="547.40" y1="671.56" x2="550.00" y2="671.56" stroke="#9c8fd2" stroke-width="0.60"/>
<line x1="570.43" y1="628.01" x2="570.43" y2="653.01" stroke="#9c8fd2" stroke-width="0.60"/>
<line x1="569.13" y1="628.01" x2="571.73" y2="628.01" stroke="#9c8fd2" stroke-width="0.60"/>
<line x1="569.13" y1="653.01" x2="571.73" y2="653.01" stroke="#9c8fd2" stroke-width="0.60"/>
<line x1="592.17" y1="559.65" x2="592.17" y2="622.17" stroke="#9c8fd2" stroke-width="0.60"/>
<line x1="590.87" y1="559.65" x2="593.47" y2="559.65" stroke="#9c8fd2" stroke-width="0.60"/>
<line x1="590.87" y1="622.17" x2="593.47" y2="622.17" stroke="#9c8fd2" stroke-width="0.60"/>
<line x1="613.90" y1="473.79" x2="613.90" y2="590.49" stroke="#9c8fd2" stroke-width="0.60"/>
<line x1="612.60" y1="473.79" x2="615.20" y2="473.79" stroke="#9c8fd2" stroke-width="0.60"/>
<line x1="612.60" y1="590.49" x2="615.20" y2="590.49" stroke="#9c8fd2" stroke-width="0.60"/>
<polyline points="397.30,685.32 419.03,676.98 440.77,678.02 462.50,678.02 484.24,680.11 505.23,679.06 526.96,675.52 548.70,667.39 570.43,640.51 592.17,590.91 613.90,532.14" fill="none" stroke="#9c8fd2" stroke-width="0.75"/>
<circle cx="397.30" cy="685.32" r="1.6" fill="#9c8fd2"/>
<circle cx="419.03" cy="676.98" r="1.6" fill="#9c8fd2"/>
<circle cx="440.77" cy="678.02" r="1.6" fill="#9c8fd2"/>
<circle cx="462.50" cy="678.02" r="1.6" fill="#9c8fd2"/>
<circle cx="484.24" cy="680.11" r="1.6" fill="#9c8fd2"/>
<circle cx="505.23" cy="679.06" r="1.6" fill="#9c8fd2"/>
<circle cx="526.96" cy="675.52" r="1.6" fill="#9c8fd2"/>
<circle cx="548.70" cy="667.39" r="1.6" fill="#9c8fd2"/>
<circle cx="570.43" cy="640.51" r="1.6" fill="#9c8fd2"/>
<circle cx="592.17" cy="590.91" r="1.6" fill="#9c8fd2"/>
<circle cx="613.90" cy="532.14" r="1.6" fill="#9c8fd2"/>
<line x1="440.77" y1="681.15" x2="440.77" y2="685.32" stroke="#4a7cc2" stroke-width="0.60"/>
<line x1="439.47" y1="681.15" x2="442.07" y2="681.15" stroke="#4a7cc2" stroke-width="0.60"/>
<line x1="439.47" y1="685.32" x2="442.07" y2="685.32" stroke="#4a7cc2" stroke-width="0.60"/>
<line x1="462.50" y1="680.11" x2="462.50" y2="684.27" stroke="#4a7cc2" stroke-width="0.60"/>
<line x1="461.20" y1="680.11" x2="463.80" y2="680.11" stroke="#4a7cc2" stroke-width="0.60"/>
<line x1="461.20" y1="684.27" x2="463.80" y2="684.27" stroke="#4a7cc2" stroke-width="0.60"/>
<line x1="484.24" y1="679.06" x2="484.24" y2="683.23" stroke="#4a7cc2" stroke-width="0.60"/>
<line x1="482.94" y1="679.06" x2="485.54" y2="679.06" stroke="#4a7cc2" stroke-width="0.60"/>
<line x1="482.94" y1="683.23" x2="485.54" y2="683.23" stroke="#4a7cc2" stroke-width="0.60"/>
<line x1="505.23" y1="677.40" x2="505.23" y2="681.56" stroke="#4a7cc2" stroke-width="0.60"/>
<line x1="503.93" y1="677.40" x2="506.53" y2="677.40" stroke="#4a7cc2" stroke-width="0.60"/>
<line x1="503.93" y1="681.56" x2="506.53" y2="681.56" stroke="#4a7cc2" stroke-width="0.60"/>
<line x1="526.96" y1="678.02" x2="526.96" y2="682.19" stroke="#4a7cc2" stroke-width="0.60"/>
<line x1="525.66" y1="678.02" x2="528.26" y2="678.02" stroke="#4a7cc2" stroke-width="0.60"/>
<line x1="525.66" y1="682.19" x2="528.26" y2="682.19" stroke="#4a7cc2" stroke-width="0.60"/>
<line x1="548.70" y1="679.06" x2="548.70" y2="683.23" stroke="#4a7cc2" stroke-width="0.60"/>
<line x1="547.40" y1="679.06" x2="550.00" y2="679.06" stroke="#4a7cc2" stroke-width="0.60"/>
<line x1="547.40" y1="683.23" x2="550.00" y2="683.23" stroke="#4a7cc2" stroke-width="0.60"/>
<line x1="570.43" y1="679.06" x2="570.43" y2="683.23" stroke="#4a7cc2" stroke-width="0.60"/>
<line x1="569.13" y1="679.06" x2="571.73" y2="679.06" stroke="#4a7cc2" stroke-width="0.60"/>
<line x1="569.13" y1="683.23" x2="571.73" y2="683.23" stroke="#4a7cc2" stroke-width="0.60"/>
<line x1="592.17" y1="677.81" x2="592.17" y2="681.98" stroke="#4a7cc2" stroke-width="0.60"/>
<line x1="590.87" y1="677.81" x2="593.47" y2="677.81" stroke="#4a7cc2" stroke-width="0.60"/>
<line x1="590.87" y1="681.98" x2="593.47" y2="681.98" stroke="#4a7cc2" stroke-width="0.60"/>
<line x1="613.90" y1="670.52" x2="613.90" y2="674.69" stroke="#4a7cc2" stroke-width="0.60"/>
<line x1="612.60" y1="670.52" x2="615.20" y2="670.52" stroke="#4a7cc2" stroke-width="0.60"/>
<line x1="612.60" y1="674.69" x2="615.20" y2="674.69" stroke="#4a7cc2" stroke-width="0.60"/>
<polyline points="397.30,687.40 419.03,686.36 440.77,683.23 462.50,682.19 484.24,681.15 505.23,679.48 526.96,680.11 548.70,681.15 570.43,681.15 592.17,679.90 613.90,672.60" fill="none" stroke="#4a7cc2" stroke-width="0.75"/>
<circle cx="397.30" cy="687.40" r="1.6" fill="#4a7cc2"/>
<circle cx="419.03" cy="686.36" r="1.6" fill="#4a7cc2"/>
<circle cx="440.77" cy="683.23" r="1.6" fill="#4a7cc2"/>
<circle cx="462.50" cy="682.19" r="1.6" fill="#4a7cc2"/>
<circle cx="484.24" cy="681.15" r="1.6" fill="#4a7cc2"/>
<circle cx="505.23" cy="679.48" r="1.6" fill="#4a7cc2"/>
<circle cx="526.96" cy="680.11" r="1.6" fill="#4a7cc2"/>
<circle cx="548.70" cy="681.15" r="1.6" fill="#4a7cc2"/>
<circle cx="570.43" cy="681.15" r="1.6" fill="#4a7cc2"/>
<circle cx="592.17" cy="679.90" r="1.6" fill="#4a7cc2"/>
<circle cx="613.90" cy="672.60" r="1.6" fill="#4a7cc2"/>
<line x1="570.43" y1="663.43" x2="570.43" y2="667.60" stroke="#d92b2b" stroke-width="0.60"/>
<line x1="569.13" y1="663.43" x2="571.73" y2="663.43" stroke="#d92b2b" stroke-width="0.60"/>
<line x1="569.13" y1="667.60" x2="571.73" y2="667.60" stroke="#d92b2b" stroke-width="0.60"/>
<line x1="592.17" y1="498.59" x2="592.17" y2="559.03" stroke="#d92b2b" stroke-width="0.60"/>
<line x1="590.87" y1="498.59" x2="593.47" y2="498.59" stroke="#d92b2b" stroke-width="0.60"/>
<line x1="590.87" y1="559.03" x2="593.47" y2="559.03" stroke="#d92b2b" stroke-width="0.60"/>
<polyline points="397.30,687.40 419.03,687.40 440.77,687.40 462.50,687.40 484.24,687.40 505.23,687.40 526.96,687.40 548.70,687.40 570.43,665.52 592.17,528.81 613.90,479.00" fill="none" stroke="#d92b2b" stroke-width="0.75"/>
<circle cx="397.30" cy="687.40" r="1.6" fill="#d92b2b"/>
<circle cx="419.03" cy="687.40" r="1.6" fill="#d92b2b"/>
<circle cx="440.77" cy="687.40" r="1.6" fill="#d92b2b"/>
<circle cx="462.50" cy="687.40" r="1.6" fill="#d92b2b"/>
<circle cx="484.24" cy="687.40" r="1.6" fill="#d92b2b"/>
<circle cx="505.23" cy="687.40" r="1.6" fill="#d92b2b"/>
<circle cx="526.96" cy="687.40" r="1.6" fill="#d92b2b"/>
<circle cx="548.70" cy="687.40" r="1.6" fill="#d92b2b"/>
<circle cx="570.43" cy="665.52" r="1.6" fill="#d92b2b"/>
<circle cx="592.17" cy="528.81" r="1.6" fill="#d92b2b"/>
<circle cx="613.90" cy="479.00" r="1.6" fill="#d92b2b"/>
<line x1="505.23" y1="665.73" x2="505.23" y2="669.89" stroke="#4b1d8c" stroke-width="0.60"/>
<line x1="503.93" y1="665.73" x2="506.53" y2="665.73" stroke="#4b1d8c" stroke-width="0.60"/>
<line x1="503.93" y1="669.89" x2="506.53" y2="669.89" stroke="#4b1d8c" stroke-width="0.60"/>
<line x1="548.70" y1="638.43" x2="548.70" y2="642.59" stroke="#4b1d8c" stroke-width="0.60"/>
<line x1="547.40" y1="638.43" x2="550.00" y2="638.43" stroke="#4b1d8c" stroke-width="0.60"/>
<line x1="547.40" y1="642.59" x2="550.00" y2="642.59" stroke="#4b1d8c" stroke-width="0.60"/>
<line x1="570.43" y1="620.50" x2="570.43" y2="624.67" stroke="#4b1d8c" stroke-width="0.60"/>
<line x1="569.13" y1="620.50" x2="571.73" y2="620.50" stroke="#4b1d8c" stroke-width="0.60"/>
<line x1="569.13" y1="624.67" x2="571.73" y2="624.67" stroke="#4b1d8c" stroke-width="0.60"/>
<line x1="592.17" y1="529.02" x2="592.17" y2="537.35" stroke="#4b1d8c" stroke-width="0.60"/>
<line x1="590.87" y1="529.02" x2="593.47" y2="529.02" stroke="#4b1d8c" stroke-width="0.60"/>
<line x1="590.87" y1="537.35" x2="593.47" y2="537.35" stroke="#4b1d8c" stroke-width="0.60"/>
<line x1="613.90" y1="492.13" x2="613.90" y2="500.47" stroke="#4b1d8c" stroke-width="0.60"/>
<line x1="612.60" y1="492.13" x2="615.20" y2="492.13" stroke="#4b1d8c" stroke-width="0.60"/>
<line x1="612.60" y1="500.47" x2="615.20" y2="500.47" stroke="#4b1d8c" stroke-width="0.60"/>
<polyline points="397.30,678.02 419.03,682.19 440.77,681.15 462.50,681.15 484.24,680.31 505.23,667.81 526.96,671.56 548.70,640.51 570.43,622.59 592.17,533.18 613.90,496.30" fill="none" stroke="#4b1d8c" stroke-width="0.75"/>
<circle cx="397.30" cy="678.02" r="1.6" fill="#4b1d8c"/>
<circle cx="419.03" cy="682.19" r="1.6" fill="#4b1d8c"/>
<circle cx="440.77" cy="681.15" r="1.6" fill="#4b1d8c"/>
<circle cx="462.50" cy="681.15" r="1.6" fill="#4b1d8c"/>
<circle cx="484.24" cy="680.31" r="1.6" fill="#4b1d8c"/>
<circle cx="505.23" cy="667.81" r="1.6" fill="#4b1d8c"/>
<circle cx="526.96" cy="671.56" r="1.6" fill="#4b1d8c"/>
<circle cx="548.70" cy="640.51" r="1.6" fill="#4b1d8c"/>
<circle cx="570.43" cy="622.59" r="1.6" fill="#4b1d8c"/>
<circle cx="592.17" cy="533.18" r="1.6" fill="#4b1d8c"/>
<circle cx="613.90" cy="496.30" r="1.6" fill="#4b1d8c"/>
<line x1="397.30" y1="672.81" x2="397.30" y2="687.40" stroke="#000000" stroke-width="0.60"/>
<line x1="396.00" y1="672.81" x2="398.60" y2="672.81" stroke="#000000" stroke-width="0.60"/>
<line x1="396.00" y1="687.40" x2="398.60" y2="687.40" stroke="#000000" stroke-width="0.60"/>
<line x1="419.03" y1="682.19" x2="419.03" y2="686.36" stroke="#000000" stroke-width="0.60"/>
<line x1="417.73" y1="682.19" x2="420.33" y2="682.19" stroke="#000000" stroke-width="0.60"/>
<line x1="417.73" y1="686.36" x2="420.33" y2="686.36" stroke="#000000" stroke-width="0.60"/>
<line x1="526.96" y1="680.11" x2="526.96" y2="684.27" stroke="#000000" stroke-width="0.60"/>
<line x1="525.66" y1="680.11" x2="528.26" y2="680.11" stroke="#000000" stroke-width="0.60"/>
<line x1="525.66" y1="684.27" x2="528.26" y2="684.27" stroke="#000000" stroke-width="0.60"/>
<line x1="548.70" y1="641.55" x2="548.70" y2="679.06" stroke="#000000" stroke-width="0.60"/>
<line x1="547.40" y1="641.55" x2="550.00" y2="641.55" stroke="#000000" stroke-width="0.60"/>
<line x1="547.40" y1="679.06" x2="550.00" y2="679.06" stroke="#000000" stroke-width="0.60"/>
<line x1="570.43" y1="603.00" x2="570.43" y2="653.01" stroke="#000000" stroke-width="0.60"/>
<line x1="569.13" y1="603.00" x2="571.73" y2="603.00" stroke="#000000" stroke-width="0.60"/>
<line x1="569.13" y1="653.01" x2="571.73" y2="653.01" stroke="#000000" stroke-width="0.60"/>
<line x1="592.17" y1="501.30" x2="592.17" y2="513.80" stroke="#000000" stroke-width="0.60"/>
<line x1="590.87" y1="501.30" x2="593.47" y2="501.30" stroke="#000000" stroke-width="0.60"/>
<line x1="590.87" y1="513.80" x2="593.47" y2="513.80" stroke="#000000" stroke-width="0.60"/>
<line x1="613.90" y1="490.25" x2="613.90" y2="511.09" stroke="#000000" stroke-width="0.60"/>
<line x1="612.60" y1="490.25" x2="615.20" y2="490.25" stroke="#000000" stroke-width="0.60"/>
<line x1="612.60" y1="511.09" x2="615.20" y2="511.09" stroke="#000000" stroke-width="0.60"/>
<polyline points="397.30,680.11 419.03,684.27 440.77,687.40 462.50,687.40 484.24,687.40 505.23,686.36 526.96,682.19 548.70,660.31 570.43,628.01 592.17,507.55 613.90,500.67" fill="none" stroke="#000000" stroke-width="0.75"/>
<circle cx="397.30" cy="680.11" r="1.6" fill="#000000"/>
<circle cx="419.03" cy="684.27" r="1.6" fill="#000000"/>
<circle cx="440.77" cy="687.40" r="1.6" fill="#000000"/>
<circle cx="462.50" cy="687.40" r="1.6" fill="#000000"/>
<circle cx="484.24" cy="687.40" r="1.6" fill="#000000"/>
<circle cx="505.23" cy="686.36" r="1.6" fill="#000000"/>
<circle cx="526.96" cy="682.19" r="1.6" fill="#000000"/>
<circle cx="548.70" cy="660.31" r="1.6" fill="#000000"/>
<circle cx="570.43" cy="628.01" r="1.6" fill="#000000"/>
<circle cx="592.17" cy="507.55" r="1.6" fill="#000000"/>
<circle cx="613.90" cy="500.67" r="1.6" fill="#000000"/>
</g>
<defs><clipPath id="fclip"><rect x="393.90" y="466.50" width="223.60" height="225.50"/></clipPath></defs>
<line x1="626.30" y1="473.30" x2="633.30" y2="473.30" stroke="#000000" stroke-width="0.80"/>
<circle cx="629.8" cy="473.30" r="1.7" fill="#000000"/>
<text x="636.30" y="475.40" font-size="6.00" text-anchor="start" font-weight="bold" fill="#000" stroke="#000" stroke-width="0.12">VmCT1</text>
<line x1="626.30" y1="480.96" x2="633.30" y2="480.96" stroke="#4a7cc2" stroke-width="0.80"/>
<circle cx="629.8" cy="480.96" r="1.7" fill="#4a7cc2"/>
<text x="636.30" y="483.06" font-size="6.00" text-anchor="start" font-weight="bold" fill="#000" stroke="#000" stroke-width="0.12">Anoplin</text>
<line x1="626.30" y1="488.62" x2="633.30" y2="488.62" stroke="#8ec4e8" stroke-width="0.80"/>
<circle cx="629.8" cy="488.62" r="1.7" fill="#8ec4e8"/>
<text x="636.30" y="490.72" font-size="6.00" text-anchor="start" font-weight="bold" fill="#000" stroke="#000" stroke-width="0.12">AV</text>
<line x1="626.30" y1="496.28" x2="633.30" y2="496.28" stroke="#d92b2b" stroke-width="0.80"/>
<circle cx="629.8" cy="496.28" r="1.7" fill="#d92b2b"/>
<text x="636.30" y="498.38" font-size="6.00" text-anchor="start" font-weight="bold" fill="#000" stroke="#000" stroke-width="0.12">Protonectin</text>
<line x1="626.30" y1="503.94" x2="633.30" y2="503.94" stroke="#f4835a" stroke-width="0.80"/>
<circle cx="629.8" cy="503.94" r="1.7" fill="#f4835a"/>
<text x="636.30" y="506.04" font-size="6.00" text-anchor="start" font-weight="bold" fill="#000" stroke="#000" stroke-width="0.12">PV</text>
<line x1="626.30" y1="511.60" x2="633.30" y2="511.60" stroke="#fdd58a" stroke-width="0.80"/>
<circle cx="629.8" cy="511.60" r="1.7" fill="#fdd58a"/>
<text x="636.30" y="513.70" font-size="6.00" text-anchor="start" font-weight="bold" fill="#000" stroke="#000" stroke-width="0.12">VP</text>
<line x1="626.30" y1="519.26" x2="633.30" y2="519.26" stroke="#4b1d8c" stroke-width="0.80"/>
<circle cx="629.8" cy="519.26" r="1.7" fill="#4b1d8c"/>
<text x="636.30" y="521.36" font-size="6.00" text-anchor="start" font-weight="bold" fill="#000" stroke="#000" stroke-width="0.12">Decoralin</text>
<line x1="626.30" y1="526.92" x2="633.30" y2="526.92" stroke="#9c8fd2" stroke-width="0.80"/>
<circle cx="629.8" cy="526.92" r="1.7" fill="#9c8fd2"/>
<text x="636.30" y="529.02" font-size="6.00" text-anchor="start" font-weight="bold" fill="#000" stroke="#000" stroke-width="0.12">DV</text>
<line x1="626.30" y1="534.58" x2="633.30" y2="534.58" stroke="#d6d6ee" stroke-width="0.80"/>
<circle cx="629.8" cy="534.58" r="1.7" fill="#d6d6ee"/>
<text x="636.30" y="536.68" font-size="6.00" text-anchor="start" font-weight="bold" fill="#000" stroke="#000" stroke-width="0.12">VD</text>
<line x1="626.30" y1="542.24" x2="633.30" y2="542.24" stroke="#b35812" stroke-width="0.80"/>
<circle cx="629.8" cy="542.24" r="1.7" fill="#b35812"/>
<text x="636.30" y="544.34" font-size="6.00" text-anchor="start" font-weight="bold" fill="#000" stroke="#000" stroke-width="0.12">Temporin A</text>
<line x1="626.30" y1="549.90" x2="633.30" y2="549.90" stroke="#f2a145" stroke-width="0.80"/>
<circle cx="629.8" cy="549.90" r="1.7" fill="#f2a145"/>
<text x="636.30" y="552.00" font-size="6.00" text-anchor="start" font-weight="bold" fill="#000" stroke="#000" stroke-width="0.12">TV</text>
<line x1="626.30" y1="557.56" x2="633.30" y2="557.56" stroke="#fdd6a6" stroke-width="0.80"/>
<circle cx="629.8" cy="557.56" r="1.7" fill="#fdd6a6"/>
<text x="636.30" y="559.66" font-size="6.00" text-anchor="start" font-weight="bold" fill="#000" stroke="#000" stroke-width="0.12">VT</text>
</svg>
</body></html>
